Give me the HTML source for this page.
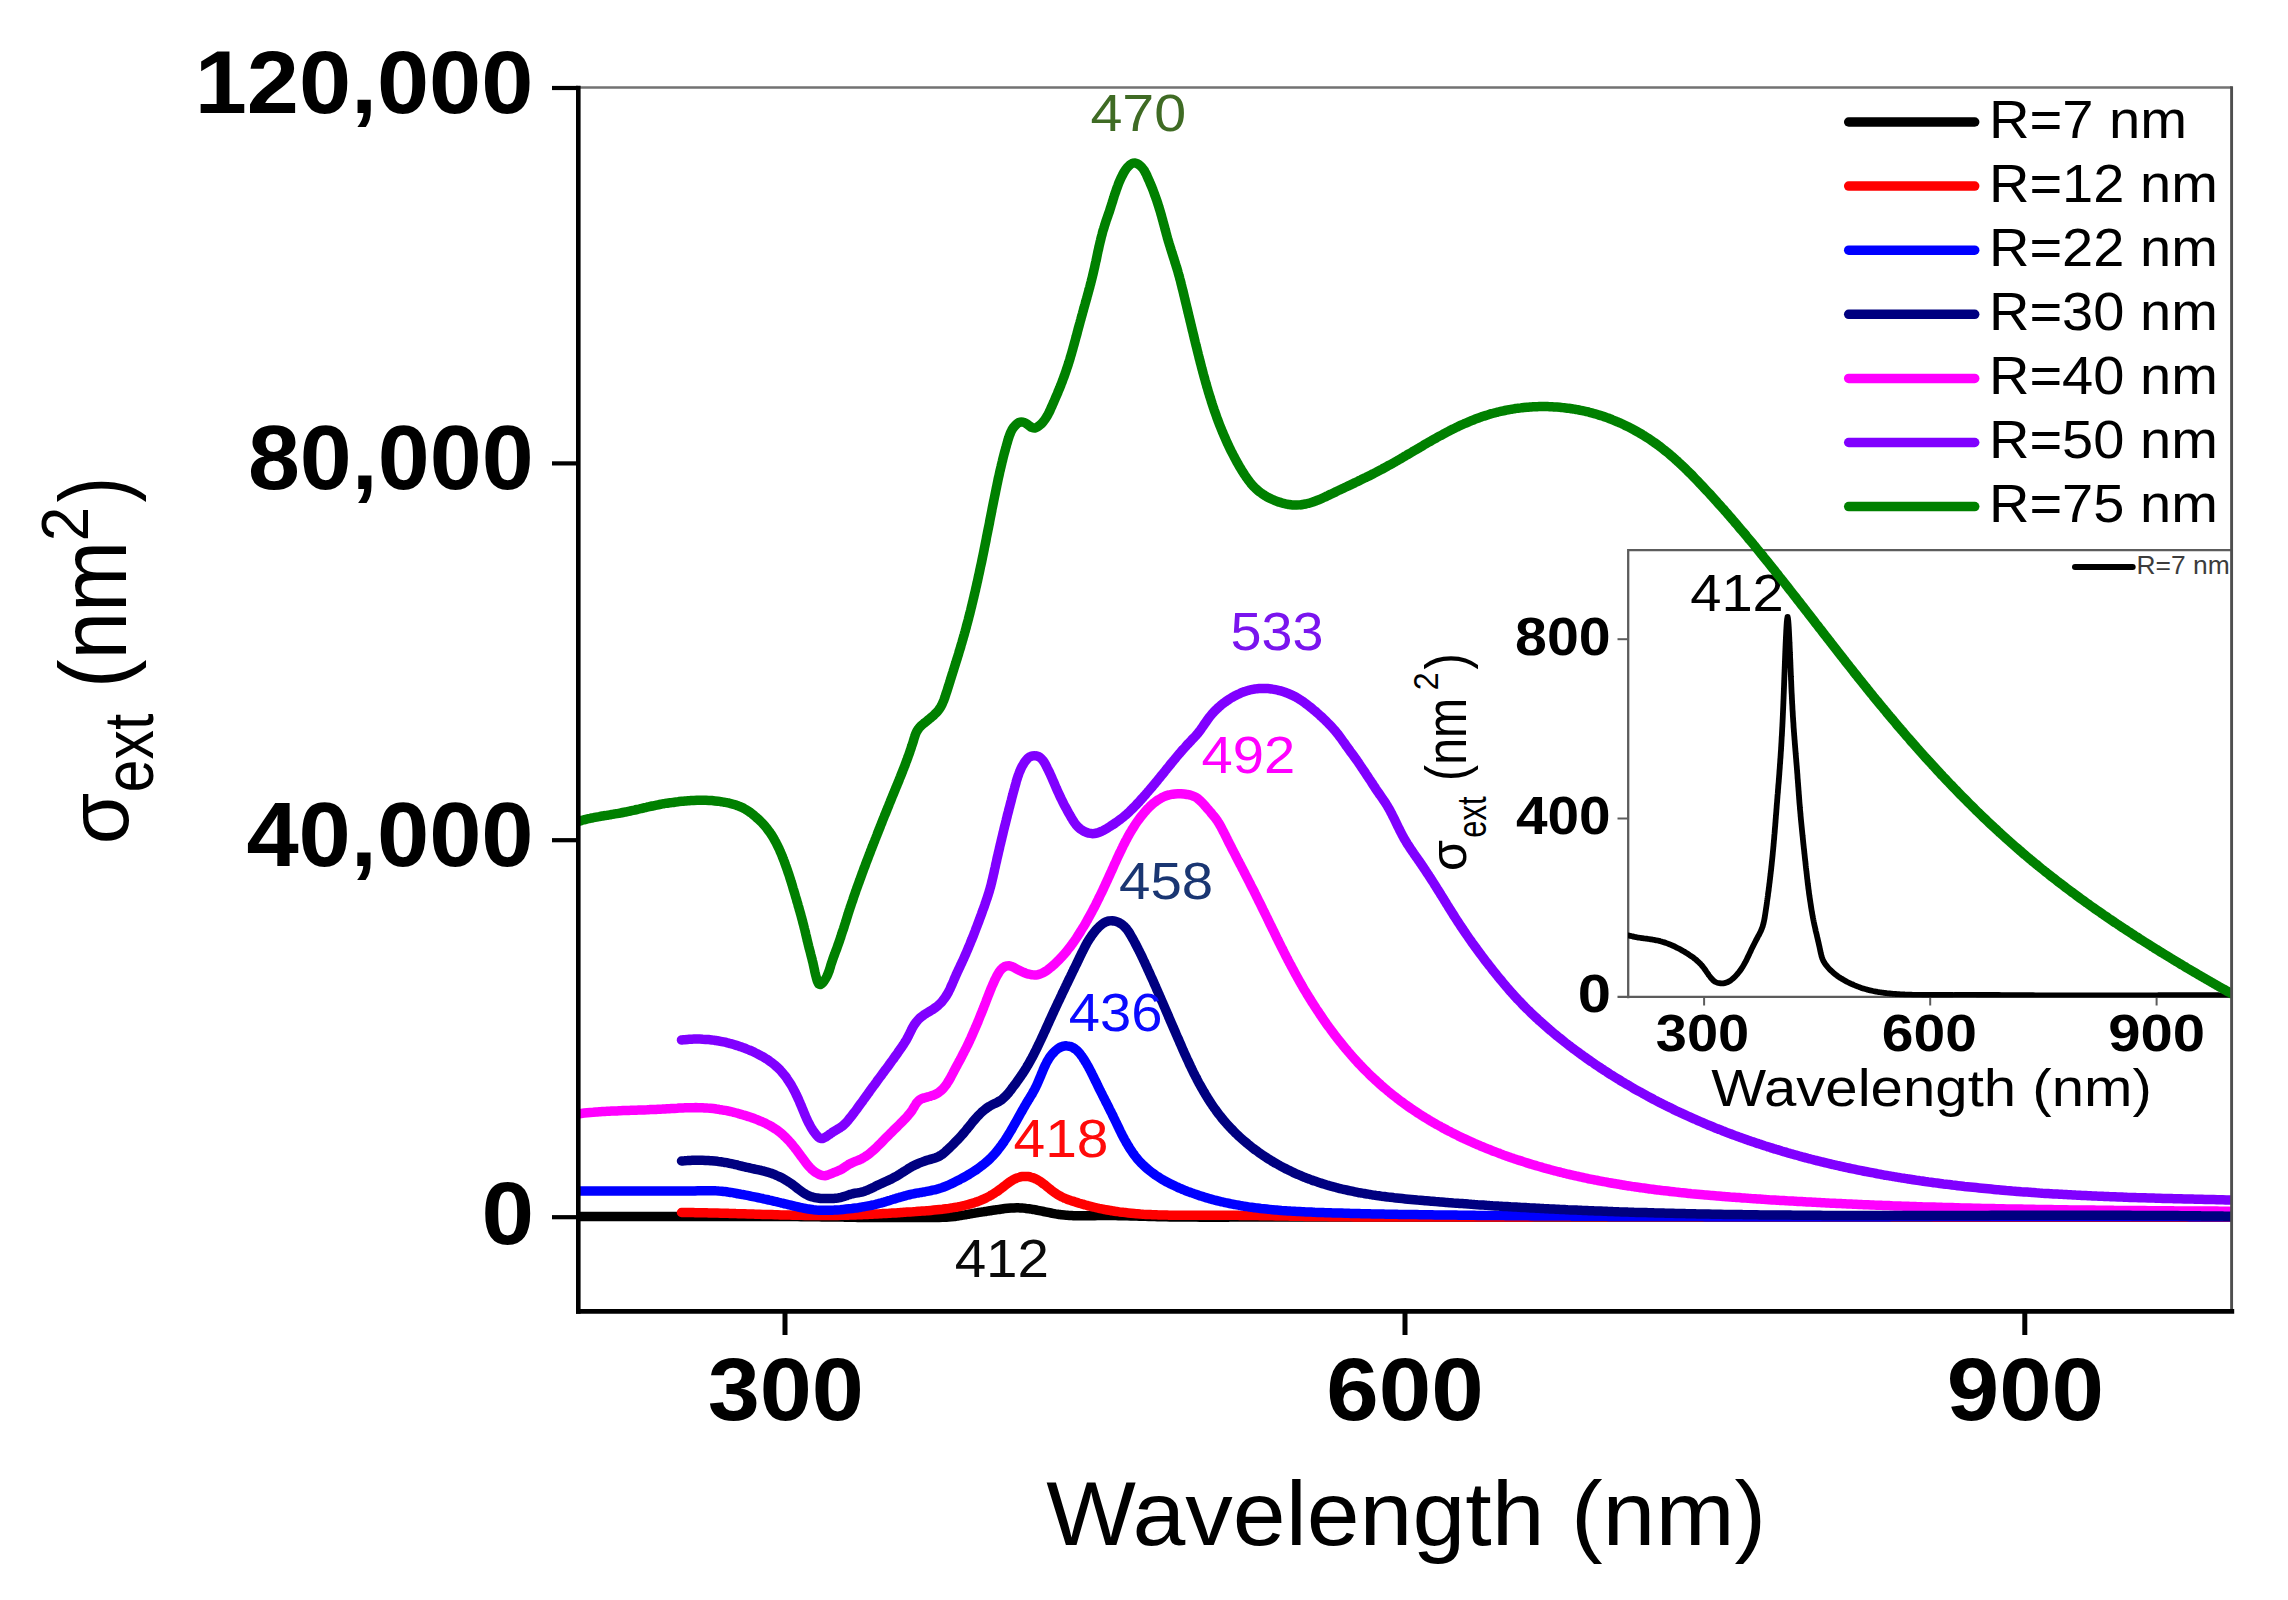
<!DOCTYPE html>
<html lang="en"><head><meta charset="utf-8"><title>Extinction cross section vs wavelength</title>
<style>html,body{margin:0;padding:0;background:#fff}svg{display:block}text{font-family:"Liberation Sans",Arial,sans-serif}.b{font-weight:bold}.c{fill:none;stroke-linecap:round;stroke-linejoin:round}</style></head><body>
<svg xmlns="http://www.w3.org/2000/svg" width="2288" height="1600" viewBox="0 0 2288 1600">
<defs><clipPath id="plot"><rect x="576.5" y="88" width="1656.5" height="1223"/></clipPath><clipPath id="ins"><rect x="1628" y="550" width="604.8" height="447.4"/></clipPath></defs>
<rect width="2288" height="1600" fill="#fff"/>
<g id="inset">
<path d="M1628.2,998.2 V550.1 H2231.5" fill="none" stroke="#5c5c5c" stroke-width="2.3"/>
<path d="M1617.5,996.9 H2231.5" fill="none" stroke="#5c5c5c" stroke-width="2.3"/>
<path d="M1617.5,639.2 H1628" stroke="#5c5c5c" stroke-width="2"/>
<path d="M1617.5,818.5 H1628" stroke="#5c5c5c" stroke-width="2"/>
<path d="M1704.1,997 V1005.5" stroke="#5c5c5c" stroke-width="2"/>
<path d="M1930.2,997 V1005.5" stroke="#5c5c5c" stroke-width="2"/>
<path d="M2156.6,997 V1005.5" stroke="#5c5c5c" stroke-width="2"/>
<path class="c" d="M1628.9,935.4C1629.2,935.5 1630.1,935.8 1630.8,935.9C1631.4,936.1 1632.1,936.3 1632.7,936.4C1633.4,936.6 1634.0,936.7 1634.7,936.9C1635.3,937.0 1636.0,937.1 1636.6,937.2C1637.3,937.4 1638.0,937.5 1638.6,937.6C1639.3,937.7 1639.9,937.8 1640.6,937.9C1641.3,938.0 1641.9,938.1 1642.6,938.2C1643.3,938.3 1643.9,938.4 1644.6,938.5C1645.3,938.6 1645.9,938.6 1646.6,938.7C1647.3,938.8 1647.9,938.9 1648.6,939.0C1649.3,939.1 1649.9,939.2 1650.6,939.3C1651.3,939.4 1651.9,939.5 1652.6,939.6C1653.2,939.7 1653.9,939.8 1654.6,939.9C1655.2,940.1 1655.9,940.2 1656.5,940.3C1657.2,940.5 1657.8,940.6 1658.5,940.7C1659.1,940.9 1659.8,941.0 1660.4,941.2C1661.1,941.4 1661.7,941.6 1662.3,941.8C1663.0,941.9 1663.6,942.1 1664.2,942.4C1664.9,942.6 1665.5,942.8 1666.1,943.0C1666.8,943.2 1667.4,943.5 1668.0,943.7C1668.6,943.9 1669.2,944.2 1669.8,944.4C1670.5,944.7 1671.1,945.0 1671.7,945.2C1672.3,945.5 1672.9,945.8 1673.5,946.1C1674.1,946.3 1674.7,946.6 1675.3,946.9C1675.9,947.2 1676.5,947.5 1677.1,947.8C1677.7,948.1 1678.3,948.4 1678.9,948.7C1679.5,949.1 1680.1,949.4 1680.7,949.7C1681.3,950.0 1681.9,950.3 1682.4,950.7C1683.0,951.0 1683.6,951.3 1684.2,951.7C1684.8,952.0 1685.4,952.4 1685.9,952.7C1686.5,953.1 1687.1,953.4 1687.7,953.8C1688.2,954.1 1688.8,954.5 1689.4,954.9C1689.9,955.2 1690.5,955.6 1691.0,956.0C1691.6,956.4 1692.1,956.8 1692.7,957.1C1693.2,957.5 1693.7,957.9 1694.3,958.4C1694.8,958.8 1695.3,959.2 1695.8,959.6C1696.3,960.0 1696.8,960.5 1697.3,960.9C1697.8,961.3 1698.3,961.8 1698.8,962.2C1699.3,962.7 1699.7,963.2 1700.2,963.6C1700.6,964.1 1701.1,964.6 1701.5,965.1C1702.0,965.6 1702.4,966.1 1702.8,966.6C1703.2,967.1 1703.6,967.7 1704.0,968.2C1704.4,968.8 1704.8,969.3 1705.2,969.9C1705.6,970.4 1706.0,971.0 1706.3,971.5C1706.7,972.1 1707.1,972.6 1707.5,973.2C1707.9,973.8 1708.3,974.3 1708.6,974.9C1709.0,975.4 1709.4,976.0 1709.9,976.5C1710.3,977.1 1710.7,977.6 1711.1,978.1C1711.6,978.6 1712.0,979.2 1712.5,979.6C1713.0,980.1 1713.5,980.5 1714.0,980.9C1714.5,981.3 1715.1,981.7 1715.6,982.0C1716.2,982.3 1716.8,982.6 1717.4,982.8C1718.1,983.0 1718.7,983.1 1719.4,983.2C1720.0,983.3 1720.7,983.4 1721.4,983.4C1722.0,983.4 1722.7,983.4 1723.4,983.3C1724.1,983.2 1724.7,983.1 1725.4,982.9C1726.0,982.7 1726.7,982.5 1727.3,982.3C1727.9,982.0 1728.5,981.7 1729.1,981.4C1729.7,981.0 1730.3,980.7 1730.8,980.3C1731.4,979.9 1731.9,979.5 1732.4,979.0C1732.9,978.6 1733.4,978.1 1733.9,977.7C1734.4,977.2 1734.9,976.7 1735.4,976.2C1735.8,975.8 1736.3,975.3 1736.7,974.8C1737.2,974.3 1737.6,973.8 1738.1,973.2C1738.5,972.7 1738.9,972.2 1739.3,971.7C1739.7,971.1 1740.1,970.6 1740.5,970.1C1740.9,969.5 1741.3,969.0 1741.6,968.4C1742.0,967.8 1742.4,967.3 1742.7,966.7C1743.1,966.2 1743.4,965.6 1743.7,965.0C1744.1,964.4 1744.4,963.8 1744.7,963.3C1745.0,962.7 1745.4,962.1 1745.7,961.5C1746.0,960.9 1746.3,960.3 1746.6,959.7C1746.9,959.1 1747.2,958.5 1747.4,957.9C1747.7,957.3 1748.0,956.7 1748.3,956.1C1748.6,955.5 1748.9,954.9 1749.2,954.3C1749.4,953.7 1749.7,953.1 1750.0,952.5C1750.3,951.9 1750.6,951.3 1750.9,950.6C1751.2,950.0 1751.4,949.4 1751.7,948.8C1752.0,948.2 1752.3,947.6 1752.6,947.0C1752.9,946.4 1753.2,945.9 1753.5,945.3C1753.8,944.7 1754.1,944.1 1754.4,943.5C1754.7,942.9 1755.0,942.3 1755.3,941.7C1755.6,941.1 1755.9,940.5 1756.2,939.9C1756.5,939.3 1756.9,938.7 1757.2,938.1C1757.5,937.5 1757.8,936.9 1758.1,936.3C1758.4,935.7 1758.8,935.2 1759.1,934.6C1759.4,934.0 1759.7,933.4 1760.0,932.8C1760.3,932.2 1760.6,931.6 1760.9,931.0C1761.1,930.3 1761.4,929.7 1761.6,929.1C1761.9,928.5 1762.1,927.9 1762.3,927.3C1762.6,926.6 1762.8,926.0 1762.9,925.4C1763.1,924.7 1763.3,924.1 1763.5,923.4C1763.6,922.8 1763.8,922.1 1763.9,921.5C1764.1,920.8 1764.2,920.2 1764.3,919.5C1764.5,918.9 1764.6,918.2 1764.7,917.6C1764.8,916.9 1764.9,916.2 1765.0,915.6C1765.1,914.9 1765.2,914.3 1765.3,913.6C1765.4,912.9 1765.5,912.3 1765.6,911.6C1765.7,910.9 1765.8,910.3 1765.9,909.6C1766.0,908.9 1766.1,908.3 1766.2,907.6C1766.3,907.0 1766.4,906.3 1766.5,905.6C1766.6,905.0 1766.7,904.3 1766.8,903.6C1766.9,903.0 1766.9,902.3 1767.0,901.7C1767.1,901.0 1767.2,900.3 1767.3,899.7C1767.4,899.0 1767.5,898.3 1767.6,897.7C1767.7,897.0 1767.8,896.3 1767.9,895.7C1768.0,895.0 1768.0,894.4 1768.1,893.7C1768.2,893.0 1768.3,892.4 1768.4,891.7C1768.5,891.0 1768.6,890.4 1768.7,889.7C1768.7,889.0 1768.8,888.4 1768.9,887.7C1769.0,887.1 1769.1,886.4 1769.2,885.7C1769.2,885.1 1769.3,884.4 1769.4,883.7C1769.5,883.1 1769.6,882.4 1769.7,881.7C1769.7,881.1 1769.8,880.4 1769.9,879.8C1770.0,879.1 1770.1,878.4 1770.1,877.8C1770.2,877.1 1770.3,876.4 1770.4,875.8C1770.4,875.1 1770.5,874.4 1770.6,873.8C1770.7,873.1 1770.8,872.5 1770.8,871.8C1770.9,871.1 1771.0,870.5 1771.1,869.8C1771.1,869.1 1771.2,868.5 1771.3,867.8C1771.3,867.1 1771.4,866.5 1771.5,865.8C1771.6,865.2 1771.6,864.5 1771.7,863.8C1771.8,863.2 1771.8,862.5 1771.9,861.8C1772.0,861.2 1772.1,860.5 1772.1,859.8C1772.2,859.2 1772.3,858.5 1772.3,857.9C1772.4,857.2 1772.5,856.5 1772.5,855.9C1772.6,855.2 1772.7,854.5 1772.7,853.9C1772.8,853.2 1772.8,852.6 1772.9,851.9C1773.0,851.2 1773.0,850.6 1773.1,849.9C1773.2,849.2 1773.2,848.6 1773.3,847.9C1773.3,847.2 1773.4,846.6 1773.5,845.9C1773.5,845.3 1773.6,844.6 1773.6,843.9C1773.7,843.3 1773.8,842.6 1773.8,841.9C1773.9,841.3 1773.9,840.6 1774.0,839.9C1774.1,839.3 1774.1,838.6 1774.2,838.0C1774.2,837.3 1774.3,836.6 1774.3,836.0C1774.4,835.3 1774.4,834.6 1774.5,834.0C1774.6,833.3 1774.6,832.6 1774.7,832.0C1774.7,831.3 1774.8,830.6 1774.8,830.0C1774.9,829.3 1774.9,828.7 1775.0,828.0C1775.0,827.3 1775.1,826.7 1775.2,826.0C1775.2,825.3 1775.3,824.7 1775.3,824.0C1775.4,823.3 1775.4,822.7 1775.5,822.0C1775.5,821.3 1775.6,820.7 1775.6,820.0C1775.7,819.3 1775.7,818.7 1775.8,818.0C1775.8,817.3 1775.9,816.7 1775.9,816.0C1776.0,815.3 1776.1,814.7 1776.1,814.0C1776.2,813.3 1776.2,812.6 1776.3,812.0C1776.3,811.3 1776.4,810.6 1776.4,810.0C1776.5,809.3 1776.5,808.6 1776.6,808.0C1776.6,807.3 1776.7,806.6 1776.7,806.0C1776.8,805.3 1776.8,804.6 1776.9,803.9C1776.9,803.3 1777.0,802.6 1777.1,801.9C1777.1,801.3 1777.2,800.6 1777.2,799.9C1777.3,799.2 1777.3,798.6 1777.4,797.9C1777.4,797.2 1777.5,796.5 1777.5,795.9C1777.6,795.2 1777.6,794.5 1777.7,793.9C1777.8,793.2 1777.8,792.5 1777.9,791.9C1777.9,791.2 1778.0,790.5 1778.0,789.8C1778.1,789.2 1778.1,788.5 1778.2,787.9C1778.2,787.2 1778.3,786.5 1778.3,785.9C1778.4,785.2 1778.4,784.6 1778.5,783.9C1778.6,783.2 1778.6,782.6 1778.7,781.9C1778.7,781.3 1778.8,780.7 1778.8,780.0C1778.9,779.4 1778.9,778.7 1779.0,778.1C1779.0,777.4 1779.1,776.8 1779.1,776.2C1779.2,775.6 1779.2,774.9 1779.3,774.3C1779.3,773.7 1779.3,773.0 1779.4,772.4C1779.4,771.8 1779.5,771.2 1779.5,770.6C1779.6,769.9 1779.6,769.3 1779.7,768.7C1779.7,768.1 1779.8,767.5 1779.8,766.9C1779.9,766.2 1779.9,765.6 1779.9,765.0C1780.0,764.4 1780.0,763.8 1780.1,763.2C1780.1,762.6 1780.2,762.0 1780.2,761.4C1780.3,760.7 1780.3,760.1 1780.3,759.5C1780.4,758.9 1780.4,758.3 1780.5,757.7C1780.5,757.1 1780.5,756.5 1780.6,755.9C1780.6,755.3 1780.7,754.6 1780.7,754.0C1780.8,753.4 1780.8,752.8 1780.8,752.2C1780.9,751.6 1780.9,751.0 1781.0,750.4C1781.0,749.7 1781.0,749.1 1781.1,748.5C1781.1,747.9 1781.1,747.3 1781.2,746.6C1781.2,746.0 1781.3,745.4 1781.3,744.8C1781.3,744.1 1781.4,743.5 1781.4,742.9C1781.5,742.3 1781.5,741.6 1781.5,741.0C1781.6,740.4 1781.6,739.7 1781.6,739.1C1781.7,738.4 1781.7,737.8 1781.7,737.1C1781.8,736.5 1781.8,735.8 1781.9,735.2C1781.9,734.5 1781.9,733.9 1782.0,733.2C1782.0,732.6 1782.0,731.9 1782.1,731.2C1782.1,730.5 1782.1,729.9 1782.2,729.2C1782.2,728.5 1782.2,727.8 1782.3,727.1C1782.3,726.5 1782.4,725.8 1782.4,725.1C1782.4,724.4 1782.5,723.7 1782.5,723.0C1782.5,722.3 1782.6,721.6 1782.6,720.8C1782.6,720.1 1782.7,719.4 1782.7,718.7C1782.7,717.9 1782.8,717.2 1782.8,716.5C1782.8,715.7 1782.9,715.0 1782.9,714.2C1782.9,713.5 1783.0,712.7 1783.0,712.0C1783.0,711.2 1783.1,710.4 1783.1,709.6C1783.1,708.9 1783.2,708.1 1783.2,707.3C1783.2,706.5 1783.3,705.7 1783.3,704.9C1783.3,704.1 1783.4,703.3 1783.4,702.4C1783.4,701.6 1783.5,700.8 1783.5,700.0C1783.5,699.1 1783.6,698.3 1783.6,697.4C1783.6,696.6 1783.7,695.7 1783.7,694.8C1783.7,694.0 1783.8,693.1 1783.8,692.2C1783.8,691.4 1783.9,690.5 1783.9,689.6C1783.9,688.7 1784.0,687.8 1784.0,686.9C1784.0,686.0 1784.1,685.1 1784.1,684.2C1784.1,683.3 1784.2,682.4 1784.2,681.5C1784.2,680.6 1784.3,679.7 1784.3,678.8C1784.3,677.9 1784.4,677.0 1784.4,676.1C1784.4,675.2 1784.5,674.2 1784.5,673.3C1784.5,672.4 1784.6,671.5 1784.6,670.6C1784.6,669.7 1784.7,668.8 1784.7,667.9C1784.7,667.0 1784.8,666.1 1784.8,665.2C1784.8,664.3 1784.9,663.4 1784.9,662.5C1784.9,661.6 1785.0,660.8 1785.0,659.9C1785.0,659.0 1785.1,658.1 1785.1,657.3C1785.1,656.4 1785.2,655.5 1785.2,654.7C1785.2,653.8 1785.3,653.0 1785.3,652.1C1785.3,651.3 1785.4,650.5 1785.4,649.6C1785.4,648.8 1785.5,648.0 1785.5,647.2C1785.5,646.4 1785.6,645.6 1785.6,644.8C1785.6,644.0 1785.7,643.2 1785.7,642.5C1785.7,641.7 1785.8,641.0 1785.8,640.2C1785.8,639.5 1785.9,638.8 1785.9,638.0C1785.9,637.3 1786.0,636.6 1786.0,635.9C1786.0,635.2 1786.1,634.6 1786.1,633.9C1786.1,633.2 1786.2,632.6 1786.2,632.0C1786.2,631.3 1786.3,630.7 1786.3,630.1C1786.3,629.5 1786.4,628.9 1786.4,628.4C1786.4,627.8 1786.5,627.3 1786.5,626.7C1786.5,626.2 1786.5,625.7 1786.6,625.2C1786.6,624.7 1786.6,624.2 1786.7,623.8C1786.7,623.3 1786.7,622.9 1786.8,622.5C1786.8,622.1 1786.8,621.7 1786.9,621.3C1786.9,620.9 1786.9,620.6 1787.0,620.3C1787.0,619.9 1787.0,619.6 1787.1,619.4C1787.1,619.1 1787.1,618.8 1787.2,618.6C1787.2,618.4 1787.2,618.1 1787.3,618.0C1787.3,617.8 1787.3,617.6 1787.4,617.5C1787.4,617.4 1787.4,617.3 1787.5,617.2C1787.5,617.1 1787.5,617.0 1787.6,617.0C1787.6,617.0 1787.6,617.0 1787.7,617.0C1787.7,617.1 1787.7,617.1 1787.8,617.2C1787.8,617.3 1787.8,617.4 1787.8,617.5C1787.9,617.7 1787.9,617.8 1787.9,618.0C1788.0,618.2 1788.0,618.4 1788.0,618.7C1788.1,618.9 1788.1,619.2 1788.1,619.5C1788.2,619.7 1788.2,620.0 1788.2,620.4C1788.3,620.7 1788.3,621.1 1788.3,621.4C1788.4,621.8 1788.4,622.2 1788.4,622.6C1788.5,623.0 1788.5,623.5 1788.5,623.9C1788.6,624.4 1788.6,624.9 1788.6,625.4C1788.7,625.9 1788.7,626.4 1788.7,626.9C1788.8,627.4 1788.8,628.0 1788.8,628.6C1788.8,629.1 1788.9,629.7 1788.9,630.3C1788.9,630.9 1789.0,631.5 1789.0,632.2C1789.0,632.8 1789.1,633.5 1789.1,634.1C1789.1,634.8 1789.2,635.5 1789.2,636.2C1789.2,636.8 1789.3,637.5 1789.3,638.3C1789.3,639.0 1789.4,639.7 1789.4,640.5C1789.4,641.2 1789.5,642.0 1789.5,642.7C1789.6,643.5 1789.6,644.3 1789.6,645.1C1789.7,645.8 1789.7,646.6 1789.7,647.5C1789.8,648.3 1789.8,649.1 1789.8,649.9C1789.9,650.7 1789.9,651.6 1789.9,652.4C1790.0,653.2 1790.0,654.1 1790.0,654.9C1790.1,655.8 1790.1,656.7 1790.1,657.5C1790.2,658.4 1790.2,659.3 1790.3,660.2C1790.3,661.0 1790.3,661.9 1790.4,662.8C1790.4,663.7 1790.4,664.6 1790.5,665.5C1790.5,666.4 1790.5,667.3 1790.6,668.2C1790.6,669.1 1790.7,670.0 1790.7,670.9C1790.7,671.8 1790.8,672.7 1790.8,673.6C1790.8,674.5 1790.9,675.4 1790.9,676.3C1791.0,677.3 1791.0,678.2 1791.0,679.1C1791.1,680.0 1791.1,680.9 1791.2,681.8C1791.2,682.7 1791.2,683.6 1791.3,684.5C1791.3,685.4 1791.3,686.3 1791.4,687.2C1791.4,688.1 1791.5,689.0 1791.5,689.8C1791.5,690.7 1791.6,691.6 1791.6,692.5C1791.7,693.4 1791.7,694.2 1791.8,695.1C1791.8,696.0 1791.8,696.8 1791.9,697.7C1791.9,698.5 1792.0,699.4 1792.0,700.2C1792.1,701.0 1792.1,701.9 1792.1,702.7C1792.2,703.5 1792.2,704.3 1792.3,705.1C1792.3,705.9 1792.4,706.7 1792.4,707.5C1792.4,708.3 1792.5,709.1 1792.5,709.9C1792.6,710.6 1792.6,711.4 1792.7,712.2C1792.7,712.9 1792.8,713.7 1792.8,714.4C1792.8,715.2 1792.9,715.9 1792.9,716.7C1793.0,717.4 1793.0,718.1 1793.1,718.9C1793.1,719.6 1793.2,720.3 1793.2,721.0C1793.3,721.7 1793.3,722.4 1793.4,723.1C1793.4,723.9 1793.5,724.6 1793.5,725.2C1793.5,725.9 1793.6,726.6 1793.6,727.3C1793.7,728.0 1793.7,728.7 1793.8,729.4C1793.8,730.0 1793.9,730.7 1793.9,731.4C1794.0,732.0 1794.0,732.7 1794.1,733.4C1794.1,734.0 1794.2,734.7 1794.2,735.3C1794.3,736.0 1794.3,736.6 1794.4,737.3C1794.4,737.9 1794.5,738.6 1794.5,739.2C1794.6,739.8 1794.6,740.5 1794.7,741.1C1794.7,741.8 1794.8,742.4 1794.8,743.0C1794.9,743.6 1794.9,744.3 1795.0,744.9C1795.0,745.5 1795.1,746.1 1795.1,746.8C1795.2,747.4 1795.2,748.0 1795.3,748.6C1795.3,749.2 1795.4,749.9 1795.4,750.5C1795.5,751.1 1795.5,751.7 1795.6,752.3C1795.6,752.9 1795.7,753.5 1795.7,754.1C1795.8,754.8 1795.8,755.4 1795.9,756.0C1795.9,756.6 1796.0,757.2 1796.0,757.8C1796.1,758.4 1796.1,759.0 1796.2,759.6C1796.2,760.2 1796.3,760.8 1796.3,761.5C1796.4,762.1 1796.4,762.7 1796.5,763.3C1796.5,763.9 1796.6,764.5 1796.6,765.1C1796.7,765.7 1796.7,766.3 1796.8,767.0C1796.8,767.6 1796.9,768.2 1796.9,768.8C1797.0,769.4 1797.0,770.0 1797.1,770.7C1797.1,771.3 1797.2,771.9 1797.2,772.5C1797.3,773.1 1797.3,773.8 1797.4,774.4C1797.4,775.0 1797.5,775.7 1797.5,776.3C1797.5,776.9 1797.6,777.6 1797.6,778.2C1797.7,778.8 1797.7,779.5 1797.8,780.1C1797.8,780.8 1797.9,781.4 1797.9,782.1C1798.0,782.7 1798.0,783.4 1798.1,784.0C1798.1,784.7 1798.2,785.3 1798.2,786.0C1798.3,786.7 1798.3,787.3 1798.4,788.0C1798.4,788.6 1798.5,789.3 1798.5,790.0C1798.6,790.6 1798.6,791.3 1798.7,792.0C1798.7,792.7 1798.8,793.3 1798.8,794.0C1798.9,794.7 1798.9,795.3 1799.0,796.0C1799.0,796.7 1799.1,797.4 1799.1,798.0C1799.2,798.7 1799.2,799.4 1799.3,800.1C1799.3,800.7 1799.4,801.4 1799.4,802.1C1799.5,802.7 1799.5,803.4 1799.6,804.1C1799.6,804.8 1799.7,805.4 1799.8,806.1C1799.8,806.8 1799.9,807.4 1799.9,808.1C1800.0,808.8 1800.0,809.4 1800.1,810.1C1800.2,810.8 1800.2,811.5 1800.3,812.1C1800.3,812.8 1800.4,813.5 1800.5,814.1C1800.5,814.8 1800.6,815.5 1800.6,816.1C1800.7,816.8 1800.8,817.5 1800.8,818.1C1800.9,818.8 1800.9,819.5 1801.0,820.1C1801.1,820.8 1801.1,821.5 1801.2,822.1C1801.3,822.8 1801.3,823.4 1801.4,824.1C1801.5,824.8 1801.5,825.4 1801.6,826.1C1801.6,826.8 1801.7,827.4 1801.8,828.1C1801.8,828.8 1801.9,829.4 1802.0,830.1C1802.0,830.7 1802.1,831.4 1802.2,832.1C1802.2,832.7 1802.3,833.4 1802.4,834.1C1802.4,834.7 1802.5,835.4 1802.6,836.1C1802.7,836.7 1802.7,837.4 1802.8,838.0C1802.9,838.7 1802.9,839.4 1803.0,840.0C1803.1,840.7 1803.1,841.4 1803.2,842.0C1803.3,842.7 1803.3,843.3 1803.4,844.0C1803.5,844.7 1803.6,845.3 1803.6,846.0C1803.7,846.6 1803.8,847.3 1803.8,848.0C1803.9,848.6 1804.0,849.3 1804.1,850.0C1804.1,850.6 1804.2,851.3 1804.3,851.9C1804.3,852.6 1804.4,853.3 1804.5,853.9C1804.6,854.6 1804.6,855.3 1804.7,855.9C1804.8,856.6 1804.8,857.2 1804.9,857.9C1805.0,858.6 1805.1,859.2 1805.1,859.9C1805.2,860.6 1805.3,861.2 1805.4,861.9C1805.4,862.5 1805.5,863.2 1805.6,863.9C1805.6,864.5 1805.7,865.2 1805.8,865.9C1805.9,866.5 1805.9,867.2 1806.0,867.9C1806.1,868.5 1806.2,869.2 1806.2,869.9C1806.3,870.5 1806.4,871.2 1806.5,871.8C1806.5,872.5 1806.6,873.2 1806.7,873.8C1806.8,874.5 1806.8,875.2 1806.9,875.8C1807.0,876.5 1807.1,877.2 1807.1,877.8C1807.2,878.5 1807.3,879.2 1807.4,879.8C1807.5,880.5 1807.5,881.2 1807.6,881.8C1807.7,882.5 1807.8,883.2 1807.8,883.8C1807.9,884.5 1808.0,885.1 1808.1,885.8C1808.2,886.5 1808.3,887.1 1808.3,887.8C1808.4,888.5 1808.5,889.1 1808.6,889.8C1808.7,890.5 1808.8,891.1 1808.9,891.8C1808.9,892.5 1809.0,893.1 1809.1,893.8C1809.2,894.4 1809.3,895.1 1809.4,895.8C1809.5,896.4 1809.6,897.1 1809.7,897.8C1809.8,898.4 1809.9,899.1 1810.0,899.7C1810.1,900.4 1810.2,901.1 1810.3,901.7C1810.4,902.4 1810.5,903.1 1810.6,903.7C1810.7,904.4 1810.8,905.0 1810.9,905.7C1811.0,906.4 1811.1,907.0 1811.2,907.7C1811.3,908.3 1811.4,909.0 1811.5,909.6C1811.6,910.3 1811.7,911.0 1811.9,911.6C1812.0,912.3 1812.1,912.9 1812.2,913.6C1812.3,914.3 1812.4,914.9 1812.6,915.6C1812.7,916.2 1812.8,916.9 1812.9,917.5C1813.1,918.2 1813.2,918.8 1813.3,919.5C1813.4,920.1 1813.6,920.8 1813.7,921.5C1813.8,922.1 1814.0,922.8 1814.1,923.4C1814.2,924.1 1814.4,924.7 1814.5,925.4C1814.7,926.0 1814.8,926.7 1815.0,927.3C1815.1,928.0 1815.3,928.6 1815.4,929.3C1815.5,929.9 1815.7,930.6 1815.8,931.2C1816.0,931.9 1816.1,932.5 1816.3,933.2C1816.5,933.8 1816.6,934.5 1816.8,935.1C1816.9,935.7 1817.1,936.4 1817.2,937.0C1817.4,937.7 1817.5,938.3 1817.7,939.0C1817.8,939.6 1818.0,940.3 1818.1,940.9C1818.3,941.6 1818.4,942.2 1818.6,942.9C1818.7,943.6 1818.9,944.2 1819.0,944.9C1819.2,945.5 1819.3,946.2 1819.5,946.8C1819.6,947.5 1819.7,948.1 1819.9,948.8C1820.0,949.5 1820.2,950.1 1820.3,950.8C1820.4,951.4 1820.6,952.1 1820.7,952.8C1820.8,953.4 1821.0,954.1 1821.2,954.7C1821.3,955.4 1821.5,956.0 1821.7,956.7C1821.9,957.3 1822.1,957.9 1822.3,958.5C1822.6,959.2 1822.8,959.8 1823.1,960.4C1823.4,961.0 1823.7,961.5 1824.1,962.1C1824.4,962.7 1824.7,963.3 1825.1,963.8C1825.5,964.4 1825.9,964.9 1826.3,965.4C1826.7,966.0 1827.1,966.5 1827.6,967.0C1828.0,967.5 1828.4,968.0 1828.9,968.5C1829.4,969.0 1829.8,969.5 1830.3,969.9C1830.8,970.4 1831.3,970.9 1831.8,971.3C1832.3,971.8 1832.8,972.2 1833.3,972.7C1833.8,973.1 1834.3,973.5 1834.8,973.9C1835.4,974.4 1835.9,974.8 1836.4,975.2C1837.0,975.6 1837.5,976.0 1838.1,976.4C1838.6,976.7 1839.2,977.1 1839.7,977.5C1840.3,977.9 1840.9,978.2 1841.4,978.6C1842.0,978.9 1842.6,979.3 1843.1,979.6C1843.7,980.0 1844.3,980.3 1844.9,980.6C1845.4,981.0 1846.0,981.3 1846.6,981.6C1847.2,981.9 1847.8,982.2 1848.4,982.5C1849.0,982.8 1849.6,983.1 1850.2,983.4C1850.8,983.7 1851.4,984.0 1852.0,984.2C1852.6,984.5 1853.3,984.8 1853.9,985.0C1854.5,985.3 1855.1,985.6 1855.7,985.8C1856.3,986.0 1857.0,986.3 1857.6,986.5C1858.2,986.8 1858.9,987.0 1859.5,987.2C1860.1,987.4 1860.7,987.6 1861.4,987.9C1862.0,988.1 1862.7,988.3 1863.3,988.5C1863.9,988.7 1864.6,988.8 1865.2,989.0C1865.9,989.2 1866.5,989.4 1867.2,989.6C1867.8,989.7 1868.4,989.9 1869.1,990.1C1869.7,990.2 1870.4,990.4 1871.0,990.5C1871.7,990.7 1872.3,990.8 1873.0,991.0C1873.7,991.1 1874.3,991.2 1875.0,991.4C1875.6,991.5 1876.3,991.6 1876.9,991.7C1877.6,991.9 1878.2,992.0 1878.9,992.1C1879.6,992.2 1880.2,992.3 1880.9,992.4C1881.5,992.5 1882.2,992.6 1882.9,992.7C1883.5,992.8 1884.2,992.9 1884.8,993.0C1885.5,993.0 1886.2,993.1 1886.8,993.2C1887.5,993.3 1888.2,993.3 1888.8,993.4C1889.5,993.5 1890.2,993.5 1890.8,993.6C1891.5,993.7 1892.2,993.7 1892.8,993.8C1893.5,993.8 1894.2,993.9 1894.8,993.9C1895.5,994.0 1896.2,994.0 1896.8,994.1C1897.5,994.1 1898.2,994.2 1898.8,994.2C1899.5,994.3 1900.2,994.3 1900.8,994.3C1901.5,994.4 1902.2,994.4 1902.8,994.4C1903.5,994.5 1904.2,994.5 1904.8,994.5C1905.5,994.6 1906.2,994.6 1906.9,994.6C1907.5,994.6 1908.2,994.7 1908.9,994.7C1909.5,994.7 1910.2,994.7 1910.9,994.7C1911.5,994.8 1912.2,994.8 1912.9,994.8C1913.5,994.8 1914.2,994.8 1914.9,994.8C1915.5,994.9 1916.2,994.9 1916.9,994.9C1917.5,994.9 1918.2,994.9 1918.9,994.9C1919.5,994.9 1920.2,994.9 1920.9,994.9C1921.5,995.0 1922.2,995.0 1922.9,995.0C1923.6,995.0 1924.2,995.0 1924.9,995.0C1925.6,995.0 1926.2,995.0 1926.9,995.0C1927.6,995.0 1928.2,995.0 1928.9,995.0C1929.6,995.0 1930.2,995.0 1930.9,995.0C1931.6,995.0 1932.2,995.0 1932.9,995.0C1933.6,995.0 1934.2,995.0 1934.9,995.0C1935.6,995.0 1936.2,995.0 1936.9,995.0C1937.6,995.0 1938.2,995.0 1938.9,995.0C1939.6,995.0 1940.2,995.0 1940.9,995.0C1941.6,995.0 1942.2,995.0 1942.9,995.0C1943.6,995.0 1944.2,995.0 1944.9,995.0C1945.6,995.0 1946.2,995.0 1946.9,995.0C1947.6,995.0 1948.3,995.0 1948.9,995.0C1949.6,995.0 1950.3,995.0 1950.9,995.0C1951.6,995.0 1952.3,995.0 1952.9,995.0C1953.6,994.9 1954.3,994.9 1954.9,994.9C1955.6,994.9 1956.3,994.9 1956.9,994.9C1957.6,994.9 1958.3,994.9 1958.9,994.9C1959.6,994.9 1960.3,994.9 1960.9,994.9C1961.6,994.9 1962.3,994.9 1962.9,994.9C1963.6,994.9 1964.3,994.9 1964.9,994.9C1965.6,994.9 1966.3,994.9 1966.9,994.9C1967.6,994.9 1968.3,994.9 1969.0,994.9C1969.6,994.9 1970.3,994.9 1971.0,994.9C1971.6,994.9 1972.3,994.9 1973.0,994.9C1973.6,994.9 1974.3,994.9 1975.0,994.9C1975.6,994.9 1976.3,995.0 1977.0,995.0C1977.6,995.0 1978.3,995.0 1979.0,995.0C1979.6,995.0 1980.3,995.0 1981.0,995.0C1981.6,995.0 1982.3,995.0 1983.0,995.0C1983.6,995.0 1984.3,995.0 1985.0,995.0C1985.7,995.0 1986.3,995.0 1987.0,995.0C1987.7,995.0 1988.3,995.0 1989.0,995.0C1989.7,995.0 1990.3,995.0 1991.0,995.0C1991.7,995.0 1992.3,995.0 1993.0,995.0C1993.7,995.0 1994.3,995.0 1995.0,995.0C1995.7,995.0 1996.3,995.0 1997.0,995.0C1997.7,995.0 1998.3,995.0 1999.0,995.0C1999.7,995.0 2000.4,995.0 2001.0,995.1C2001.7,995.1 2002.4,995.1 2003.0,995.1C2003.7,995.1 2004.4,995.1 2005.0,995.1C2005.7,995.1 2006.4,995.1 2007.0,995.1C2007.7,995.1 2008.4,995.1 2009.0,995.1C2009.7,995.1 2010.4,995.1 2011.0,995.1C2011.7,995.1 2012.4,995.1 2013.1,995.1C2013.7,995.1 2014.4,995.1 2015.1,995.1C2015.7,995.1 2016.4,995.1 2017.1,995.1C2017.7,995.1 2018.4,995.2 2019.1,995.2C2019.7,995.2 2020.4,995.2 2021.1,995.2C2021.7,995.2 2022.4,995.2 2023.1,995.2C2023.7,995.2 2024.4,995.2 2025.1,995.2C2025.7,995.2 2026.4,995.2 2027.1,995.2C2027.8,995.2 2028.4,995.2 2029.1,995.2C2029.8,995.2 2030.4,995.2 2031.1,995.2C2031.8,995.2 2032.4,995.2 2033.1,995.2C2033.8,995.2 2034.4,995.2 2035.1,995.3C2035.8,995.3 2036.4,995.3 2037.1,995.3C2037.8,995.3 2038.4,995.3 2039.1,995.3C2039.8,995.3 2040.4,995.3 2041.1,995.3C2041.8,995.3 2042.5,995.3 2043.1,995.3C2043.8,995.3 2044.5,995.3 2045.1,995.3C2045.8,995.3 2046.5,995.3 2047.1,995.3C2047.8,995.3 2048.5,995.3 2049.1,995.3C2049.8,995.3 2050.5,995.3 2051.1,995.3C2051.8,995.3 2052.5,995.3 2053.1,995.3C2053.8,995.3 2054.5,995.3 2055.1,995.3C2055.8,995.3 2056.5,995.3 2057.2,995.3C2057.8,995.3 2058.5,995.3 2059.2,995.3C2059.8,995.4 2060.5,995.4 2061.2,995.4C2061.8,995.4 2062.5,995.4 2063.2,995.4C2063.8,995.4 2064.5,995.4 2065.2,995.4C2065.8,995.4 2066.5,995.4 2067.2,995.4C2067.8,995.4 2068.5,995.4 2069.2,995.4C2069.8,995.4 2070.5,995.4 2071.2,995.4C2071.9,995.4 2072.5,995.4 2073.2,995.4C2073.9,995.4 2074.5,995.4 2075.2,995.4C2075.9,995.4 2076.5,995.4 2077.2,995.4C2077.9,995.4 2078.5,995.4 2079.2,995.4C2079.9,995.4 2080.5,995.4 2081.2,995.4C2081.9,995.4 2082.5,995.4 2083.2,995.4C2083.9,995.4 2084.5,995.4 2085.2,995.4C2085.9,995.4 2086.5,995.4 2087.2,995.4C2087.9,995.4 2088.6,995.4 2089.2,995.4C2089.9,995.4 2090.6,995.4 2091.2,995.4C2091.9,995.4 2092.6,995.4 2093.2,995.4C2093.9,995.4 2094.6,995.4 2095.2,995.4C2095.9,995.4 2096.6,995.4 2097.2,995.4C2097.9,995.4 2098.6,995.4 2099.2,995.4C2099.9,995.4 2100.6,995.4 2101.2,995.4C2101.9,995.4 2102.6,995.4 2103.2,995.4C2103.9,995.4 2104.6,995.4 2105.3,995.4C2105.9,995.4 2106.6,995.4 2107.3,995.4C2107.9,995.4 2108.6,995.4 2109.3,995.4C2109.9,995.4 2110.6,995.4 2111.3,995.4C2111.9,995.4 2112.6,995.3 2113.3,995.3C2113.9,995.3 2114.6,995.3 2115.3,995.3C2115.9,995.3 2116.6,995.3 2117.3,995.3C2117.9,995.3 2118.6,995.3 2119.3,995.3C2119.9,995.3 2120.6,995.3 2121.3,995.3C2121.9,995.3 2122.6,995.3 2123.3,995.3C2124.0,995.3 2124.6,995.3 2125.3,995.3C2126.0,995.3 2126.6,995.3 2127.3,995.3C2128.0,995.3 2128.6,995.3 2129.3,995.3C2130.0,995.3 2130.6,995.3 2131.3,995.3C2132.0,995.3 2132.6,995.3 2133.3,995.3C2134.0,995.3 2134.6,995.3 2135.3,995.3C2136.0,995.3 2136.6,995.3 2137.3,995.3C2138.0,995.3 2138.6,995.3 2139.3,995.3C2140.0,995.3 2140.6,995.3 2141.3,995.3C2142.0,995.3 2142.7,995.3 2143.3,995.3C2144.0,995.3 2144.7,995.3 2145.3,995.3C2146.0,995.3 2146.7,995.3 2147.3,995.3C2148.0,995.3 2148.7,995.3 2149.3,995.3C2150.0,995.3 2150.7,995.3 2151.3,995.3C2152.0,995.3 2152.7,995.3 2153.3,995.3C2154.0,995.3 2154.7,995.3 2155.3,995.3C2156.0,995.3 2156.7,995.3 2157.3,995.3C2158.0,995.3 2158.7,995.2 2159.3,995.2C2160.0,995.2 2160.7,995.2 2161.4,995.2C2162.0,995.2 2162.7,995.2 2163.4,995.2C2164.0,995.2 2164.7,995.2 2165.4,995.2C2166.0,995.2 2166.7,995.2 2167.4,995.2C2168.0,995.2 2168.7,995.2 2169.4,995.2C2170.0,995.2 2170.7,995.2 2171.4,995.2C2172.0,995.2 2172.7,995.2 2173.4,995.2C2174.0,995.2 2174.7,995.2 2175.4,995.2C2176.0,995.2 2176.7,995.2 2177.4,995.2C2178.1,995.2 2178.7,995.2 2179.4,995.2C2180.1,995.2 2180.7,995.2 2181.4,995.2C2182.1,995.2 2182.7,995.2 2183.4,995.2C2184.1,995.2 2184.7,995.2 2185.4,995.2C2186.1,995.2 2186.7,995.2 2187.4,995.2C2188.1,995.2 2188.7,995.2 2189.4,995.2C2190.1,995.2 2190.7,995.2 2191.4,995.2C2192.1,995.2 2192.7,995.2 2193.4,995.2C2194.1,995.2 2194.8,995.2 2195.4,995.2C2196.1,995.2 2196.8,995.2 2197.4,995.2C2198.1,995.2 2198.8,995.2 2199.4,995.2C2200.1,995.2 2200.8,995.2 2201.4,995.2C2202.1,995.2 2202.8,995.2 2203.4,995.2C2204.1,995.2 2204.8,995.2 2205.4,995.2C2206.1,995.2 2206.8,995.2 2207.4,995.2C2208.1,995.2 2208.8,995.2 2209.4,995.2C2210.1,995.2 2210.8,995.2 2211.5,995.2C2212.1,995.2 2212.8,995.2 2213.5,995.2C2214.1,995.2 2214.8,995.2 2215.5,995.2C2216.1,995.2 2216.8,995.2 2217.5,995.2C2218.1,995.2 2218.8,995.3 2219.5,995.3C2220.1,995.3 2220.8,995.3 2221.5,995.3C2222.1,995.3 2222.8,995.3 2223.5,995.3C2224.1,995.3 2224.8,995.3 2225.5,995.3C2226.2,995.3 2226.8,995.3 2227.5,995.3C2228.2,995.3 2228.8,995.3 2229.5,995.3C2230.2,995.3 2231.2,995.3 2231.5,995.3" stroke="#000" stroke-width="5.8" clip-path="url(#ins)"/>
<text class="b" transform="translate(1515.08,654.60) scale(1.0783,1)" font-size="53.14">800</text>
<text class="b" transform="translate(1515.95,833.90) scale(1.0683,1)" font-size="53.14">400</text>
<text class="b" transform="translate(1577.81,1012.40) scale(1.1191,1)" font-size="53.43">0</text>
<text class="b" transform="translate(1655.80,1051.30) scale(1.0769,1)" font-size="52.00">300</text>
<text class="b" transform="translate(1881.81,1051.30) scale(1.0958,1)" font-size="52.00">600</text>
<text class="b" transform="translate(2108.17,1051.30) scale(1.1164,1)" font-size="52.00">900</text>
<text transform="translate(1711.21,1105.90) scale(1.1179,1)" font-size="52.03">Wavelength (nm)</text>
<text transform="translate(1466.00,869.00) rotate(-90) scale(0.9759,1)" x="-2.06" font-size="51.51">σ</text>
<text transform="translate(1485.80,836.50) rotate(-90) scale(0.7743,1)" x="-1.60" font-size="40.00">ext</text>
<text transform="translate(1465.50,778.00) rotate(-90) scale(0.8279,1)" x="-3.49" font-size="58.21">(nm</text>
<text transform="translate(1437.90,688.70) rotate(-90) scale(0.8913,1)" x="-1.80" font-size="36.00">2</text>
<text transform="translate(1465.50,669.20) rotate(-90) scale(0.8428,1)" x="-0.29" font-size="58.21">)</text>
<text transform="translate(1690.18,611.20) scale(1.0911,1)" font-size="51.43">412</text>
<path class="c" d="M2075,567.1 H2132.7" stroke="#000" stroke-width="6"/>
<text transform="translate(2136.49,573.70) scale(1.0534,1)" font-size="25.07" fill="#3c3c3c">R=7 nm</text>
</g>
<g id="curves" clip-path="url(#plot)">
<path class="c" d="M578.3,1216.5C578.8,1216.5 580.3,1216.5 581.3,1216.5C582.3,1216.5 583.3,1216.5 584.3,1216.5C585.3,1216.5 586.3,1216.5 587.3,1216.5C588.3,1216.5 589.3,1216.5 590.3,1216.5C591.3,1216.5 592.3,1216.5 593.3,1216.5C594.3,1216.5 595.3,1216.5 596.4,1216.5C597.4,1216.5 598.4,1216.5 599.4,1216.5C600.4,1216.5 601.4,1216.5 602.4,1216.5C603.4,1216.5 604.4,1216.5 605.4,1216.5C606.4,1216.5 607.4,1216.5 608.4,1216.5C609.4,1216.5 610.4,1216.5 611.4,1216.5C612.4,1216.5 613.4,1216.5 614.4,1216.5C615.4,1216.5 616.4,1216.5 617.4,1216.5C618.4,1216.5 619.4,1216.5 620.4,1216.5C621.4,1216.5 622.4,1216.5 623.4,1216.5C624.4,1216.5 625.4,1216.5 626.4,1216.5C627.4,1216.5 628.4,1216.5 629.4,1216.5C630.4,1216.5 631.5,1216.5 632.5,1216.5C633.5,1216.5 634.5,1216.5 635.5,1216.5C636.5,1216.5 637.5,1216.5 638.5,1216.5C639.5,1216.5 640.5,1216.5 641.5,1216.5C642.5,1216.5 643.5,1216.5 644.5,1216.5C645.5,1216.5 646.5,1216.5 647.5,1216.5C648.5,1216.5 649.5,1216.5 650.5,1216.5C651.5,1216.5 652.5,1216.5 653.5,1216.5C654.5,1216.5 655.5,1216.5 656.5,1216.5C657.5,1216.5 658.5,1216.5 659.5,1216.5C660.5,1216.5 661.5,1216.5 662.5,1216.5C663.5,1216.5 664.5,1216.5 665.5,1216.5C666.6,1216.5 667.6,1216.5 668.6,1216.5C669.6,1216.5 670.6,1216.5 671.6,1216.5C672.6,1216.5 673.6,1216.5 674.6,1216.5C675.6,1216.5 676.6,1216.5 677.6,1216.5C678.6,1216.5 679.6,1216.5 680.6,1216.5C681.6,1216.5 682.6,1216.5 683.6,1216.5C684.6,1216.5 685.6,1216.5 686.6,1216.5C687.6,1216.5 688.6,1216.5 689.6,1216.5C690.6,1216.5 691.6,1216.5 692.6,1216.5C693.6,1216.5 694.6,1216.5 695.6,1216.5C696.6,1216.5 697.6,1216.5 698.6,1216.5C699.6,1216.5 700.6,1216.5 701.7,1216.5C702.7,1216.5 703.7,1216.5 704.7,1216.5C705.7,1216.5 706.7,1216.5 707.7,1216.5C708.7,1216.5 709.7,1216.4 710.7,1216.4C711.7,1216.4 712.7,1216.4 713.7,1216.4C714.7,1216.4 715.7,1216.4 716.7,1216.4C717.7,1216.4 718.7,1216.4 719.7,1216.4C720.7,1216.4 721.7,1216.4 722.7,1216.4C723.7,1216.4 724.7,1216.4 725.7,1216.4C726.7,1216.4 727.7,1216.4 728.7,1216.4C729.7,1216.4 730.7,1216.4 731.7,1216.4C732.7,1216.4 733.7,1216.4 734.7,1216.4C735.7,1216.4 736.8,1216.4 737.8,1216.4C738.8,1216.4 739.8,1216.4 740.8,1216.4C741.8,1216.4 742.8,1216.4 743.8,1216.5C744.8,1216.5 745.8,1216.5 746.8,1216.5C747.8,1216.5 748.8,1216.5 749.8,1216.5C750.8,1216.5 751.8,1216.5 752.8,1216.5C753.8,1216.5 754.8,1216.5 755.8,1216.5C756.8,1216.5 757.8,1216.5 758.8,1216.5C759.8,1216.5 760.8,1216.5 761.8,1216.5C762.8,1216.5 763.8,1216.5 764.8,1216.5C765.8,1216.5 766.8,1216.5 767.8,1216.5C768.8,1216.5 769.8,1216.5 770.8,1216.5C771.9,1216.5 772.9,1216.5 773.9,1216.5C774.9,1216.5 775.9,1216.5 776.9,1216.5C777.9,1216.5 778.9,1216.5 779.9,1216.5C780.9,1216.5 781.9,1216.6 782.9,1216.6C783.9,1216.6 784.9,1216.6 785.9,1216.6C786.9,1216.6 787.9,1216.6 788.9,1216.6C789.9,1216.6 790.9,1216.6 791.9,1216.6C792.9,1216.6 793.9,1216.6 794.9,1216.6C795.9,1216.6 796.9,1216.6 797.9,1216.6C798.9,1216.7 799.9,1216.7 800.9,1216.7C801.9,1216.7 802.9,1216.7 803.9,1216.7C804.9,1216.7 805.9,1216.7 807.0,1216.7C808.0,1216.7 809.0,1216.7 810.0,1216.7C811.0,1216.7 812.0,1216.8 813.0,1216.8C814.0,1216.8 815.0,1216.8 816.0,1216.8C817.0,1216.8 818.0,1216.8 819.0,1216.8C820.0,1216.8 821.0,1216.8 822.0,1216.9C823.0,1216.9 824.0,1216.9 825.0,1216.9C826.0,1216.9 827.0,1216.9 828.0,1216.9C829.0,1216.9 830.0,1216.9 831.0,1217.0C832.0,1217.0 833.0,1217.0 834.0,1217.0C835.0,1217.0 836.0,1217.0 837.0,1217.0C838.0,1217.1 839.0,1217.1 840.0,1217.1C841.0,1217.1 842.0,1217.1 843.0,1217.1C844.1,1217.1 845.1,1217.2 846.1,1217.2C847.1,1217.2 848.1,1217.2 849.1,1217.2C850.1,1217.2 851.1,1217.3 852.1,1217.3C853.1,1217.3 854.1,1217.3 855.1,1217.3C856.1,1217.3 857.1,1217.3 858.1,1217.4C859.1,1217.4 860.1,1217.4 861.1,1217.4C862.1,1217.4 863.1,1217.4 864.1,1217.4C865.1,1217.5 866.1,1217.5 867.1,1217.5C868.1,1217.5 869.1,1217.5 870.1,1217.5C871.1,1217.5 872.1,1217.5 873.1,1217.5C874.1,1217.6 875.1,1217.6 876.1,1217.6C877.1,1217.6 878.1,1217.6 879.1,1217.6C880.1,1217.6 881.2,1217.6 882.2,1217.6C883.2,1217.6 884.2,1217.6 885.2,1217.6C886.2,1217.6 887.2,1217.6 888.2,1217.6C889.2,1217.6 890.2,1217.6 891.2,1217.6C892.2,1217.6 893.2,1217.6 894.2,1217.6C895.2,1217.6 896.2,1217.6 897.2,1217.6C898.2,1217.6 899.2,1217.6 900.2,1217.5C901.2,1217.5 902.2,1217.5 903.2,1217.5C904.2,1217.5 905.2,1217.5 906.2,1217.5C907.2,1217.5 908.2,1217.5 909.2,1217.5C910.2,1217.5 911.2,1217.5 912.2,1217.4C913.2,1217.4 914.3,1217.4 915.3,1217.4C916.3,1217.4 917.3,1217.4 918.3,1217.4C919.3,1217.4 920.3,1217.4 921.3,1217.4C922.3,1217.4 923.3,1217.4 924.3,1217.4C925.3,1217.4 926.3,1217.4 927.3,1217.4C928.3,1217.4 929.3,1217.4 930.3,1217.4C931.3,1217.4 932.3,1217.4 933.3,1217.4C934.3,1217.4 935.3,1217.4 936.3,1217.4C937.3,1217.4 938.3,1217.4 939.3,1217.4C940.3,1217.4 941.3,1217.4 942.3,1217.3C943.3,1217.3 944.3,1217.3 945.3,1217.2C946.3,1217.2 947.3,1217.1 948.3,1217.0C949.3,1216.9 950.3,1216.8 951.3,1216.7C952.3,1216.6 953.3,1216.5 954.3,1216.4C955.3,1216.3 956.3,1216.1 957.3,1216.0C958.3,1215.9 959.3,1215.7 960.3,1215.6C961.2,1215.4 962.2,1215.2 963.2,1215.1C964.2,1214.9 965.2,1214.8 966.2,1214.6C967.2,1214.4 968.2,1214.3 969.2,1214.1C970.2,1214.0 971.2,1213.8 972.1,1213.6C973.1,1213.5 974.1,1213.3 975.1,1213.1C976.1,1213.0 977.1,1212.8 978.1,1212.6C979.1,1212.5 980.1,1212.3 981.1,1212.1C982.0,1212.0 983.0,1211.8 984.0,1211.7C985.0,1211.5 986.0,1211.3 987.0,1211.2C988.0,1211.0 989.0,1210.9 990.0,1210.7C991.0,1210.6 992.0,1210.4 992.9,1210.3C993.9,1210.1 994.9,1210.0 995.9,1209.8C996.9,1209.7 997.9,1209.5 998.9,1209.4C999.9,1209.3 1000.9,1209.1 1001.9,1209.0C1002.9,1208.9 1003.9,1208.7 1004.9,1208.6C1005.9,1208.5 1006.9,1208.4 1007.9,1208.3C1008.9,1208.2 1009.9,1208.1 1010.9,1208.0C1011.9,1208.0 1012.9,1207.9 1013.9,1207.9C1014.9,1207.8 1015.9,1207.8 1016.9,1207.8C1017.9,1207.8 1018.9,1207.9 1019.9,1207.9C1020.9,1207.9 1021.9,1208.0 1022.9,1208.1C1023.9,1208.1 1024.8,1208.2 1025.8,1208.4C1026.8,1208.5 1027.8,1208.6 1028.8,1208.7C1029.8,1208.9 1030.8,1209.0 1031.8,1209.2C1032.8,1209.3 1033.8,1209.5 1034.7,1209.7C1035.7,1209.9 1036.7,1210.1 1037.7,1210.3C1038.7,1210.5 1039.7,1210.7 1040.7,1210.9C1041.7,1211.1 1042.6,1211.3 1043.6,1211.5C1044.6,1211.7 1045.6,1211.9 1046.6,1212.1C1047.6,1212.3 1048.5,1212.5 1049.5,1212.7C1050.5,1212.9 1051.5,1213.1 1052.5,1213.3C1053.5,1213.5 1054.5,1213.7 1055.5,1213.9C1056.4,1214.0 1057.4,1214.2 1058.4,1214.3C1059.4,1214.5 1060.4,1214.6 1061.4,1214.8C1062.4,1214.9 1063.4,1215.0 1064.4,1215.1C1065.4,1215.2 1066.4,1215.3 1067.4,1215.3C1068.4,1215.4 1069.4,1215.5 1070.4,1215.5C1071.4,1215.6 1072.4,1215.6 1073.4,1215.7C1074.4,1215.7 1075.4,1215.7 1076.4,1215.8C1077.4,1215.8 1078.4,1215.8 1079.4,1215.8C1080.4,1215.8 1081.4,1215.8 1082.4,1215.8C1083.4,1215.8 1084.4,1215.8 1085.4,1215.8C1086.4,1215.8 1087.5,1215.8 1088.5,1215.8C1089.5,1215.7 1090.5,1215.7 1091.5,1215.7C1092.5,1215.7 1093.5,1215.7 1094.5,1215.7C1095.5,1215.6 1096.5,1215.6 1097.5,1215.6C1098.5,1215.6 1099.5,1215.6 1100.5,1215.6C1101.5,1215.6 1102.5,1215.6 1103.6,1215.6C1104.6,1215.6 1105.6,1215.6 1106.6,1215.6C1107.6,1215.6 1108.6,1215.6 1109.6,1215.6C1110.6,1215.6 1111.6,1215.6 1112.6,1215.6C1113.6,1215.6 1114.6,1215.6 1115.6,1215.6C1116.6,1215.6 1117.6,1215.6 1118.6,1215.7C1119.6,1215.7 1120.6,1215.7 1121.6,1215.7C1122.6,1215.7 1123.6,1215.8 1124.6,1215.8C1125.6,1215.8 1126.6,1215.8 1127.6,1215.8C1128.6,1215.9 1129.6,1215.9 1130.6,1215.9C1131.6,1216.0 1132.6,1216.0 1133.6,1216.0C1134.6,1216.0 1135.6,1216.1 1136.6,1216.1C1137.6,1216.1 1138.6,1216.1 1139.6,1216.2C1140.6,1216.2 1141.6,1216.2 1142.6,1216.3C1143.6,1216.3 1144.6,1216.3 1145.6,1216.3C1146.6,1216.4 1147.6,1216.4 1148.6,1216.4C1149.6,1216.5 1150.6,1216.5 1151.6,1216.5C1152.6,1216.5 1153.6,1216.6 1154.6,1216.6C1155.7,1216.6 1156.7,1216.6 1157.7,1216.7C1158.7,1216.7 1159.7,1216.7 1160.7,1216.7C1161.7,1216.7 1162.7,1216.8 1163.7,1216.8C1164.7,1216.8 1165.7,1216.8 1166.7,1216.8C1167.7,1216.9 1168.7,1216.9 1169.7,1216.9C1170.7,1216.9 1171.7,1216.9 1172.7,1216.9C1173.7,1216.9 1174.7,1217.0 1175.7,1217.0C1176.7,1217.0 1177.7,1217.0 1178.7,1217.0C1179.7,1217.0 1180.7,1217.0 1181.7,1217.0C1182.7,1217.1 1183.7,1217.1 1184.7,1217.1C1185.7,1217.1 1186.7,1217.1 1187.7,1217.1C1188.7,1217.1 1189.7,1217.1 1190.7,1217.1C1191.7,1217.1 1192.7,1217.1 1193.7,1217.1C1194.7,1217.1 1195.7,1217.1 1196.7,1217.1C1197.7,1217.2 1198.7,1217.2 1199.7,1217.2C1200.7,1217.2 1201.7,1217.2 1202.7,1217.2C1203.7,1217.2 1204.7,1217.2 1205.8,1217.2C1206.8,1217.2 1207.8,1217.2 1208.8,1217.2C1209.8,1217.2 1210.8,1217.2 1211.8,1217.2C1212.8,1217.2 1213.8,1217.2 1214.8,1217.2C1215.8,1217.2 1216.8,1217.2 1217.8,1217.2C1218.8,1217.2 1219.8,1217.2 1220.8,1217.2C1221.8,1217.2 1222.8,1217.2 1223.8,1217.2C1224.8,1217.2 1225.8,1217.2 1226.8,1217.2C1227.8,1217.2 1228.8,1217.1 1229.8,1217.1C1230.8,1217.1 1231.8,1217.1 1232.8,1217.1C1233.8,1217.1 1234.8,1217.1 1235.8,1217.1C1236.8,1217.1 1237.9,1217.1 1238.9,1217.1C1239.9,1217.1 1240.9,1217.1 1241.9,1217.1C1242.9,1217.1 1243.9,1217.1 1244.9,1217.1C1245.9,1217.1 1246.9,1217.1 1247.9,1217.1C1248.9,1217.1 1249.9,1217.1 1250.9,1217.1C1251.9,1217.1 1252.9,1217.1 1253.9,1217.1C1254.9,1217.1 1255.9,1217.0 1256.9,1217.0C1257.9,1217.0 1258.9,1217.0 1259.9,1217.0C1260.9,1217.0 1261.9,1217.0 1262.9,1217.0C1263.9,1217.0 1264.9,1217.0 1265.9,1217.0C1266.9,1217.0 1267.9,1217.0 1268.9,1217.0C1270.0,1217.0 1271.0,1217.0 1272.0,1217.0C1273.0,1217.0 1274.0,1217.0 1275.0,1217.0C1276.0,1217.0 1277.0,1217.0 1278.0,1217.0C1279.0,1217.0 1280.0,1217.0 1281.0,1217.0C1282.0,1217.0 1283.0,1217.0 1284.0,1217.0C1285.0,1217.0 1286.0,1217.0 1287.0,1217.0C1288.0,1217.0 1289.0,1217.0 1290.0,1217.0C1291.0,1217.0 1292.0,1216.9 1293.0,1216.9C1294.0,1216.9 1295.0,1216.9 1296.0,1216.9C1297.0,1216.9 1298.0,1216.9 1299.0,1216.9C1300.0,1216.9 1301.0,1216.9 1302.1,1216.9C1303.1,1216.9 1304.1,1216.9 1305.1,1216.9C1306.1,1216.9 1307.1,1216.9 1308.1,1216.9C1309.1,1216.9 1310.1,1216.9 1311.1,1216.9C1312.1,1216.9 1313.1,1216.9 1314.1,1216.9C1315.1,1216.9 1316.1,1216.9 1317.1,1216.9C1318.1,1216.9 1319.1,1216.9 1320.1,1216.9C1321.1,1216.9 1322.1,1216.9 1323.1,1216.9C1324.1,1216.9 1325.1,1216.9 1326.1,1216.9C1327.1,1216.9 1328.1,1216.9 1329.1,1216.9C1330.1,1216.9 1331.1,1216.9 1332.1,1216.9C1333.1,1216.9 1334.1,1216.9 1335.1,1216.9C1336.2,1216.9 1337.2,1216.9 1338.2,1216.9C1339.2,1216.9 1340.2,1216.9 1341.2,1216.9C1342.2,1216.9 1343.2,1216.9 1344.2,1216.9C1345.2,1216.9 1346.2,1216.9 1347.2,1216.9C1348.2,1216.9 1349.2,1216.9 1350.2,1216.9C1351.2,1216.9 1352.2,1216.9 1353.2,1216.9C1354.2,1216.9 1355.2,1216.9 1356.2,1216.9C1357.2,1216.9 1358.2,1216.9 1359.2,1216.9C1360.2,1216.9 1361.2,1216.9 1362.2,1216.9C1363.2,1216.9 1364.2,1216.9 1365.2,1216.9C1366.2,1216.9 1367.2,1216.9 1368.2,1216.9C1369.2,1216.9 1370.2,1216.9 1371.3,1216.9C1372.3,1216.9 1373.3,1216.9 1374.3,1216.9C1375.3,1216.9 1376.3,1216.9 1377.3,1216.9C1378.3,1216.9 1379.3,1216.9 1380.3,1216.9C1381.3,1216.9 1382.3,1216.9 1383.3,1216.9C1384.3,1216.9 1385.3,1216.9 1386.3,1216.9C1387.3,1216.9 1388.3,1216.9 1389.3,1216.9C1390.3,1216.9 1391.3,1216.9 1392.3,1216.9C1393.3,1216.9 1394.3,1216.9 1395.3,1216.9C1396.3,1216.9 1397.3,1216.9 1398.3,1216.9C1399.3,1216.9 1400.3,1216.9 1401.3,1216.9C1402.3,1216.9 1403.3,1216.9 1404.3,1216.9C1405.3,1216.9 1406.4,1216.9 1407.4,1216.9C1408.4,1216.9 1409.4,1216.9 1410.4,1216.9C1411.4,1216.9 1412.4,1216.9 1413.4,1216.9C1414.4,1216.9 1415.4,1216.9 1416.4,1216.9C1417.4,1216.9 1418.4,1216.9 1419.4,1216.9C1420.4,1216.9 1421.4,1216.9 1422.4,1216.9C1423.4,1216.9 1424.4,1216.9 1425.4,1216.9C1426.4,1216.9 1427.4,1216.9 1428.4,1216.9C1429.4,1216.9 1430.4,1216.9 1431.4,1216.9C1432.4,1216.9 1433.4,1216.9 1434.4,1216.9C1435.4,1216.9 1436.4,1216.9 1437.4,1216.9C1438.4,1216.9 1439.4,1216.9 1440.4,1216.9C1441.4,1216.9 1442.5,1216.9 1443.5,1216.9C1444.5,1216.9 1445.5,1216.9 1446.5,1216.9C1447.5,1216.9 1448.5,1216.9 1449.5,1216.9C1450.5,1216.9 1451.5,1217.0 1452.5,1217.0C1453.5,1217.0 1454.5,1217.0 1455.5,1217.0C1456.5,1217.0 1457.5,1217.0 1458.5,1217.0C1459.5,1217.0 1460.5,1217.0 1461.5,1217.0C1462.5,1217.0 1463.5,1217.0 1464.5,1217.0C1465.5,1217.0 1466.5,1217.0 1467.5,1217.0C1468.5,1217.0 1469.5,1217.0 1470.5,1217.0C1471.5,1217.0 1472.5,1217.0 1473.5,1217.0C1474.5,1217.0 1475.5,1217.0 1476.5,1217.0C1477.6,1217.0 1478.6,1217.0 1479.6,1217.0C1480.6,1217.0 1481.6,1217.0 1482.6,1217.0C1483.6,1217.0 1484.6,1217.0 1485.6,1217.0C1486.6,1217.0 1487.6,1217.0 1488.6,1217.0C1489.6,1217.0 1490.6,1217.0 1491.6,1217.0C1492.6,1217.0 1493.6,1217.0 1494.6,1217.0C1495.6,1217.0 1496.6,1217.0 1497.6,1217.0C1498.6,1217.0 1499.6,1217.0 1500.6,1217.0C1501.6,1217.0 1502.6,1217.0 1503.6,1217.0C1504.6,1217.0 1505.6,1217.0 1506.6,1217.0C1507.6,1217.0 1508.6,1217.0 1509.6,1217.0C1510.6,1217.0 1511.6,1217.0 1512.6,1217.0C1513.7,1217.0 1514.7,1217.0 1515.7,1217.0C1516.7,1217.0 1517.7,1217.0 1518.7,1217.0C1519.7,1217.0 1520.7,1217.0 1521.7,1217.0C1522.7,1217.0 1523.7,1217.0 1524.7,1217.0C1525.7,1217.0 1526.7,1217.0 1527.7,1217.0C1528.7,1217.0 1529.7,1217.0 1530.7,1217.0C1531.7,1217.0 1532.7,1217.0 1533.7,1217.0C1534.7,1217.0 1535.7,1217.0 1536.7,1217.0C1537.7,1217.0 1538.7,1217.0 1539.7,1217.0C1540.7,1217.0 1541.7,1217.0 1542.7,1217.0C1543.7,1217.0 1544.7,1217.0 1545.7,1217.0C1546.7,1217.0 1547.7,1217.0 1548.8,1217.0C1549.8,1217.0 1550.8,1217.0 1551.8,1217.0C1552.8,1217.0 1553.8,1217.0 1554.8,1217.0C1555.8,1217.0 1556.8,1217.0 1557.8,1217.0C1558.8,1217.0 1559.8,1217.0 1560.8,1217.0C1561.8,1217.0 1562.8,1217.0 1563.8,1217.0C1564.8,1217.0 1565.8,1217.0 1566.8,1217.0C1567.8,1217.0 1568.8,1217.0 1569.8,1217.0C1570.8,1217.0 1571.8,1217.0 1572.8,1217.0C1573.8,1217.0 1574.8,1217.0 1575.8,1217.0C1576.8,1217.0 1577.8,1217.0 1578.8,1217.0C1579.8,1217.0 1580.8,1217.0 1581.8,1217.0C1582.8,1217.0 1583.9,1217.0 1584.9,1217.0C1585.9,1217.0 1586.9,1217.0 1587.9,1217.0C1588.9,1217.0 1589.9,1217.0 1590.9,1217.0C1591.9,1217.0 1592.9,1217.0 1593.9,1217.0C1594.9,1217.0 1595.9,1217.0 1596.9,1217.0C1597.9,1217.0 1598.9,1217.0 1599.9,1217.0C1600.9,1217.0 1601.9,1217.0 1602.9,1217.0C1603.9,1217.0 1604.9,1217.0 1605.9,1217.0C1606.9,1217.0 1607.9,1217.0 1608.9,1217.0C1609.9,1217.0 1610.9,1217.0 1611.9,1217.0C1612.9,1217.0 1613.9,1217.0 1614.9,1217.0C1615.9,1217.0 1616.9,1217.0 1617.9,1217.0C1619.0,1217.0 1620.0,1217.0 1621.0,1217.0C1622.0,1217.0 1623.0,1217.0 1624.0,1217.0C1625.0,1217.0 1626.0,1217.0 1627.0,1217.0C1628.0,1217.0 1629.0,1217.0 1630.0,1217.0C1631.0,1217.0 1632.0,1217.0 1633.0,1217.0C1634.0,1217.0 1635.0,1217.0 1636.0,1217.0C1637.0,1217.0 1638.0,1217.0 1639.0,1217.0C1640.0,1217.0 1641.0,1217.0 1642.0,1217.0C1643.0,1217.0 1644.0,1217.0 1645.0,1217.0C1646.0,1217.0 1647.0,1217.0 1648.0,1217.0C1649.0,1217.0 1650.0,1217.0 1651.0,1217.0C1652.0,1217.0 1653.0,1217.0 1654.1,1217.0C1655.1,1217.0 1656.1,1217.0 1657.1,1217.0C1658.1,1217.0 1659.1,1217.0 1660.1,1217.0C1661.1,1217.0 1662.1,1217.0 1663.1,1217.0C1664.1,1217.0 1665.1,1217.0 1666.1,1217.0C1667.1,1217.0 1668.1,1217.0 1669.1,1217.0C1670.1,1217.0 1671.1,1217.0 1672.1,1217.0C1673.1,1217.0 1674.1,1217.0 1675.1,1217.0C1676.1,1217.0 1677.1,1217.0 1678.1,1217.0C1679.1,1217.0 1680.1,1217.0 1681.1,1217.0C1682.1,1217.0 1683.1,1217.0 1684.1,1217.0C1685.1,1217.0 1686.1,1217.0 1687.1,1217.0C1688.1,1217.0 1689.2,1217.0 1690.2,1217.0C1691.2,1217.0 1692.2,1217.0 1693.2,1217.0C1694.2,1217.0 1695.2,1217.0 1696.2,1217.0C1697.2,1217.0 1698.2,1217.0 1699.2,1217.0C1700.2,1217.0 1701.2,1217.0 1702.2,1217.0C1703.2,1217.0 1704.2,1217.0 1705.2,1217.0C1706.2,1217.0 1707.2,1217.0 1708.2,1217.0C1709.2,1217.0 1710.2,1217.0 1711.2,1217.0C1712.2,1217.0 1713.2,1217.0 1714.2,1217.0C1715.2,1217.0 1716.2,1217.0 1717.2,1217.0C1718.2,1217.0 1719.2,1217.0 1720.2,1217.0C1721.2,1217.0 1722.2,1217.0 1723.2,1217.0C1724.3,1217.0 1725.3,1217.0 1726.3,1217.0C1727.3,1217.0 1728.3,1217.0 1729.3,1217.0C1730.3,1217.0 1731.3,1217.0 1732.3,1217.0C1733.3,1217.0 1734.3,1217.0 1735.3,1217.0C1736.3,1217.0 1737.3,1217.0 1738.3,1217.0C1739.3,1217.0 1740.3,1217.0 1741.3,1217.0C1742.3,1217.0 1743.3,1217.0 1744.3,1217.0C1745.3,1217.0 1746.3,1217.0 1747.3,1217.0C1748.3,1217.0 1749.3,1217.0 1750.3,1217.0C1751.3,1217.0 1752.3,1217.0 1753.3,1217.0C1754.3,1217.0 1755.3,1217.0 1756.3,1217.0C1757.3,1217.0 1758.3,1217.0 1759.4,1217.0C1760.4,1217.0 1761.4,1217.0 1762.4,1217.0C1763.4,1217.0 1764.4,1217.0 1765.4,1217.0C1766.4,1217.0 1767.4,1217.0 1768.4,1217.0C1769.4,1217.0 1770.4,1217.0 1771.4,1217.0C1772.4,1217.0 1773.4,1217.0 1774.4,1217.0C1775.4,1217.0 1776.4,1217.0 1777.4,1217.0C1778.4,1217.0 1779.4,1217.0 1780.4,1217.0C1781.4,1217.0 1782.4,1217.0 1783.4,1217.0C1784.4,1217.0 1785.4,1217.0 1786.4,1217.0C1787.4,1217.0 1788.4,1217.0 1789.4,1217.0C1790.4,1217.0 1791.4,1217.0 1792.4,1217.0C1793.4,1217.0 1794.5,1217.0 1795.5,1217.0C1796.5,1217.0 1797.5,1217.0 1798.5,1217.0C1799.5,1217.0 1800.5,1217.0 1801.5,1217.0C1802.5,1217.0 1803.5,1217.0 1804.5,1217.0C1805.5,1217.0 1806.5,1217.0 1807.5,1217.0C1808.5,1217.0 1809.5,1217.0 1810.5,1217.0C1811.5,1217.0 1812.5,1217.0 1813.5,1217.0C1814.5,1217.0 1815.5,1217.0 1816.5,1217.0C1817.5,1217.0 1818.5,1217.0 1819.5,1217.0C1820.5,1217.0 1821.5,1217.0 1822.5,1217.0C1823.5,1217.0 1824.5,1217.0 1825.5,1217.0C1826.5,1217.0 1827.5,1217.0 1828.5,1217.0C1829.6,1217.0 1830.6,1217.0 1831.6,1217.0C1832.6,1217.0 1833.6,1217.0 1834.6,1217.0C1835.6,1217.0 1836.6,1217.0 1837.6,1217.0C1838.6,1217.0 1839.6,1217.0 1840.6,1217.0C1841.6,1217.0 1842.6,1217.0 1843.6,1217.0C1844.6,1217.0 1845.6,1217.0 1846.6,1217.0C1847.6,1217.0 1848.6,1217.0 1849.6,1217.0C1850.6,1217.0 1851.6,1217.0 1852.6,1217.0C1853.6,1217.0 1854.6,1217.0 1855.6,1217.0C1856.6,1217.0 1857.6,1217.0 1858.6,1217.0C1859.6,1217.0 1860.6,1217.0 1861.6,1217.0C1862.6,1217.0 1863.6,1217.0 1864.7,1217.0C1865.7,1217.0 1866.7,1217.0 1867.7,1217.0C1868.7,1217.0 1869.7,1217.0 1870.7,1217.0C1871.7,1217.0 1872.7,1217.0 1873.7,1217.0C1874.7,1217.0 1875.7,1217.0 1876.7,1217.0C1877.7,1217.0 1878.7,1217.0 1879.7,1217.0C1880.7,1217.0 1881.7,1217.0 1882.7,1217.0C1883.7,1217.0 1884.7,1217.0 1885.7,1217.0C1886.7,1217.0 1887.7,1217.0 1888.7,1217.0C1889.7,1217.0 1890.7,1217.0 1891.7,1217.0C1892.7,1217.0 1893.7,1217.0 1894.7,1217.0C1895.7,1217.0 1896.7,1217.0 1897.7,1217.0C1898.8,1217.0 1899.8,1217.0 1900.8,1217.0C1901.8,1217.0 1902.8,1217.0 1903.8,1217.0C1904.8,1217.0 1905.8,1217.0 1906.8,1217.0C1907.8,1217.0 1908.8,1217.0 1909.8,1217.0C1910.8,1217.0 1911.8,1217.0 1912.8,1217.0C1913.8,1217.0 1914.8,1217.0 1915.8,1217.0C1916.8,1217.0 1917.8,1217.0 1918.8,1217.0C1919.8,1217.0 1920.8,1217.0 1921.8,1217.0C1922.8,1217.0 1923.8,1217.0 1924.8,1217.0C1925.8,1217.0 1926.8,1217.0 1927.8,1217.0C1928.8,1217.0 1929.8,1217.0 1930.8,1217.0C1931.8,1217.0 1932.8,1217.0 1933.9,1217.0C1934.9,1217.0 1935.9,1217.0 1936.9,1217.0C1937.9,1217.0 1938.9,1217.0 1939.9,1217.0C1940.9,1217.0 1941.9,1217.0 1942.9,1217.0C1943.9,1217.0 1944.9,1217.0 1945.9,1217.0C1946.9,1217.0 1947.9,1217.0 1948.9,1217.0C1949.9,1217.0 1950.9,1217.0 1951.9,1217.0C1952.9,1217.0 1953.9,1217.0 1954.9,1217.0C1955.9,1217.0 1956.9,1217.0 1957.9,1217.0C1958.9,1217.0 1959.9,1217.0 1960.9,1217.0C1961.9,1217.0 1962.9,1217.0 1963.9,1217.0C1964.9,1217.0 1965.9,1217.0 1966.9,1217.0C1967.9,1217.0 1969.0,1217.0 1970.0,1217.0C1971.0,1217.0 1972.0,1217.0 1973.0,1217.0C1974.0,1217.0 1975.0,1217.0 1976.0,1217.0C1977.0,1217.0 1978.0,1217.0 1979.0,1217.0C1980.0,1217.0 1981.0,1217.0 1982.0,1217.0C1983.0,1217.0 1984.0,1217.0 1985.0,1217.0C1986.0,1217.0 1987.0,1217.0 1988.0,1217.0C1989.0,1217.0 1990.0,1217.0 1991.0,1217.0C1992.0,1217.0 1993.0,1217.0 1994.0,1217.0C1995.0,1217.0 1996.0,1217.0 1997.0,1217.0C1998.0,1217.0 1999.0,1217.0 2000.0,1217.0C2001.0,1217.0 2002.0,1217.0 2003.0,1217.0C2004.1,1217.0 2005.1,1217.0 2006.1,1217.0C2007.1,1217.0 2008.1,1217.0 2009.1,1217.0C2010.1,1217.0 2011.1,1217.0 2012.1,1217.0C2013.1,1217.0 2014.1,1217.0 2015.1,1217.0C2016.1,1217.0 2017.1,1217.0 2018.1,1217.0C2019.1,1217.0 2020.1,1217.0 2021.1,1217.0C2022.1,1217.0 2023.1,1217.0 2024.1,1217.0C2025.1,1217.0 2026.1,1217.0 2027.1,1217.0C2028.1,1217.0 2029.1,1217.0 2030.1,1217.0C2031.1,1217.0 2032.1,1217.0 2033.1,1217.0C2034.1,1217.0 2035.1,1217.0 2036.1,1217.0C2037.1,1217.0 2038.1,1217.0 2039.2,1217.0C2040.2,1217.0 2041.2,1217.0 2042.2,1217.0C2043.2,1217.0 2044.2,1217.0 2045.2,1217.0C2046.2,1217.0 2047.2,1217.0 2048.2,1217.0C2049.2,1217.0 2050.2,1217.0 2051.2,1217.0C2052.2,1217.0 2053.2,1217.0 2054.2,1217.0C2055.2,1217.0 2056.2,1217.0 2057.2,1217.0C2058.2,1217.0 2059.2,1217.0 2060.2,1217.0C2061.2,1217.0 2062.2,1217.0 2063.2,1217.0C2064.2,1217.0 2065.2,1217.0 2066.2,1217.0C2067.2,1217.0 2068.2,1217.0 2069.2,1217.0C2070.2,1217.0 2071.2,1217.0 2072.2,1217.0C2073.2,1217.0 2074.3,1217.0 2075.3,1217.0C2076.3,1217.0 2077.3,1217.0 2078.3,1217.0C2079.3,1217.0 2080.3,1217.0 2081.3,1217.0C2082.3,1217.0 2083.3,1217.0 2084.3,1217.0C2085.3,1217.0 2086.3,1217.0 2087.3,1217.0C2088.3,1217.0 2089.3,1217.0 2090.3,1217.0C2091.3,1217.0 2092.3,1217.0 2093.3,1217.0C2094.3,1217.0 2095.3,1217.0 2096.3,1217.0C2097.3,1217.0 2098.3,1217.0 2099.3,1217.0C2100.3,1217.0 2101.3,1217.0 2102.3,1217.0C2103.3,1217.0 2104.3,1217.0 2105.3,1217.0C2106.3,1217.0 2107.3,1217.0 2108.4,1217.0C2109.4,1217.0 2110.4,1217.0 2111.4,1217.0C2112.4,1217.0 2113.4,1217.0 2114.4,1217.0C2115.4,1217.0 2116.4,1217.0 2117.4,1217.0C2118.4,1217.0 2119.4,1217.0 2120.4,1217.0C2121.4,1217.0 2122.4,1217.0 2123.4,1217.0C2124.4,1217.0 2125.4,1217.0 2126.4,1217.0C2127.4,1217.0 2128.4,1217.0 2129.4,1217.0C2130.4,1217.0 2131.4,1217.0 2132.4,1217.0C2133.4,1217.0 2134.4,1217.0 2135.4,1217.0C2136.4,1217.0 2137.4,1217.0 2138.4,1217.0C2139.4,1217.0 2140.4,1217.0 2141.4,1217.0C2142.4,1217.0 2143.4,1217.0 2144.5,1217.0C2145.5,1217.0 2146.5,1217.0 2147.5,1217.0C2148.5,1217.0 2149.5,1217.0 2150.5,1217.0C2151.5,1217.0 2152.5,1217.0 2153.5,1217.0C2154.5,1217.0 2155.5,1217.0 2156.5,1217.0C2157.5,1217.0 2158.5,1217.0 2159.5,1217.0C2160.5,1217.0 2161.5,1217.0 2162.5,1217.0C2163.5,1217.0 2164.5,1217.0 2165.5,1217.0C2166.5,1217.0 2167.5,1217.0 2168.5,1217.0C2169.5,1217.0 2170.5,1217.0 2171.5,1217.0C2172.5,1217.0 2173.5,1217.0 2174.5,1217.0C2175.5,1217.0 2176.5,1217.0 2177.5,1217.0C2178.5,1217.0 2179.6,1217.0 2180.6,1217.0C2181.6,1217.0 2182.6,1217.0 2183.6,1217.0C2184.6,1217.0 2185.6,1217.0 2186.6,1217.0C2187.6,1217.0 2188.6,1217.0 2189.6,1217.0C2190.6,1217.0 2191.6,1217.0 2192.6,1217.0C2193.6,1217.0 2194.6,1217.0 2195.6,1217.0C2196.6,1217.0 2197.6,1217.0 2198.6,1217.0C2199.6,1217.0 2200.6,1217.0 2201.6,1217.0C2202.6,1217.0 2203.6,1217.0 2204.6,1217.0C2205.6,1217.0 2206.6,1217.0 2207.6,1217.0C2208.6,1217.0 2209.6,1217.0 2210.6,1217.0C2211.6,1217.0 2212.6,1217.0 2213.6,1217.0C2214.7,1217.0 2215.7,1217.0 2216.7,1217.0C2217.7,1217.0 2218.7,1217.0 2219.7,1217.0C2220.7,1217.0 2221.7,1217.0 2222.7,1217.0C2223.7,1217.0 2224.7,1217.0 2225.7,1217.0C2226.7,1217.0 2227.7,1217.0 2228.7,1217.0C2229.7,1217.0 2231.2,1217.0 2231.7,1217.0" stroke="#000000" stroke-width="9.5"/>
<path class="c" d="M681.5,1212.5C682.0,1212.5 683.5,1212.5 684.5,1212.5C685.5,1212.5 686.5,1212.5 687.5,1212.6C688.5,1212.6 689.5,1212.6 690.5,1212.6C691.5,1212.6 692.5,1212.6 693.5,1212.6C694.5,1212.6 695.5,1212.7 696.5,1212.7C697.5,1212.7 698.5,1212.7 699.5,1212.7C700.5,1212.7 701.5,1212.7 702.5,1212.8C703.5,1212.8 704.5,1212.8 705.5,1212.8C706.5,1212.8 707.5,1212.9 708.6,1212.9C709.6,1212.9 710.6,1212.9 711.6,1212.9C712.6,1213.0 713.6,1213.0 714.6,1213.0C715.6,1213.0 716.6,1213.1 717.6,1213.1C718.6,1213.1 719.6,1213.1 720.6,1213.2C721.6,1213.2 722.6,1213.2 723.6,1213.2C724.6,1213.3 725.6,1213.3 726.6,1213.3C727.6,1213.3 728.6,1213.4 729.6,1213.4C730.6,1213.4 731.6,1213.5 732.6,1213.5C733.6,1213.5 734.6,1213.5 735.6,1213.6C736.6,1213.6 737.6,1213.6 738.6,1213.7C739.6,1213.7 740.6,1213.7 741.6,1213.7C742.6,1213.8 743.6,1213.8 744.6,1213.8C745.6,1213.9 746.6,1213.9 747.6,1213.9C748.6,1214.0 749.6,1214.0 750.6,1214.0C751.6,1214.0 752.6,1214.1 753.6,1214.1C754.6,1214.1 755.6,1214.2 756.6,1214.2C757.7,1214.2 758.7,1214.3 759.7,1214.3C760.7,1214.3 761.7,1214.3 762.7,1214.4C763.7,1214.4 764.7,1214.4 765.7,1214.5C766.7,1214.5 767.7,1214.5 768.7,1214.5C769.7,1214.6 770.7,1214.6 771.7,1214.6C772.7,1214.7 773.7,1214.7 774.7,1214.7C775.7,1214.7 776.7,1214.8 777.7,1214.8C778.7,1214.8 779.7,1214.8 780.7,1214.9C781.7,1214.9 782.7,1214.9 783.7,1215.0C784.7,1215.0 785.7,1215.0 786.7,1215.0C787.7,1215.1 788.7,1215.1 789.7,1215.1C790.7,1215.1 791.7,1215.1 792.7,1215.2C793.7,1215.2 794.7,1215.2 795.7,1215.2C796.7,1215.2 797.7,1215.3 798.7,1215.3C799.7,1215.3 800.7,1215.3 801.7,1215.3C802.7,1215.4 803.7,1215.4 804.7,1215.4C805.7,1215.4 806.7,1215.4 807.7,1215.4C808.7,1215.4 809.7,1215.4 810.7,1215.5C811.7,1215.5 812.7,1215.5 813.7,1215.5C814.7,1215.5 815.7,1215.5 816.7,1215.5C817.7,1215.5 818.7,1215.5 819.7,1215.5C820.7,1215.5 821.8,1215.5 822.8,1215.5C823.8,1215.5 824.8,1215.5 825.8,1215.5C826.8,1215.5 827.8,1215.5 828.8,1215.5C829.8,1215.5 830.8,1215.5 831.8,1215.5C832.8,1215.5 833.8,1215.5 834.8,1215.4C835.8,1215.4 836.8,1215.4 837.8,1215.4C838.8,1215.4 839.8,1215.4 840.8,1215.3C841.8,1215.3 842.8,1215.3 843.8,1215.3C844.8,1215.2 845.8,1215.2 846.8,1215.2C847.8,1215.2 848.8,1215.1 849.8,1215.1C850.8,1215.1 851.8,1215.0 852.8,1215.0C853.8,1215.0 854.8,1214.9 855.8,1214.9C856.8,1214.9 857.8,1214.8 858.8,1214.8C859.8,1214.8 860.8,1214.7 861.8,1214.7C862.8,1214.6 863.9,1214.6 864.9,1214.5C865.9,1214.5 866.9,1214.4 867.9,1214.4C868.9,1214.4 869.9,1214.3 870.9,1214.3C871.9,1214.2 872.9,1214.2 873.9,1214.1C874.9,1214.1 875.9,1214.0 876.9,1214.0C877.9,1213.9 878.9,1213.8 879.9,1213.8C880.9,1213.7 881.9,1213.7 882.9,1213.6C883.9,1213.6 884.9,1213.5 885.9,1213.5C886.9,1213.4 887.9,1213.3 888.9,1213.3C889.9,1213.2 890.9,1213.2 891.9,1213.1C892.9,1213.0 893.9,1213.0 894.9,1212.9C895.9,1212.9 896.9,1212.8 897.9,1212.7C898.9,1212.7 899.9,1212.6 900.9,1212.5C901.9,1212.5 902.9,1212.4 903.9,1212.3C904.9,1212.3 905.9,1212.2 906.9,1212.1C907.9,1212.1 908.9,1212.0 909.9,1212.0C910.9,1211.9 911.9,1211.8 912.9,1211.8C913.9,1211.7 914.9,1211.6 915.8,1211.6C916.8,1211.5 917.8,1211.4 918.8,1211.3C919.8,1211.3 920.8,1211.2 921.8,1211.1C922.8,1211.1 923.8,1211.0 924.8,1210.9C925.8,1210.8 926.8,1210.8 927.8,1210.7C928.8,1210.6 929.8,1210.5 930.8,1210.4C931.8,1210.3 932.8,1210.2 933.8,1210.1C934.8,1210.0 935.8,1209.9 936.8,1209.8C937.8,1209.7 938.8,1209.6 939.7,1209.5C940.7,1209.4 941.7,1209.3 942.7,1209.2C943.7,1209.0 944.7,1208.9 945.7,1208.8C946.7,1208.7 947.7,1208.5 948.7,1208.4C949.7,1208.2 950.7,1208.1 951.7,1207.9C952.7,1207.7 953.7,1207.6 954.7,1207.4C955.7,1207.2 956.7,1207.0 957.7,1206.9C958.7,1206.7 959.7,1206.5 960.7,1206.3C961.7,1206.0 962.7,1205.8 963.7,1205.6C964.7,1205.4 965.6,1205.1 966.6,1204.9C967.6,1204.6 968.6,1204.4 969.5,1204.1C970.5,1203.8 971.5,1203.5 972.4,1203.2C973.4,1203.0 974.3,1202.6 975.3,1202.3C976.2,1202.0 977.2,1201.7 978.1,1201.3C979.0,1201.0 979.9,1200.6 980.9,1200.2C981.8,1199.9 982.7,1199.5 983.6,1199.1C984.5,1198.7 985.4,1198.2 986.3,1197.8C987.1,1197.4 988.0,1196.9 988.9,1196.5C989.8,1196.0 990.6,1195.5 991.5,1195.0C992.3,1194.5 993.2,1194.0 994.0,1193.5C994.9,1192.9 995.7,1192.4 996.5,1191.8C997.4,1191.3 998.2,1190.7 999.0,1190.1C999.8,1189.5 1000.7,1188.9 1001.5,1188.3C1002.3,1187.6 1003.1,1187.0 1003.9,1186.4C1004.7,1185.7 1005.5,1185.1 1006.3,1184.5C1007.1,1183.8 1008.0,1183.2 1008.8,1182.6C1009.6,1182.0 1010.5,1181.5 1011.3,1180.9C1012.2,1180.4 1013.0,1179.9 1013.9,1179.4C1014.8,1178.9 1015.7,1178.5 1016.6,1178.1C1017.5,1177.8 1018.4,1177.5 1019.4,1177.2C1020.3,1176.9 1021.3,1176.7 1022.3,1176.6C1023.3,1176.5 1024.3,1176.4 1025.2,1176.4C1026.2,1176.4 1027.2,1176.5 1028.2,1176.6C1029.2,1176.7 1030.2,1176.9 1031.1,1177.2C1032.1,1177.5 1033.0,1177.8 1034.0,1178.1C1034.9,1178.5 1035.8,1178.9 1036.7,1179.4C1037.6,1179.9 1038.4,1180.4 1039.3,1180.9C1040.2,1181.4 1041.0,1182.0 1041.8,1182.6C1042.6,1183.2 1043.4,1183.8 1044.3,1184.4C1045.1,1185.1 1045.9,1185.7 1046.7,1186.4C1047.4,1187.0 1048.2,1187.7 1049.0,1188.3C1049.8,1188.9 1050.6,1189.6 1051.4,1190.2C1052.2,1190.8 1053.0,1191.4 1053.8,1192.0C1054.6,1192.6 1055.4,1193.2 1056.3,1193.7C1057.1,1194.3 1057.9,1194.8 1058.8,1195.3C1059.6,1195.8 1060.5,1196.3 1061.4,1196.7C1062.2,1197.1 1063.1,1197.6 1064.0,1198.0C1065.0,1198.4 1065.9,1198.7 1066.8,1199.1C1067.7,1199.5 1068.7,1199.8 1069.6,1200.1C1070.6,1200.5 1071.5,1200.8 1072.5,1201.1C1073.4,1201.4 1074.4,1201.7 1075.4,1202.0C1076.3,1202.3 1077.3,1202.6 1078.3,1202.9C1079.2,1203.2 1080.2,1203.5 1081.2,1203.7C1082.2,1204.0 1083.1,1204.3 1084.1,1204.6C1085.1,1204.9 1086.0,1205.1 1087.0,1205.4C1088.0,1205.7 1088.9,1205.9 1089.9,1206.2C1090.9,1206.4 1091.9,1206.7 1092.8,1206.9C1093.8,1207.1 1094.8,1207.4 1095.8,1207.6C1096.8,1207.8 1097.7,1208.0 1098.7,1208.3C1099.7,1208.5 1100.7,1208.7 1101.7,1208.9C1102.6,1209.1 1103.6,1209.3 1104.6,1209.5C1105.6,1209.6 1106.6,1209.8 1107.5,1210.0C1108.5,1210.2 1109.5,1210.4 1110.5,1210.5C1111.5,1210.7 1112.5,1210.8 1113.5,1211.0C1114.4,1211.2 1115.4,1211.3 1116.4,1211.4C1117.4,1211.6 1118.4,1211.7 1119.4,1211.9C1120.4,1212.0 1121.4,1212.1 1122.4,1212.2C1123.3,1212.4 1124.3,1212.5 1125.3,1212.6C1126.3,1212.7 1127.3,1212.8 1128.3,1212.9C1129.3,1213.0 1130.3,1213.1 1131.3,1213.2C1132.3,1213.3 1133.3,1213.4 1134.3,1213.5C1135.3,1213.6 1136.3,1213.7 1137.3,1213.7C1138.3,1213.8 1139.3,1213.9 1140.3,1214.0C1141.2,1214.0 1142.2,1214.1 1143.2,1214.2C1144.2,1214.2 1145.2,1214.3 1146.2,1214.4C1147.2,1214.4 1148.2,1214.5 1149.2,1214.5C1150.2,1214.6 1151.2,1214.6 1152.2,1214.7C1153.2,1214.7 1154.2,1214.7 1155.2,1214.8C1156.2,1214.8 1157.2,1214.9 1158.2,1214.9C1159.3,1214.9 1160.3,1215.0 1161.3,1215.0C1162.3,1215.0 1163.3,1215.0 1164.3,1215.1C1165.3,1215.1 1166.3,1215.1 1167.3,1215.1C1168.3,1215.1 1169.3,1215.2 1170.3,1215.2C1171.3,1215.2 1172.3,1215.2 1173.3,1215.2C1174.3,1215.2 1175.3,1215.2 1176.3,1215.2C1177.3,1215.3 1178.3,1215.3 1179.3,1215.3C1180.3,1215.3 1181.3,1215.3 1182.3,1215.3C1183.4,1215.3 1184.4,1215.3 1185.4,1215.3C1186.4,1215.3 1187.4,1215.3 1188.4,1215.3C1189.4,1215.3 1190.4,1215.3 1191.4,1215.3C1192.4,1215.3 1193.4,1215.3 1194.4,1215.3C1195.4,1215.3 1196.4,1215.3 1197.4,1215.3C1198.4,1215.3 1199.4,1215.3 1200.5,1215.3C1201.5,1215.2 1202.5,1215.2 1203.5,1215.2C1204.5,1215.2 1205.5,1215.2 1206.5,1215.2C1207.5,1215.2 1208.5,1215.2 1209.5,1215.2C1210.5,1215.2 1211.5,1215.2 1212.5,1215.2C1213.5,1215.2 1214.5,1215.2 1215.5,1215.2C1216.5,1215.2 1217.5,1215.2 1218.5,1215.2C1219.6,1215.2 1220.6,1215.2 1221.6,1215.2C1222.6,1215.2 1223.6,1215.2 1224.6,1215.2C1225.6,1215.2 1226.6,1215.3 1227.6,1215.3C1228.6,1215.3 1229.6,1215.3 1230.6,1215.3C1231.6,1215.3 1232.6,1215.3 1233.6,1215.3C1234.6,1215.3 1235.6,1215.3 1236.6,1215.3C1237.6,1215.3 1238.6,1215.4 1239.6,1215.4C1240.6,1215.4 1241.6,1215.4 1242.6,1215.4C1243.6,1215.4 1244.6,1215.4 1245.6,1215.4C1246.6,1215.4 1247.6,1215.5 1248.6,1215.5C1249.6,1215.5 1250.6,1215.5 1251.6,1215.5C1252.7,1215.5 1253.7,1215.5 1254.7,1215.6C1255.7,1215.6 1256.7,1215.6 1257.7,1215.6C1258.7,1215.6 1259.7,1215.6 1260.7,1215.7C1261.7,1215.7 1262.7,1215.7 1263.7,1215.7C1264.7,1215.7 1265.7,1215.7 1266.7,1215.7C1267.7,1215.8 1268.7,1215.8 1269.7,1215.8C1270.7,1215.8 1271.7,1215.8 1272.7,1215.8C1273.7,1215.9 1274.7,1215.9 1275.7,1215.9C1276.7,1215.9 1277.7,1215.9 1278.7,1216.0C1279.7,1216.0 1280.7,1216.0 1281.7,1216.0C1282.7,1216.0 1283.7,1216.0 1284.7,1216.1C1285.7,1216.1 1286.7,1216.1 1287.7,1216.1C1288.7,1216.1 1289.7,1216.1 1290.7,1216.2C1291.7,1216.2 1292.7,1216.2 1293.7,1216.2C1294.7,1216.2 1295.7,1216.2 1296.7,1216.3C1297.7,1216.3 1298.7,1216.3 1299.7,1216.3C1300.7,1216.3 1301.7,1216.3 1302.7,1216.3C1303.7,1216.4 1304.7,1216.4 1305.7,1216.4C1306.7,1216.4 1307.7,1216.4 1308.7,1216.4C1309.7,1216.4 1310.7,1216.5 1311.7,1216.5C1312.7,1216.5 1313.7,1216.5 1314.7,1216.5C1315.7,1216.5 1316.7,1216.5 1317.7,1216.5C1318.7,1216.6 1319.7,1216.6 1320.7,1216.6C1321.7,1216.6 1322.7,1216.6 1323.7,1216.6C1324.7,1216.6 1325.7,1216.6 1326.7,1216.6C1327.7,1216.7 1328.7,1216.7 1329.7,1216.7C1330.7,1216.7 1331.7,1216.7 1332.7,1216.7C1333.8,1216.7 1334.8,1216.7 1335.8,1216.7C1336.8,1216.7 1337.8,1216.7 1338.8,1216.8C1339.8,1216.8 1340.8,1216.8 1341.8,1216.8C1342.8,1216.8 1343.8,1216.8 1344.8,1216.8C1345.8,1216.8 1346.8,1216.8 1347.8,1216.8C1348.8,1216.8 1349.8,1216.8 1350.8,1216.8C1351.8,1216.9 1352.8,1216.9 1353.8,1216.9C1354.8,1216.9 1355.8,1216.9 1356.8,1216.9C1357.8,1216.9 1358.8,1216.9 1359.8,1216.9C1360.8,1216.9 1361.8,1216.9 1362.8,1216.9C1363.8,1216.9 1364.8,1216.9 1365.8,1216.9C1366.8,1216.9 1367.8,1216.9 1368.8,1216.9C1369.8,1216.9 1370.8,1217.0 1371.8,1217.0C1372.8,1217.0 1373.8,1217.0 1374.8,1217.0C1375.8,1217.0 1376.8,1217.0 1377.8,1217.0C1378.8,1217.0 1379.8,1217.0 1380.8,1217.0C1381.8,1217.0 1382.8,1217.0 1383.8,1217.0C1384.8,1217.0 1385.8,1217.0 1386.8,1217.0C1387.8,1217.0 1388.9,1217.0 1389.9,1217.0C1390.9,1217.0 1391.9,1217.0 1392.9,1217.0C1393.9,1217.0 1394.9,1217.0 1395.9,1217.0C1396.9,1217.0 1397.9,1217.0 1398.9,1217.0C1399.9,1217.0 1400.9,1217.0 1401.9,1217.0C1402.9,1217.0 1403.9,1217.0 1404.9,1217.0C1405.9,1217.0 1406.9,1217.0 1407.9,1217.0C1408.9,1217.0 1409.9,1217.0 1410.9,1217.0C1411.9,1217.0 1412.9,1217.0 1413.9,1217.0C1414.9,1217.0 1415.9,1217.0 1416.9,1217.0C1417.9,1217.0 1418.9,1217.0 1419.9,1217.0C1420.9,1217.0 1421.9,1217.0 1422.9,1217.0C1423.9,1217.0 1424.9,1217.0 1425.9,1217.0C1426.9,1217.0 1427.9,1217.0 1428.9,1217.0C1429.9,1217.0 1430.9,1217.0 1431.9,1217.0C1432.9,1217.0 1433.9,1217.0 1435.0,1217.0C1436.0,1217.0 1437.0,1217.0 1438.0,1217.0C1439.0,1217.0 1440.0,1217.0 1441.0,1217.0C1442.0,1217.0 1443.0,1217.0 1444.0,1217.0C1445.0,1217.0 1446.0,1217.0 1447.0,1217.0C1448.0,1217.0 1449.0,1217.0 1450.0,1217.0C1451.0,1217.0 1452.0,1217.0 1453.0,1217.0C1454.0,1217.0 1455.0,1217.0 1456.0,1217.0C1457.0,1217.0 1458.0,1217.0 1459.0,1217.0C1460.0,1217.0 1461.0,1217.0 1462.0,1217.0C1463.0,1217.0 1464.0,1217.0 1465.0,1217.0C1466.0,1217.0 1467.0,1217.0 1468.0,1217.0C1469.0,1217.0 1470.0,1217.0 1471.0,1217.0C1472.0,1217.0 1473.0,1217.0 1474.0,1217.0C1475.0,1217.0 1476.0,1217.0 1477.1,1216.9C1478.1,1216.9 1479.1,1216.9 1480.1,1216.9C1481.1,1216.9 1482.1,1216.9 1483.1,1216.9C1484.1,1216.9 1485.1,1216.9 1486.1,1216.9C1487.1,1216.9 1488.1,1216.9 1489.1,1216.9C1490.1,1216.9 1491.1,1216.9 1492.1,1216.9C1493.1,1216.9 1494.1,1216.9 1495.1,1216.9C1496.1,1216.9 1497.1,1216.9 1498.1,1216.9C1499.1,1216.9 1500.1,1216.9 1501.1,1216.9C1502.1,1216.9 1503.1,1216.9 1504.1,1216.9C1505.1,1216.9 1506.1,1216.9 1507.1,1216.9C1508.1,1216.9 1509.1,1216.9 1510.1,1216.9C1511.1,1216.9 1512.1,1216.9 1513.1,1216.9C1514.1,1216.9 1515.1,1216.9 1516.1,1216.9C1517.1,1216.9 1518.1,1216.9 1519.1,1216.9C1520.2,1216.9 1521.2,1216.9 1522.2,1216.9C1523.2,1216.9 1524.2,1216.9 1525.2,1216.9C1526.2,1216.9 1527.2,1216.9 1528.2,1216.9C1529.2,1216.9 1530.2,1216.9 1531.2,1216.9C1532.2,1216.8 1533.2,1216.8 1534.2,1216.8C1535.2,1216.8 1536.2,1216.8 1537.2,1216.8C1538.2,1216.8 1539.2,1216.8 1540.2,1216.8C1541.2,1216.8 1542.2,1216.8 1543.2,1216.8C1544.2,1216.8 1545.2,1216.8 1546.2,1216.8C1547.2,1216.8 1548.2,1216.8 1549.2,1216.8C1550.2,1216.8 1551.2,1216.8 1552.2,1216.8C1553.2,1216.8 1554.2,1216.8 1555.2,1216.8C1556.2,1216.8 1557.2,1216.8 1558.2,1216.8C1559.2,1216.8 1560.2,1216.8 1561.2,1216.8C1562.2,1216.8 1563.3,1216.8 1564.3,1216.8C1565.3,1216.8 1566.3,1216.8 1567.3,1216.8C1568.3,1216.8 1569.3,1216.8 1570.3,1216.8C1571.3,1216.8 1572.3,1216.8 1573.3,1216.8C1574.3,1216.8 1575.3,1216.8 1576.3,1216.8C1577.3,1216.8 1578.3,1216.8 1579.3,1216.8C1580.3,1216.8 1581.3,1216.8 1582.3,1216.8C1583.3,1216.8 1584.3,1216.8 1585.3,1216.8C1586.3,1216.8 1587.3,1216.8 1588.3,1216.8C1589.3,1216.8 1590.3,1216.8 1591.3,1216.8C1592.3,1216.8 1593.3,1216.8 1594.3,1216.8C1595.3,1216.8 1596.3,1216.8 1597.3,1216.8C1598.3,1216.8 1599.3,1216.8 1600.3,1216.8C1601.3,1216.8 1602.3,1216.8 1603.3,1216.8C1604.3,1216.8 1605.3,1216.8 1606.3,1216.8C1607.4,1216.8 1608.4,1216.8 1609.4,1216.8C1610.4,1216.8 1611.4,1216.8 1612.4,1216.8C1613.4,1216.8 1614.4,1216.8 1615.4,1216.8C1616.4,1216.8 1617.4,1216.8 1618.4,1216.8C1619.4,1216.8 1620.4,1216.8 1621.4,1216.8C1622.4,1216.8 1623.4,1216.8 1624.4,1216.8C1625.4,1216.8 1626.4,1216.8 1627.4,1216.8C1628.4,1216.8 1629.4,1216.8 1630.4,1216.8C1631.4,1216.8 1632.4,1216.7 1633.4,1216.7C1634.4,1216.7 1635.4,1216.7 1636.4,1216.7C1637.4,1216.7 1638.4,1216.7 1639.4,1216.7C1640.4,1216.7 1641.4,1216.7 1642.4,1216.7C1643.4,1216.7 1644.4,1216.7 1645.4,1216.7C1646.4,1216.7 1647.4,1216.7 1648.4,1216.7C1649.4,1216.7 1650.4,1216.7 1651.4,1216.7C1652.5,1216.7 1653.5,1216.7 1654.5,1216.7C1655.5,1216.7 1656.5,1216.7 1657.5,1216.7C1658.5,1216.7 1659.5,1216.7 1660.5,1216.7C1661.5,1216.7 1662.5,1216.7 1663.5,1216.7C1664.5,1216.7 1665.5,1216.7 1666.5,1216.7C1667.5,1216.7 1668.5,1216.7 1669.5,1216.7C1670.5,1216.7 1671.5,1216.7 1672.5,1216.7C1673.5,1216.7 1674.5,1216.7 1675.5,1216.7C1676.5,1216.7 1677.5,1216.7 1678.5,1216.7C1679.5,1216.7 1680.5,1216.7 1681.5,1216.7C1682.5,1216.7 1683.5,1216.7 1684.5,1216.7C1685.5,1216.7 1686.5,1216.7 1687.5,1216.7C1688.5,1216.7 1689.5,1216.7 1690.5,1216.7C1691.5,1216.7 1692.5,1216.7 1693.5,1216.7C1694.5,1216.7 1695.5,1216.7 1696.5,1216.7C1697.5,1216.7 1698.6,1216.7 1699.6,1216.7C1700.6,1216.7 1701.6,1216.7 1702.6,1216.7C1703.6,1216.7 1704.6,1216.7 1705.6,1216.7C1706.6,1216.7 1707.6,1216.7 1708.6,1216.7C1709.6,1216.7 1710.6,1216.7 1711.6,1216.7C1712.6,1216.7 1713.6,1216.7 1714.6,1216.7C1715.6,1216.7 1716.6,1216.7 1717.6,1216.7C1718.6,1216.7 1719.6,1216.7 1720.6,1216.7C1721.6,1216.7 1722.6,1216.7 1723.6,1216.7C1724.6,1216.7 1725.6,1216.7 1726.6,1216.7C1727.6,1216.7 1728.6,1216.7 1729.6,1216.7C1730.6,1216.7 1731.6,1216.7 1732.6,1216.7C1733.6,1216.7 1734.6,1216.7 1735.6,1216.7C1736.6,1216.7 1737.6,1216.7 1738.6,1216.7C1739.6,1216.7 1740.6,1216.7 1741.6,1216.7C1742.6,1216.7 1743.6,1216.7 1744.7,1216.7C1745.7,1216.7 1746.7,1216.7 1747.7,1216.7C1748.7,1216.7 1749.7,1216.7 1750.7,1216.7C1751.7,1216.7 1752.7,1216.7 1753.7,1216.7C1754.7,1216.7 1755.7,1216.7 1756.7,1216.7C1757.7,1216.7 1758.7,1216.7 1759.7,1216.7C1760.7,1216.7 1761.7,1216.7 1762.7,1216.7C1763.7,1216.7 1764.7,1216.7 1765.7,1216.7C1766.7,1216.7 1767.7,1216.7 1768.7,1216.7C1769.7,1216.7 1770.7,1216.7 1771.7,1216.7C1772.7,1216.7 1773.7,1216.7 1774.7,1216.7C1775.7,1216.7 1776.7,1216.7 1777.7,1216.7C1778.7,1216.7 1779.7,1216.7 1780.7,1216.7C1781.7,1216.7 1782.7,1216.7 1783.7,1216.7C1784.7,1216.8 1785.7,1216.8 1786.7,1216.8C1787.7,1216.8 1788.7,1216.8 1789.7,1216.8C1790.7,1216.8 1791.8,1216.8 1792.8,1216.8C1793.8,1216.8 1794.8,1216.8 1795.8,1216.8C1796.8,1216.8 1797.8,1216.8 1798.8,1216.8C1799.8,1216.8 1800.8,1216.8 1801.8,1216.8C1802.8,1216.8 1803.8,1216.8 1804.8,1216.8C1805.8,1216.8 1806.8,1216.8 1807.8,1216.8C1808.8,1216.8 1809.8,1216.8 1810.8,1216.8C1811.8,1216.8 1812.8,1216.8 1813.8,1216.8C1814.8,1216.8 1815.8,1216.8 1816.8,1216.8C1817.8,1216.8 1818.8,1216.8 1819.8,1216.8C1820.8,1216.8 1821.8,1216.8 1822.8,1216.8C1823.8,1216.8 1824.8,1216.8 1825.8,1216.8C1826.8,1216.8 1827.8,1216.8 1828.8,1216.8C1829.8,1216.8 1830.8,1216.8 1831.8,1216.8C1832.8,1216.8 1833.8,1216.8 1834.8,1216.8C1835.8,1216.8 1836.8,1216.8 1837.8,1216.8C1838.9,1216.8 1839.9,1216.8 1840.9,1216.8C1841.9,1216.8 1842.9,1216.8 1843.9,1216.8C1844.9,1216.8 1845.9,1216.8 1846.9,1216.8C1847.9,1216.8 1848.9,1216.8 1849.9,1216.8C1850.9,1216.8 1851.9,1216.8 1852.9,1216.8C1853.9,1216.8 1854.9,1216.8 1855.9,1216.8C1856.9,1216.8 1857.9,1216.8 1858.9,1216.8C1859.9,1216.8 1860.9,1216.8 1861.9,1216.8C1862.9,1216.8 1863.9,1216.8 1864.9,1216.8C1865.9,1216.8 1866.9,1216.8 1867.9,1216.8C1868.9,1216.8 1869.9,1216.8 1870.9,1216.8C1871.9,1216.8 1872.9,1216.8 1873.9,1216.8C1874.9,1216.8 1875.9,1216.8 1876.9,1216.8C1877.9,1216.8 1878.9,1216.8 1879.9,1216.8C1880.9,1216.8 1881.9,1216.8 1882.9,1216.8C1883.9,1216.8 1884.9,1216.8 1886.0,1216.8C1887.0,1216.8 1888.0,1216.8 1889.0,1216.8C1890.0,1216.8 1891.0,1216.8 1892.0,1216.8C1893.0,1216.8 1894.0,1216.8 1895.0,1216.8C1896.0,1216.8 1897.0,1216.8 1898.0,1216.8C1899.0,1216.8 1900.0,1216.8 1901.0,1216.8C1902.0,1216.8 1903.0,1216.8 1904.0,1216.8C1905.0,1216.8 1906.0,1216.8 1907.0,1216.8C1908.0,1216.8 1909.0,1216.8 1910.0,1216.8C1911.0,1216.8 1912.0,1216.8 1913.0,1216.8C1914.0,1216.8 1915.0,1216.8 1916.0,1216.8C1917.0,1216.8 1918.0,1216.8 1919.0,1216.8C1920.0,1216.8 1921.0,1216.8 1922.0,1216.8C1923.0,1216.8 1924.0,1216.8 1925.0,1216.8C1926.0,1216.8 1927.0,1216.8 1928.0,1216.8C1929.0,1216.8 1930.0,1216.8 1931.0,1216.8C1932.0,1216.8 1933.1,1216.8 1934.1,1216.9C1935.1,1216.9 1936.1,1216.9 1937.1,1216.9C1938.1,1216.9 1939.1,1216.9 1940.1,1216.9C1941.1,1216.9 1942.1,1216.9 1943.1,1216.9C1944.1,1216.9 1945.1,1216.9 1946.1,1216.9C1947.1,1216.9 1948.1,1216.9 1949.1,1216.9C1950.1,1216.9 1951.1,1216.9 1952.1,1216.9C1953.1,1216.9 1954.1,1216.9 1955.1,1216.9C1956.1,1216.9 1957.1,1216.9 1958.1,1216.9C1959.1,1216.9 1960.1,1216.9 1961.1,1216.9C1962.1,1216.9 1963.1,1216.9 1964.1,1216.9C1965.1,1216.9 1966.1,1216.9 1967.1,1216.9C1968.1,1216.9 1969.1,1216.9 1970.1,1216.9C1971.1,1216.9 1972.1,1216.9 1973.1,1216.9C1974.1,1216.9 1975.1,1216.9 1976.1,1216.9C1977.1,1216.9 1978.1,1216.9 1979.1,1216.9C1980.2,1216.9 1981.2,1216.9 1982.2,1216.9C1983.2,1216.9 1984.2,1216.9 1985.2,1216.9C1986.2,1216.9 1987.2,1216.9 1988.2,1216.9C1989.2,1216.9 1990.2,1216.9 1991.2,1216.9C1992.2,1216.9 1993.2,1216.9 1994.2,1216.9C1995.2,1216.9 1996.2,1216.9 1997.2,1216.9C1998.2,1216.9 1999.2,1216.9 2000.2,1216.9C2001.2,1216.9 2002.2,1216.9 2003.2,1216.9C2004.2,1216.9 2005.2,1216.9 2006.2,1216.9C2007.2,1216.9 2008.2,1216.9 2009.2,1216.9C2010.2,1216.9 2011.2,1216.9 2012.2,1216.9C2013.2,1216.9 2014.2,1216.9 2015.2,1216.9C2016.2,1216.9 2017.2,1216.9 2018.2,1216.9C2019.2,1216.9 2020.2,1216.9 2021.2,1216.9C2022.2,1216.9 2023.2,1216.9 2024.2,1216.9C2025.2,1216.9 2026.2,1216.9 2027.3,1216.9C2028.3,1216.9 2029.3,1216.9 2030.3,1216.9C2031.3,1216.9 2032.3,1216.9 2033.3,1216.9C2034.3,1216.9 2035.3,1216.9 2036.3,1216.9C2037.3,1216.9 2038.3,1216.9 2039.3,1216.9C2040.3,1216.9 2041.3,1216.9 2042.3,1216.9C2043.3,1216.9 2044.3,1216.9 2045.3,1216.9C2046.3,1216.9 2047.3,1216.9 2048.3,1216.9C2049.3,1216.9 2050.3,1216.9 2051.3,1216.9C2052.3,1216.9 2053.3,1216.9 2054.3,1216.9C2055.3,1216.9 2056.3,1216.9 2057.3,1216.9C2058.3,1216.9 2059.3,1216.9 2060.3,1216.9C2061.3,1216.9 2062.3,1216.9 2063.3,1216.9C2064.3,1216.9 2065.3,1217.0 2066.3,1217.0C2067.3,1217.0 2068.3,1217.0 2069.3,1217.0C2070.3,1217.0 2071.3,1217.0 2072.3,1217.0C2073.4,1217.0 2074.4,1217.0 2075.4,1217.0C2076.4,1217.0 2077.4,1217.0 2078.4,1217.0C2079.4,1217.0 2080.4,1217.0 2081.4,1217.0C2082.4,1217.0 2083.4,1217.0 2084.4,1217.0C2085.4,1217.0 2086.4,1217.0 2087.4,1217.0C2088.4,1217.0 2089.4,1217.0 2090.4,1217.0C2091.4,1217.0 2092.4,1217.0 2093.4,1217.0C2094.4,1217.0 2095.4,1217.0 2096.4,1217.0C2097.4,1217.0 2098.4,1217.0 2099.4,1217.0C2100.4,1217.0 2101.4,1217.0 2102.4,1217.0C2103.4,1217.0 2104.4,1217.0 2105.4,1217.0C2106.4,1217.0 2107.4,1217.0 2108.4,1217.0C2109.4,1217.0 2110.4,1217.0 2111.4,1217.0C2112.4,1217.0 2113.4,1217.0 2114.4,1217.0C2115.4,1217.0 2116.4,1217.0 2117.4,1217.0C2118.4,1217.0 2119.5,1217.0 2120.5,1217.0C2121.5,1217.0 2122.5,1217.0 2123.5,1217.0C2124.5,1217.0 2125.5,1217.0 2126.5,1217.0C2127.5,1217.0 2128.5,1217.0 2129.5,1217.0C2130.5,1217.0 2131.5,1217.0 2132.5,1217.0C2133.5,1217.0 2134.5,1217.0 2135.5,1217.0C2136.5,1217.0 2137.5,1217.0 2138.5,1217.0C2139.5,1217.0 2140.5,1217.0 2141.5,1217.0C2142.5,1217.0 2143.5,1217.0 2144.5,1217.0C2145.5,1217.0 2146.5,1217.0 2147.5,1217.0C2148.5,1217.0 2149.5,1217.0 2150.5,1217.0C2151.5,1217.0 2152.5,1217.0 2153.5,1217.0C2154.5,1217.0 2155.5,1217.0 2156.5,1217.0C2157.5,1217.0 2158.5,1217.0 2159.5,1217.0C2160.5,1217.0 2161.5,1217.0 2162.5,1217.0C2163.5,1217.0 2164.5,1217.0 2165.6,1217.0C2166.6,1217.0 2167.6,1217.0 2168.6,1217.0C2169.6,1217.0 2170.6,1217.0 2171.6,1217.0C2172.6,1217.0 2173.6,1217.0 2174.6,1217.0C2175.6,1217.0 2176.6,1217.0 2177.6,1217.0C2178.6,1217.0 2179.6,1217.0 2180.6,1217.0C2181.6,1217.0 2182.6,1217.0 2183.6,1217.0C2184.6,1217.0 2185.6,1217.0 2186.6,1217.0C2187.6,1217.0 2188.6,1217.0 2189.6,1217.0C2190.6,1217.0 2191.6,1217.0 2192.6,1217.0C2193.6,1217.0 2194.6,1217.0 2195.6,1217.0C2196.6,1217.0 2197.6,1217.0 2198.6,1217.0C2199.6,1217.0 2200.6,1217.0 2201.6,1217.0C2202.6,1217.0 2203.6,1217.0 2204.6,1217.0C2205.6,1217.0 2206.6,1217.0 2207.6,1217.0C2208.6,1217.0 2209.7,1217.0 2210.7,1217.0C2211.7,1217.0 2212.7,1217.0 2213.7,1217.0C2214.7,1217.0 2215.7,1217.0 2216.7,1217.0C2217.7,1217.0 2218.7,1217.0 2219.7,1217.0C2220.7,1217.0 2221.7,1217.0 2222.7,1217.0C2223.7,1217.0 2224.7,1217.0 2225.7,1217.0C2226.7,1217.0 2227.7,1217.0 2228.7,1217.0C2229.7,1217.0 2231.2,1217.0 2231.7,1217.0" stroke="#ff0000" stroke-width="9.5"/>
<path class="c" d="M577.5,1191.0C578.0,1191.0 579.5,1191.0 580.5,1191.0C581.5,1191.0 582.5,1191.0 583.5,1191.0C584.5,1191.0 585.5,1191.0 586.5,1191.0C587.5,1191.0 588.5,1191.0 589.5,1191.0C590.5,1191.0 591.5,1191.0 592.5,1191.0C593.5,1191.0 594.5,1191.0 595.5,1191.0C596.5,1191.0 597.5,1191.0 598.5,1191.0C599.6,1191.0 600.6,1190.9 601.6,1190.9C602.6,1190.9 603.6,1190.9 604.6,1190.9C605.6,1190.9 606.6,1190.9 607.6,1190.9C608.6,1190.9 609.6,1190.9 610.6,1190.9C611.6,1190.9 612.6,1190.9 613.6,1190.9C614.6,1190.9 615.6,1190.9 616.6,1190.9C617.6,1190.9 618.6,1190.9 619.6,1190.9C620.6,1190.9 621.6,1190.9 622.6,1190.9C623.6,1190.9 624.6,1190.9 625.6,1190.9C626.6,1190.9 627.6,1190.9 628.6,1190.9C629.6,1190.9 630.6,1190.9 631.6,1190.9C632.6,1190.9 633.6,1190.9 634.6,1190.9C635.6,1190.9 636.6,1190.9 637.6,1190.9C638.7,1190.9 639.7,1190.9 640.7,1190.9C641.7,1190.9 642.7,1190.9 643.7,1190.9C644.7,1190.9 645.7,1190.9 646.7,1190.9C647.7,1190.9 648.7,1190.9 649.7,1190.9C650.7,1190.9 651.7,1190.9 652.7,1190.9C653.7,1190.9 654.7,1190.9 655.7,1190.9C656.7,1190.9 657.7,1190.9 658.7,1190.9C659.7,1190.9 660.7,1190.9 661.7,1190.9C662.7,1190.9 663.7,1190.9 664.7,1190.9C665.7,1190.9 666.7,1190.9 667.7,1190.9C668.7,1191.0 669.7,1191.0 670.7,1191.0C671.7,1191.0 672.7,1191.0 673.7,1191.0C674.7,1191.0 675.7,1191.0 676.7,1191.0C677.7,1191.0 678.7,1191.0 679.7,1191.0C680.7,1191.0 681.8,1191.0 682.8,1190.9C683.8,1190.9 684.8,1190.9 685.8,1190.9C686.8,1190.9 687.8,1190.9 688.8,1190.9C689.8,1190.9 690.8,1190.9 691.8,1190.9C692.8,1190.9 693.8,1190.9 694.8,1190.9C695.8,1190.8 696.8,1190.8 697.8,1190.8C698.8,1190.8 699.8,1190.8 700.8,1190.8C701.8,1190.8 702.8,1190.7 703.8,1190.7C704.8,1190.7 705.8,1190.7 706.8,1190.7C707.8,1190.7 708.8,1190.7 709.8,1190.7C710.8,1190.7 711.8,1190.7 712.8,1190.7C713.8,1190.7 714.8,1190.7 715.8,1190.8C716.8,1190.8 717.8,1190.9 718.8,1191.0C719.8,1191.0 720.8,1191.1 721.8,1191.2C722.8,1191.3 723.8,1191.4 724.8,1191.6C725.8,1191.7 726.8,1191.8 727.8,1192.0C728.8,1192.1 729.8,1192.3 730.8,1192.4C731.8,1192.6 732.8,1192.8 733.8,1192.9C734.7,1193.1 735.7,1193.3 736.7,1193.5C737.7,1193.7 738.7,1193.8 739.7,1194.0C740.7,1194.2 741.6,1194.4 742.6,1194.6C743.6,1194.7 744.6,1194.9 745.6,1195.1C746.6,1195.3 747.6,1195.5 748.5,1195.7C749.5,1195.9 750.5,1196.1 751.5,1196.3C752.5,1196.5 753.4,1196.7 754.4,1196.9C755.4,1197.1 756.4,1197.3 757.4,1197.5C758.3,1197.7 759.3,1197.9 760.3,1198.1C761.3,1198.3 762.3,1198.5 763.2,1198.8C764.2,1199.0 765.2,1199.2 766.2,1199.4C767.1,1199.6 768.1,1199.8 769.1,1200.1C770.1,1200.3 771.1,1200.5 772.0,1200.7C773.0,1200.9 774.0,1201.2 775.0,1201.4C775.9,1201.6 776.9,1201.9 777.9,1202.1C778.9,1202.3 779.8,1202.5 780.8,1202.8C781.8,1203.0 782.8,1203.3 783.7,1203.5C784.7,1203.7 785.7,1204.0 786.7,1204.2C787.7,1204.4 788.6,1204.7 789.6,1204.9C790.6,1205.2 791.6,1205.4 792.5,1205.6C793.5,1205.9 794.5,1206.1 795.5,1206.3C796.5,1206.6 797.4,1206.8 798.4,1207.0C799.4,1207.2 800.4,1207.5 801.4,1207.7C802.3,1207.9 803.3,1208.1 804.3,1208.3C805.3,1208.4 806.3,1208.6 807.3,1208.8C808.2,1209.0 809.2,1209.1 810.2,1209.3C811.2,1209.4 812.2,1209.5 813.2,1209.7C814.2,1209.8 815.2,1209.9 816.2,1210.0C817.2,1210.0 818.2,1210.1 819.2,1210.2C820.2,1210.2 821.2,1210.3 822.2,1210.3C823.2,1210.3 824.2,1210.3 825.2,1210.3C826.2,1210.3 827.2,1210.3 828.2,1210.3C829.2,1210.3 830.2,1210.3 831.2,1210.2C832.2,1210.2 833.2,1210.1 834.2,1210.1C835.2,1210.0 836.2,1209.9 837.2,1209.9C838.2,1209.8 839.2,1209.7 840.2,1209.7C841.2,1209.6 842.2,1209.5 843.2,1209.4C844.2,1209.3 845.2,1209.2 846.2,1209.1C847.2,1209.0 848.2,1208.9 849.2,1208.8C850.2,1208.7 851.2,1208.6 852.2,1208.5C853.2,1208.3 854.2,1208.2 855.2,1208.1C856.2,1207.9 857.2,1207.8 858.2,1207.7C859.2,1207.5 860.2,1207.4 861.1,1207.2C862.1,1207.1 863.1,1206.9 864.1,1206.7C865.1,1206.6 866.1,1206.4 867.1,1206.2C868.0,1206.0 869.0,1205.8 870.0,1205.6C871.0,1205.4 872.0,1205.2 872.9,1205.0C873.9,1204.7 874.9,1204.5 875.9,1204.3C876.8,1204.0 877.8,1203.8 878.8,1203.5C879.7,1203.3 880.7,1203.0 881.7,1202.8C882.6,1202.5 883.6,1202.2 884.5,1201.9C885.5,1201.6 886.5,1201.4 887.4,1201.1C888.4,1200.8 889.3,1200.5 890.3,1200.2C891.2,1199.9 892.2,1199.6 893.2,1199.3C894.1,1199.0 895.1,1198.7 896.0,1198.4C897.0,1198.1 898.0,1197.8 898.9,1197.6C899.9,1197.3 900.8,1197.0 901.8,1196.7C902.8,1196.4 903.7,1196.2 904.7,1195.9C905.7,1195.6 906.7,1195.4 907.6,1195.1C908.6,1194.9 909.6,1194.7 910.6,1194.4C911.5,1194.2 912.5,1194.0 913.5,1193.8C914.5,1193.6 915.5,1193.4 916.5,1193.2C917.5,1193.0 918.5,1192.8 919.5,1192.7C920.5,1192.5 921.5,1192.3 922.5,1192.2C923.4,1192.0 924.4,1191.8 925.4,1191.7C926.4,1191.5 927.4,1191.3 928.4,1191.1C929.4,1190.9 930.4,1190.7 931.4,1190.5C932.3,1190.3 933.3,1190.1 934.3,1189.9C935.3,1189.7 936.2,1189.4 937.2,1189.2C938.1,1188.9 939.1,1188.6 940.0,1188.3C941.0,1188.0 941.9,1187.7 942.8,1187.3C943.8,1187.0 944.7,1186.6 945.6,1186.3C946.5,1185.9 947.4,1185.5 948.4,1185.1C949.3,1184.7 950.2,1184.3 951.1,1183.9C952.0,1183.5 952.9,1183.0 953.8,1182.6C954.7,1182.2 955.6,1181.7 956.5,1181.2C957.4,1180.8 958.3,1180.3 959.2,1179.9C960.0,1179.4 960.9,1178.9 961.8,1178.4C962.7,1178.0 963.6,1177.5 964.5,1177.0C965.4,1176.5 966.3,1176.0 967.1,1175.5C968.0,1175.0 968.9,1174.5 969.7,1173.9C970.6,1173.4 971.5,1172.9 972.3,1172.3C973.2,1171.8 974.0,1171.2 974.9,1170.7C975.7,1170.1 976.5,1169.6 977.4,1169.0C978.2,1168.4 979.0,1167.8 979.8,1167.2C980.6,1166.6 981.4,1166.0 982.2,1165.4C983.0,1164.8 983.8,1164.2 984.6,1163.5C985.3,1162.9 986.1,1162.2 986.8,1161.6C987.6,1160.9 988.3,1160.2 989.1,1159.6C989.8,1158.9 990.5,1158.2 991.2,1157.5C991.9,1156.8 992.6,1156.1 993.3,1155.3C993.9,1154.6 994.6,1153.9 995.3,1153.1C995.9,1152.4 996.5,1151.6 997.2,1150.9C997.8,1150.1 998.4,1149.3 999.0,1148.5C999.6,1147.8 1000.2,1147.0 1000.8,1146.2C1001.4,1145.4 1002.0,1144.5 1002.6,1143.7C1003.2,1142.9 1003.7,1142.1 1004.3,1141.3C1004.8,1140.4 1005.4,1139.6 1005.9,1138.7C1006.5,1137.9 1007.0,1137.1 1007.6,1136.2C1008.1,1135.3 1008.6,1134.5 1009.1,1133.6C1009.7,1132.8 1010.2,1131.9 1010.7,1131.0C1011.2,1130.2 1011.7,1129.3 1012.2,1128.4C1012.7,1127.5 1013.2,1126.7 1013.7,1125.8C1014.2,1124.9 1014.7,1124.0 1015.2,1123.1C1015.7,1122.3 1016.2,1121.4 1016.7,1120.5C1017.2,1119.6 1017.7,1118.7 1018.2,1117.8C1018.7,1116.9 1019.1,1116.1 1019.6,1115.2C1020.1,1114.3 1020.6,1113.4 1021.1,1112.5C1021.6,1111.7 1022.1,1110.8 1022.6,1109.9C1023.1,1109.0 1023.6,1108.2 1024.1,1107.3C1024.6,1106.4 1025.1,1105.6 1025.6,1104.7C1026.1,1103.8 1026.6,1103.0 1027.1,1102.1C1027.6,1101.3 1028.2,1100.4 1028.7,1099.6C1029.2,1098.7 1029.7,1097.9 1030.2,1097.0C1030.7,1096.2 1031.3,1095.3 1031.8,1094.5C1032.3,1093.6 1032.8,1092.8 1033.2,1091.9C1033.7,1091.0 1034.2,1090.1 1034.7,1089.3C1035.1,1088.4 1035.6,1087.5 1036.0,1086.6C1036.4,1085.7 1036.9,1084.8 1037.3,1083.9C1037.7,1083.0 1038.1,1082.0 1038.5,1081.1C1038.9,1080.2 1039.3,1079.3 1039.7,1078.3C1040.1,1077.4 1040.5,1076.5 1040.9,1075.5C1041.2,1074.6 1041.6,1073.7 1042.0,1072.8C1042.4,1071.8 1042.8,1070.9 1043.1,1070.0C1043.5,1069.1 1043.9,1068.2 1044.3,1067.3C1044.7,1066.4 1045.1,1065.5 1045.6,1064.6C1046.0,1063.7 1046.5,1062.8 1046.9,1061.9C1047.4,1061.0 1047.9,1060.1 1048.5,1059.3C1049.0,1058.4 1049.6,1057.5 1050.2,1056.7C1050.8,1055.8 1051.4,1055.0 1052.1,1054.2C1052.8,1053.4 1053.5,1052.6 1054.3,1051.8C1055.0,1051.1 1055.8,1050.4 1056.6,1049.7C1057.4,1049.1 1058.2,1048.5 1059.0,1048.0C1059.9,1047.5 1060.8,1047.1 1061.7,1046.7C1062.5,1046.4 1063.5,1046.1 1064.4,1046.0C1065.3,1045.8 1066.2,1045.8 1067.2,1045.9C1068.1,1045.9 1069.1,1046.1 1070.0,1046.4C1071.0,1046.7 1071.9,1047.1 1072.8,1047.5C1073.7,1048.0 1074.5,1048.5 1075.3,1049.1C1076.2,1049.7 1076.9,1050.4 1077.6,1051.1C1078.4,1051.8 1079.0,1052.6 1079.7,1053.4C1080.4,1054.2 1081.0,1055.1 1081.6,1055.9C1082.2,1056.8 1082.8,1057.6 1083.3,1058.5C1083.9,1059.4 1084.5,1060.2 1085.0,1061.1C1085.5,1062.0 1086.1,1062.8 1086.6,1063.7C1087.1,1064.6 1087.6,1065.5 1088.1,1066.3C1088.6,1067.2 1089.0,1068.1 1089.5,1069.0C1090.0,1069.9 1090.4,1070.8 1090.9,1071.6C1091.3,1072.5 1091.8,1073.4 1092.2,1074.3C1092.7,1075.2 1093.1,1076.1 1093.6,1077.0C1094.0,1077.9 1094.4,1078.8 1094.9,1079.7C1095.3,1080.6 1095.7,1081.4 1096.2,1082.3C1096.6,1083.2 1097.0,1084.1 1097.5,1085.0C1097.9,1085.9 1098.3,1086.8 1098.8,1087.7C1099.2,1088.6 1099.7,1089.5 1100.1,1090.4C1100.6,1091.3 1101.0,1092.2 1101.5,1093.1C1101.9,1093.9 1102.4,1094.8 1102.8,1095.7C1103.3,1096.6 1103.7,1097.5 1104.2,1098.4C1104.6,1099.3 1105.1,1100.2 1105.5,1101.1C1106.0,1102.0 1106.5,1102.9 1106.9,1103.8C1107.4,1104.7 1107.8,1105.6 1108.3,1106.5C1108.7,1107.4 1109.2,1108.3 1109.6,1109.2C1110.1,1110.1 1110.5,1111.0 1111.0,1111.9C1111.4,1112.8 1111.9,1113.7 1112.3,1114.6C1112.8,1115.5 1113.2,1116.4 1113.6,1117.3C1114.1,1118.3 1114.5,1119.2 1115.0,1120.1C1115.4,1121.0 1115.8,1121.9 1116.3,1122.8C1116.7,1123.7 1117.1,1124.6 1117.6,1125.5C1118.0,1126.5 1118.5,1127.4 1118.9,1128.3C1119.3,1129.2 1119.8,1130.1 1120.2,1131.0C1120.7,1131.9 1121.1,1132.8 1121.6,1133.7C1122.0,1134.6 1122.5,1135.5 1122.9,1136.4C1123.4,1137.3 1123.9,1138.1 1124.3,1139.0C1124.8,1139.9 1125.3,1140.8 1125.8,1141.6C1126.3,1142.5 1126.8,1143.4 1127.3,1144.2C1127.8,1145.1 1128.3,1145.9 1128.8,1146.8C1129.3,1147.6 1129.8,1148.5 1130.4,1149.3C1130.9,1150.1 1131.4,1150.9 1132.0,1151.7C1132.5,1152.6 1133.1,1153.4 1133.7,1154.2C1134.3,1154.9 1134.8,1155.7 1135.4,1156.5C1136.0,1157.3 1136.7,1158.0 1137.3,1158.8C1137.9,1159.5 1138.5,1160.3 1139.2,1161.0C1139.8,1161.7 1140.5,1162.4 1141.2,1163.1C1141.9,1163.8 1142.6,1164.5 1143.3,1165.2C1144.0,1165.9 1144.7,1166.6 1145.4,1167.2C1146.2,1167.9 1146.9,1168.5 1147.7,1169.2C1148.4,1169.8 1149.2,1170.4 1150.0,1171.0C1150.8,1171.6 1151.5,1172.2 1152.3,1172.8C1153.1,1173.4 1154.0,1174.0 1154.8,1174.6C1155.6,1175.2 1156.4,1175.7 1157.3,1176.3C1158.1,1176.8 1159.0,1177.4 1159.8,1177.9C1160.7,1178.4 1161.5,1179.0 1162.4,1179.5C1163.3,1180.0 1164.2,1180.5 1165.0,1181.0C1165.9,1181.5 1166.8,1182.0 1167.7,1182.4C1168.6,1182.9 1169.5,1183.4 1170.5,1183.9C1171.4,1184.3 1172.3,1184.8 1173.2,1185.2C1174.1,1185.7 1175.1,1186.1 1176.0,1186.5C1176.9,1186.9 1177.9,1187.4 1178.8,1187.8C1179.7,1188.2 1180.7,1188.6 1181.6,1189.0C1182.6,1189.4 1183.5,1189.8 1184.5,1190.2C1185.4,1190.5 1186.4,1190.9 1187.3,1191.3C1188.3,1191.7 1189.3,1192.0 1190.2,1192.4C1191.2,1192.7 1192.1,1193.1 1193.1,1193.4C1194.1,1193.8 1195.0,1194.1 1196.0,1194.4C1196.9,1194.8 1197.9,1195.1 1198.9,1195.4C1199.8,1195.7 1200.8,1196.0 1201.8,1196.3C1202.7,1196.6 1203.7,1196.9 1204.7,1197.2C1205.6,1197.5 1206.6,1197.8 1207.6,1198.1C1208.5,1198.4 1209.5,1198.6 1210.5,1198.9C1211.5,1199.2 1212.4,1199.4 1213.4,1199.7C1214.4,1200.0 1215.3,1200.2 1216.3,1200.5C1217.3,1200.7 1218.3,1201.0 1219.2,1201.2C1220.2,1201.4 1221.2,1201.7 1222.2,1201.9C1223.2,1202.1 1224.1,1202.3 1225.1,1202.6C1226.1,1202.8 1227.1,1203.0 1228.0,1203.2C1229.0,1203.4 1230.0,1203.6 1231.0,1203.8C1232.0,1204.0 1233.0,1204.2 1233.9,1204.4C1234.9,1204.6 1235.9,1204.7 1236.9,1204.9C1237.9,1205.1 1238.9,1205.3 1239.8,1205.5C1240.8,1205.6 1241.8,1205.8 1242.8,1206.0C1243.8,1206.1 1244.8,1206.3 1245.8,1206.4C1246.7,1206.6 1247.7,1206.7 1248.7,1206.9C1249.7,1207.0 1250.7,1207.2 1251.7,1207.3C1252.7,1207.4 1253.7,1207.6 1254.7,1207.7C1255.6,1207.8 1256.6,1208.0 1257.6,1208.1C1258.6,1208.2 1259.6,1208.3 1260.6,1208.5C1261.6,1208.6 1262.6,1208.7 1263.6,1208.8C1264.6,1208.9 1265.6,1209.0 1266.6,1209.1C1267.6,1209.2 1268.5,1209.3 1269.5,1209.4C1270.5,1209.5 1271.5,1209.6 1272.5,1209.7C1273.5,1209.8 1274.5,1209.9 1275.5,1210.0C1276.5,1210.1 1277.5,1210.1 1278.5,1210.2C1279.5,1210.3 1280.5,1210.4 1281.5,1210.5C1282.5,1210.5 1283.5,1210.6 1284.5,1210.7C1285.5,1210.8 1286.5,1210.8 1287.5,1210.9C1288.5,1211.0 1289.5,1211.0 1290.5,1211.1C1291.5,1211.1 1292.5,1211.2 1293.5,1211.3C1294.5,1211.3 1295.5,1211.4 1296.5,1211.4C1297.5,1211.5 1298.5,1211.5 1299.5,1211.6C1300.5,1211.7 1301.5,1211.7 1302.5,1211.7C1303.5,1211.8 1304.5,1211.8 1305.5,1211.9C1306.5,1211.9 1307.5,1212.0 1308.5,1212.0C1309.5,1212.1 1310.5,1212.1 1311.5,1212.1C1312.5,1212.2 1313.5,1212.2 1314.5,1212.3C1315.5,1212.3 1316.5,1212.3 1317.5,1212.4C1318.5,1212.4 1319.5,1212.5 1320.5,1212.5C1321.5,1212.5 1322.5,1212.6 1323.5,1212.6C1324.5,1212.6 1325.5,1212.7 1326.5,1212.7C1327.5,1212.7 1328.5,1212.8 1329.5,1212.8C1330.5,1212.8 1331.5,1212.9 1332.5,1212.9C1333.5,1212.9 1334.5,1212.9 1335.5,1213.0C1336.5,1213.0 1337.5,1213.0 1338.5,1213.1C1339.6,1213.1 1340.6,1213.1 1341.6,1213.1C1342.6,1213.2 1343.6,1213.2 1344.6,1213.2C1345.6,1213.3 1346.6,1213.3 1347.6,1213.3C1348.6,1213.3 1349.6,1213.4 1350.6,1213.4C1351.6,1213.4 1352.6,1213.4 1353.6,1213.5C1354.6,1213.5 1355.6,1213.5 1356.6,1213.5C1357.6,1213.6 1358.6,1213.6 1359.6,1213.6C1360.6,1213.6 1361.6,1213.7 1362.6,1213.7C1363.6,1213.7 1364.6,1213.7 1365.6,1213.8C1366.6,1213.8 1367.6,1213.8 1368.6,1213.8C1369.6,1213.8 1370.6,1213.9 1371.6,1213.9C1372.6,1213.9 1373.6,1213.9 1374.6,1213.9C1375.6,1214.0 1376.6,1214.0 1377.6,1214.0C1378.6,1214.0 1379.6,1214.0 1380.6,1214.1C1381.6,1214.1 1382.6,1214.1 1383.7,1214.1C1384.7,1214.1 1385.7,1214.2 1386.7,1214.2C1387.7,1214.2 1388.7,1214.2 1389.7,1214.2C1390.7,1214.2 1391.7,1214.3 1392.7,1214.3C1393.7,1214.3 1394.7,1214.3 1395.7,1214.3C1396.7,1214.3 1397.7,1214.4 1398.7,1214.4C1399.7,1214.4 1400.7,1214.4 1401.7,1214.4C1402.7,1214.4 1403.7,1214.5 1404.7,1214.5C1405.7,1214.5 1406.7,1214.5 1407.7,1214.5C1408.7,1214.5 1409.7,1214.5 1410.7,1214.6C1411.7,1214.6 1412.7,1214.6 1413.7,1214.6C1414.7,1214.6 1415.7,1214.6 1416.7,1214.6C1417.7,1214.7 1418.7,1214.7 1419.7,1214.7C1420.7,1214.7 1421.7,1214.7 1422.7,1214.7C1423.7,1214.7 1424.7,1214.8 1425.7,1214.8C1426.8,1214.8 1427.8,1214.8 1428.8,1214.8C1429.8,1214.8 1430.8,1214.8 1431.8,1214.8C1432.8,1214.9 1433.8,1214.9 1434.8,1214.9C1435.8,1214.9 1436.8,1214.9 1437.8,1214.9C1438.8,1214.9 1439.8,1215.0 1440.8,1215.0C1441.8,1215.0 1442.8,1215.0 1443.8,1215.0C1444.8,1215.0 1445.8,1215.0 1446.8,1215.0C1447.8,1215.0 1448.8,1215.1 1449.8,1215.1C1450.8,1215.1 1451.8,1215.1 1452.8,1215.1C1453.8,1215.1 1454.8,1215.1 1455.8,1215.1C1456.8,1215.2 1457.8,1215.2 1458.8,1215.2C1459.8,1215.2 1460.8,1215.2 1461.8,1215.2C1462.8,1215.2 1463.8,1215.2 1464.8,1215.2C1465.8,1215.3 1466.8,1215.3 1467.8,1215.3C1468.8,1215.3 1469.9,1215.3 1470.9,1215.3C1471.9,1215.3 1472.9,1215.3 1473.9,1215.3C1474.9,1215.4 1475.9,1215.4 1476.9,1215.4C1477.9,1215.4 1478.9,1215.4 1479.9,1215.4C1480.9,1215.4 1481.9,1215.4 1482.9,1215.4C1483.9,1215.4 1484.9,1215.5 1485.9,1215.5C1486.9,1215.5 1487.9,1215.5 1488.9,1215.5C1489.9,1215.5 1490.9,1215.5 1491.9,1215.5C1492.9,1215.5 1493.9,1215.5 1494.9,1215.6C1495.9,1215.6 1496.9,1215.6 1497.9,1215.6C1498.9,1215.6 1499.9,1215.6 1500.9,1215.6C1501.9,1215.6 1502.9,1215.6 1503.9,1215.6C1504.9,1215.6 1505.9,1215.7 1506.9,1215.7C1507.9,1215.7 1508.9,1215.7 1509.9,1215.7C1510.9,1215.7 1512.0,1215.7 1513.0,1215.7C1514.0,1215.7 1515.0,1215.7 1516.0,1215.7C1517.0,1215.8 1518.0,1215.8 1519.0,1215.8C1520.0,1215.8 1521.0,1215.8 1522.0,1215.8C1523.0,1215.8 1524.0,1215.8 1525.0,1215.8C1526.0,1215.8 1527.0,1215.8 1528.0,1215.8C1529.0,1215.9 1530.0,1215.9 1531.0,1215.9C1532.0,1215.9 1533.0,1215.9 1534.0,1215.9C1535.0,1215.9 1536.0,1215.9 1537.0,1215.9C1538.0,1215.9 1539.0,1215.9 1540.0,1215.9C1541.0,1215.9 1542.0,1216.0 1543.0,1216.0C1544.0,1216.0 1545.0,1216.0 1546.0,1216.0C1547.0,1216.0 1548.0,1216.0 1549.0,1216.0C1550.0,1216.0 1551.0,1216.0 1552.0,1216.0C1553.0,1216.0 1554.1,1216.0 1555.1,1216.0C1556.1,1216.1 1557.1,1216.1 1558.1,1216.1C1559.1,1216.1 1560.1,1216.1 1561.1,1216.1C1562.1,1216.1 1563.1,1216.1 1564.1,1216.1C1565.1,1216.1 1566.1,1216.1 1567.1,1216.1C1568.1,1216.1 1569.1,1216.1 1570.1,1216.1C1571.1,1216.1 1572.1,1216.2 1573.1,1216.2C1574.1,1216.2 1575.1,1216.2 1576.1,1216.2C1577.1,1216.2 1578.1,1216.2 1579.1,1216.2C1580.1,1216.2 1581.1,1216.2 1582.1,1216.2C1583.1,1216.2 1584.1,1216.2 1585.1,1216.2C1586.1,1216.2 1587.1,1216.2 1588.1,1216.2C1589.1,1216.3 1590.1,1216.3 1591.1,1216.3C1592.1,1216.3 1593.1,1216.3 1594.1,1216.3C1595.1,1216.3 1596.2,1216.3 1597.2,1216.3C1598.2,1216.3 1599.2,1216.3 1600.2,1216.3C1601.2,1216.3 1602.2,1216.3 1603.2,1216.3C1604.2,1216.3 1605.2,1216.3 1606.2,1216.3C1607.2,1216.3 1608.2,1216.3 1609.2,1216.4C1610.2,1216.4 1611.2,1216.4 1612.2,1216.4C1613.2,1216.4 1614.2,1216.4 1615.2,1216.4C1616.2,1216.4 1617.2,1216.4 1618.2,1216.4C1619.2,1216.4 1620.2,1216.4 1621.2,1216.4C1622.2,1216.4 1623.2,1216.4 1624.2,1216.4C1625.2,1216.4 1626.2,1216.4 1627.2,1216.4C1628.2,1216.4 1629.2,1216.4 1630.2,1216.4C1631.2,1216.4 1632.2,1216.5 1633.2,1216.5C1634.2,1216.5 1635.2,1216.5 1636.2,1216.5C1637.3,1216.5 1638.3,1216.5 1639.3,1216.5C1640.3,1216.5 1641.3,1216.5 1642.3,1216.5C1643.3,1216.5 1644.3,1216.5 1645.3,1216.5C1646.3,1216.5 1647.3,1216.5 1648.3,1216.5C1649.3,1216.5 1650.3,1216.5 1651.3,1216.5C1652.3,1216.5 1653.3,1216.5 1654.3,1216.5C1655.3,1216.5 1656.3,1216.5 1657.3,1216.5C1658.3,1216.5 1659.3,1216.5 1660.3,1216.5C1661.3,1216.5 1662.3,1216.6 1663.3,1216.6C1664.3,1216.6 1665.3,1216.6 1666.3,1216.6C1667.3,1216.6 1668.3,1216.6 1669.3,1216.6C1670.3,1216.6 1671.3,1216.6 1672.3,1216.6C1673.3,1216.6 1674.3,1216.6 1675.3,1216.6C1676.3,1216.6 1677.3,1216.6 1678.4,1216.6C1679.4,1216.6 1680.4,1216.6 1681.4,1216.6C1682.4,1216.6 1683.4,1216.6 1684.4,1216.6C1685.4,1216.6 1686.4,1216.6 1687.4,1216.6C1688.4,1216.6 1689.4,1216.6 1690.4,1216.6C1691.4,1216.6 1692.4,1216.6 1693.4,1216.6C1694.4,1216.6 1695.4,1216.6 1696.4,1216.6C1697.4,1216.6 1698.4,1216.6 1699.4,1216.6C1700.4,1216.6 1701.4,1216.6 1702.4,1216.6C1703.4,1216.6 1704.4,1216.6 1705.4,1216.7C1706.4,1216.7 1707.4,1216.7 1708.4,1216.7C1709.4,1216.7 1710.4,1216.7 1711.4,1216.7C1712.4,1216.7 1713.4,1216.7 1714.4,1216.7C1715.4,1216.7 1716.4,1216.7 1717.4,1216.7C1718.4,1216.7 1719.4,1216.7 1720.5,1216.7C1721.5,1216.7 1722.5,1216.7 1723.5,1216.7C1724.5,1216.7 1725.5,1216.7 1726.5,1216.7C1727.5,1216.7 1728.5,1216.7 1729.5,1216.7C1730.5,1216.7 1731.5,1216.7 1732.5,1216.7C1733.5,1216.7 1734.5,1216.7 1735.5,1216.7C1736.5,1216.7 1737.5,1216.7 1738.5,1216.7C1739.5,1216.7 1740.5,1216.7 1741.5,1216.7C1742.5,1216.7 1743.5,1216.7 1744.5,1216.7C1745.5,1216.7 1746.5,1216.7 1747.5,1216.7C1748.5,1216.7 1749.5,1216.7 1750.5,1216.7C1751.5,1216.7 1752.5,1216.7 1753.5,1216.7C1754.5,1216.7 1755.5,1216.7 1756.5,1216.7C1757.5,1216.7 1758.5,1216.7 1759.5,1216.7C1760.5,1216.7 1761.6,1216.7 1762.6,1216.7C1763.6,1216.7 1764.6,1216.7 1765.6,1216.7C1766.6,1216.7 1767.6,1216.7 1768.6,1216.7C1769.6,1216.7 1770.6,1216.7 1771.6,1216.7C1772.6,1216.7 1773.6,1216.7 1774.6,1216.7C1775.6,1216.7 1776.6,1216.7 1777.6,1216.7C1778.6,1216.7 1779.6,1216.7 1780.6,1216.7C1781.6,1216.7 1782.6,1216.7 1783.6,1216.7C1784.6,1216.7 1785.6,1216.7 1786.6,1216.7C1787.6,1216.7 1788.6,1216.7 1789.6,1216.7C1790.6,1216.7 1791.6,1216.7 1792.6,1216.7C1793.6,1216.7 1794.6,1216.7 1795.6,1216.7C1796.6,1216.7 1797.6,1216.7 1798.6,1216.7C1799.6,1216.7 1800.6,1216.7 1801.7,1216.7C1802.7,1216.7 1803.7,1216.7 1804.7,1216.7C1805.7,1216.7 1806.7,1216.7 1807.7,1216.7C1808.7,1216.7 1809.7,1216.7 1810.7,1216.7C1811.7,1216.7 1812.7,1216.7 1813.7,1216.7C1814.7,1216.7 1815.7,1216.7 1816.7,1216.7C1817.7,1216.7 1818.7,1216.7 1819.7,1216.7C1820.7,1216.7 1821.7,1216.7 1822.7,1216.7C1823.7,1216.7 1824.7,1216.7 1825.7,1216.7C1826.7,1216.7 1827.7,1216.7 1828.7,1216.7C1829.7,1216.7 1830.7,1216.7 1831.7,1216.7C1832.7,1216.7 1833.7,1216.7 1834.7,1216.7C1835.7,1216.7 1836.7,1216.7 1837.7,1216.7C1838.7,1216.7 1839.7,1216.7 1840.7,1216.7C1841.7,1216.7 1842.8,1216.7 1843.8,1216.7C1844.8,1216.7 1845.8,1216.7 1846.8,1216.7C1847.8,1216.7 1848.8,1216.7 1849.8,1216.7C1850.8,1216.7 1851.8,1216.7 1852.8,1216.7C1853.8,1216.7 1854.8,1216.7 1855.8,1216.7C1856.8,1216.7 1857.8,1216.7 1858.8,1216.7C1859.8,1216.7 1860.8,1216.7 1861.8,1216.7C1862.8,1216.7 1863.8,1216.7 1864.8,1216.7C1865.8,1216.7 1866.8,1216.7 1867.8,1216.7C1868.8,1216.7 1869.8,1216.7 1870.8,1216.7C1871.8,1216.7 1872.8,1216.7 1873.8,1216.7C1874.8,1216.7 1875.8,1216.7 1876.8,1216.7C1877.8,1216.7 1878.8,1216.7 1879.8,1216.7C1880.8,1216.7 1881.8,1216.7 1882.8,1216.7C1883.9,1216.7 1884.9,1216.7 1885.9,1216.7C1886.9,1216.7 1887.9,1216.7 1888.9,1216.7C1889.9,1216.6 1890.9,1216.6 1891.9,1216.6C1892.9,1216.6 1893.9,1216.6 1894.9,1216.6C1895.9,1216.6 1896.9,1216.6 1897.9,1216.6C1898.9,1216.6 1899.9,1216.6 1900.9,1216.6C1901.9,1216.6 1902.9,1216.6 1903.9,1216.6C1904.9,1216.6 1905.9,1216.6 1906.9,1216.6C1907.9,1216.6 1908.9,1216.6 1909.9,1216.6C1910.9,1216.6 1911.9,1216.6 1912.9,1216.6C1913.9,1216.6 1914.9,1216.6 1915.9,1216.6C1916.9,1216.6 1917.9,1216.6 1918.9,1216.6C1919.9,1216.6 1920.9,1216.6 1921.9,1216.6C1922.9,1216.6 1923.9,1216.6 1925.0,1216.6C1926.0,1216.6 1927.0,1216.6 1928.0,1216.6C1929.0,1216.6 1930.0,1216.6 1931.0,1216.6C1932.0,1216.6 1933.0,1216.6 1934.0,1216.6C1935.0,1216.6 1936.0,1216.6 1937.0,1216.6C1938.0,1216.6 1939.0,1216.6 1940.0,1216.6C1941.0,1216.6 1942.0,1216.6 1943.0,1216.6C1944.0,1216.6 1945.0,1216.6 1946.0,1216.6C1947.0,1216.6 1948.0,1216.6 1949.0,1216.6C1950.0,1216.6 1951.0,1216.6 1952.0,1216.6C1953.0,1216.6 1954.0,1216.6 1955.0,1216.6C1956.0,1216.6 1957.0,1216.6 1958.0,1216.6C1959.0,1216.6 1960.0,1216.6 1961.0,1216.6C1962.0,1216.6 1963.0,1216.6 1964.0,1216.6C1965.1,1216.6 1966.1,1216.6 1967.1,1216.6C1968.1,1216.6 1969.1,1216.6 1970.1,1216.6C1971.1,1216.6 1972.1,1216.6 1973.1,1216.6C1974.1,1216.6 1975.1,1216.6 1976.1,1216.6C1977.1,1216.6 1978.1,1216.6 1979.1,1216.6C1980.1,1216.6 1981.1,1216.6 1982.1,1216.6C1983.1,1216.5 1984.1,1216.5 1985.1,1216.5C1986.1,1216.5 1987.1,1216.5 1988.1,1216.5C1989.1,1216.5 1990.1,1216.5 1991.1,1216.5C1992.1,1216.5 1993.1,1216.5 1994.1,1216.5C1995.1,1216.5 1996.1,1216.5 1997.1,1216.5C1998.1,1216.5 1999.1,1216.5 2000.1,1216.5C2001.1,1216.5 2002.1,1216.5 2003.1,1216.5C2004.1,1216.5 2005.1,1216.5 2006.2,1216.5C2007.2,1216.5 2008.2,1216.5 2009.2,1216.5C2010.2,1216.5 2011.2,1216.5 2012.2,1216.5C2013.2,1216.5 2014.2,1216.5 2015.2,1216.5C2016.2,1216.5 2017.2,1216.5 2018.2,1216.5C2019.2,1216.5 2020.2,1216.5 2021.2,1216.5C2022.2,1216.5 2023.2,1216.5 2024.2,1216.5C2025.2,1216.5 2026.2,1216.5 2027.2,1216.5C2028.2,1216.5 2029.2,1216.5 2030.2,1216.5C2031.2,1216.5 2032.2,1216.5 2033.2,1216.5C2034.2,1216.5 2035.2,1216.5 2036.2,1216.5C2037.2,1216.5 2038.2,1216.5 2039.2,1216.5C2040.2,1216.5 2041.2,1216.5 2042.2,1216.5C2043.2,1216.5 2044.2,1216.5 2045.2,1216.5C2046.2,1216.5 2047.3,1216.5 2048.3,1216.5C2049.3,1216.5 2050.3,1216.5 2051.3,1216.5C2052.3,1216.5 2053.3,1216.5 2054.3,1216.5C2055.3,1216.5 2056.3,1216.5 2057.3,1216.5C2058.3,1216.5 2059.3,1216.5 2060.3,1216.5C2061.3,1216.5 2062.3,1216.5 2063.3,1216.5C2064.3,1216.5 2065.3,1216.5 2066.3,1216.5C2067.3,1216.5 2068.3,1216.5 2069.3,1216.5C2070.3,1216.5 2071.3,1216.5 2072.3,1216.5C2073.3,1216.5 2074.3,1216.5 2075.3,1216.5C2076.3,1216.5 2077.3,1216.5 2078.3,1216.5C2079.3,1216.5 2080.3,1216.5 2081.3,1216.5C2082.3,1216.5 2083.3,1216.5 2084.3,1216.5C2085.3,1216.5 2086.3,1216.5 2087.3,1216.5C2088.4,1216.5 2089.4,1216.5 2090.4,1216.5C2091.4,1216.5 2092.4,1216.5 2093.4,1216.5C2094.4,1216.5 2095.4,1216.5 2096.4,1216.5C2097.4,1216.5 2098.4,1216.5 2099.4,1216.5C2100.4,1216.5 2101.4,1216.5 2102.4,1216.5C2103.4,1216.5 2104.4,1216.5 2105.4,1216.5C2106.4,1216.5 2107.4,1216.5 2108.4,1216.5C2109.4,1216.5 2110.4,1216.5 2111.4,1216.5C2112.4,1216.5 2113.4,1216.5 2114.4,1216.5C2115.4,1216.5 2116.4,1216.5 2117.4,1216.5C2118.4,1216.5 2119.4,1216.5 2120.4,1216.5C2121.4,1216.5 2122.4,1216.5 2123.4,1216.5C2124.4,1216.5 2125.4,1216.5 2126.4,1216.5C2127.4,1216.5 2128.4,1216.5 2129.5,1216.5C2130.5,1216.5 2131.5,1216.5 2132.5,1216.5C2133.5,1216.5 2134.5,1216.5 2135.5,1216.5C2136.5,1216.5 2137.5,1216.5 2138.5,1216.6C2139.5,1216.6 2140.5,1216.6 2141.5,1216.6C2142.5,1216.6 2143.5,1216.6 2144.5,1216.6C2145.5,1216.6 2146.5,1216.6 2147.5,1216.6C2148.5,1216.6 2149.5,1216.6 2150.5,1216.6C2151.5,1216.6 2152.5,1216.6 2153.5,1216.6C2154.5,1216.6 2155.5,1216.6 2156.5,1216.6C2157.5,1216.6 2158.5,1216.6 2159.5,1216.6C2160.5,1216.6 2161.5,1216.6 2162.5,1216.6C2163.5,1216.6 2164.5,1216.6 2165.5,1216.6C2166.5,1216.6 2167.5,1216.6 2168.5,1216.6C2169.5,1216.6 2170.6,1216.6 2171.6,1216.6C2172.6,1216.6 2173.6,1216.6 2174.6,1216.6C2175.6,1216.6 2176.6,1216.6 2177.6,1216.6C2178.6,1216.6 2179.6,1216.6 2180.6,1216.6C2181.6,1216.6 2182.6,1216.6 2183.6,1216.6C2184.6,1216.6 2185.6,1216.6 2186.6,1216.6C2187.6,1216.7 2188.6,1216.7 2189.6,1216.7C2190.6,1216.7 2191.6,1216.7 2192.6,1216.7C2193.6,1216.7 2194.6,1216.7 2195.6,1216.7C2196.6,1216.7 2197.6,1216.7 2198.6,1216.7C2199.6,1216.7 2200.6,1216.7 2201.6,1216.7C2202.6,1216.7 2203.6,1216.7 2204.6,1216.7C2205.6,1216.7 2206.6,1216.7 2207.6,1216.7C2208.6,1216.7 2209.6,1216.7 2210.6,1216.7C2211.7,1216.7 2212.7,1216.7 2213.7,1216.7C2214.7,1216.7 2215.7,1216.7 2216.7,1216.7C2217.7,1216.7 2218.7,1216.8 2219.7,1216.8C2220.7,1216.8 2221.7,1216.8 2222.7,1216.8C2223.7,1216.8 2224.7,1216.8 2225.7,1216.8C2226.7,1216.8 2227.7,1216.8 2228.7,1216.8C2229.7,1216.8 2231.2,1216.8 2231.7,1216.8" stroke="#0000ff" stroke-width="9.5"/>
<path class="c" d="M578.2,1113.8C578.7,1113.7 580.2,1113.5 581.2,1113.4C582.2,1113.3 583.2,1113.2 584.2,1113.1C585.2,1113.0 586.2,1112.9 587.2,1112.8C588.2,1112.7 589.2,1112.6 590.2,1112.5C591.2,1112.4 592.2,1112.3 593.2,1112.3C594.2,1112.2 595.2,1112.1 596.2,1112.0C597.2,1112.0 598.2,1111.9 599.2,1111.8C600.2,1111.8 601.2,1111.7 602.2,1111.6C603.2,1111.6 604.2,1111.5 605.2,1111.4C606.2,1111.4 607.2,1111.3 608.2,1111.3C609.2,1111.2 610.2,1111.2 611.2,1111.1C612.2,1111.1 613.2,1111.0 614.2,1111.0C615.2,1110.9 616.2,1110.9 617.2,1110.9C618.2,1110.8 619.2,1110.8 620.2,1110.7C621.2,1110.7 622.2,1110.7 623.2,1110.6C624.2,1110.6 625.2,1110.5 626.2,1110.5C627.2,1110.5 628.2,1110.4 629.2,1110.4C630.2,1110.4 631.2,1110.3 632.2,1110.3C633.2,1110.3 634.2,1110.2 635.2,1110.2C636.2,1110.2 637.2,1110.1 638.2,1110.1C639.2,1110.1 640.2,1110.0 641.2,1110.0C642.2,1110.0 643.2,1109.9 644.2,1109.9C645.2,1109.8 646.2,1109.8 647.2,1109.8C648.2,1109.7 649.2,1109.7 650.2,1109.6C651.2,1109.6 652.2,1109.6 653.2,1109.5C654.2,1109.5 655.2,1109.4 656.2,1109.4C657.2,1109.3 658.2,1109.3 659.2,1109.2C660.2,1109.2 661.3,1109.1 662.3,1109.1C663.3,1109.0 664.3,1108.9 665.3,1108.9C666.3,1108.8 667.3,1108.8 668.3,1108.7C669.3,1108.7 670.3,1108.6 671.3,1108.5C672.3,1108.5 673.3,1108.4 674.3,1108.4C675.3,1108.3 676.3,1108.2 677.3,1108.2C678.3,1108.1 679.3,1108.1 680.3,1108.0C681.3,1108.0 682.3,1107.9 683.3,1107.9C684.3,1107.9 685.3,1107.8 686.3,1107.8C687.3,1107.8 688.4,1107.7 689.4,1107.7C690.4,1107.7 691.4,1107.7 692.4,1107.7C693.4,1107.7 694.4,1107.6 695.4,1107.6C696.4,1107.7 697.4,1107.7 698.4,1107.7C699.4,1107.7 700.4,1107.7 701.3,1107.7C702.3,1107.8 703.3,1107.8 704.3,1107.9C705.3,1107.9 706.3,1108.0 707.3,1108.1C708.3,1108.1 709.3,1108.2 710.3,1108.3C711.3,1108.4 712.3,1108.5 713.3,1108.6C714.3,1108.7 715.3,1108.8 716.3,1109.0C717.2,1109.1 718.2,1109.2 719.2,1109.4C720.2,1109.5 721.2,1109.7 722.2,1109.9C723.2,1110.0 724.1,1110.2 725.1,1110.4C726.1,1110.6 727.1,1110.8 728.1,1111.0C729.0,1111.2 730.0,1111.4 731.0,1111.7C732.0,1111.9 733.0,1112.1 733.9,1112.4C734.9,1112.6 735.9,1112.9 736.9,1113.1C737.8,1113.4 738.8,1113.6 739.8,1113.9C740.7,1114.2 741.7,1114.5 742.7,1114.8C743.6,1115.0 744.6,1115.3 745.6,1115.6C746.5,1115.9 747.5,1116.3 748.5,1116.6C749.4,1116.9 750.4,1117.2 751.3,1117.5C752.3,1117.9 753.2,1118.2 754.2,1118.6C755.1,1118.9 756.1,1119.3 757.0,1119.6C758.0,1120.0 758.9,1120.4 759.8,1120.8C760.7,1121.2 761.7,1121.6 762.6,1122.0C763.5,1122.4 764.4,1122.8 765.3,1123.2C766.2,1123.7 767.1,1124.1 768.0,1124.6C768.9,1125.1 769.7,1125.5 770.6,1126.0C771.5,1126.5 772.3,1127.0 773.2,1127.6C774.0,1128.1 774.8,1128.6 775.6,1129.2C776.5,1129.7 777.3,1130.3 778.1,1130.9C778.9,1131.5 779.6,1132.1 780.4,1132.7C781.2,1133.4 781.9,1134.0 782.7,1134.7C783.4,1135.3 784.1,1136.0 784.9,1136.7C785.6,1137.4 786.3,1138.1 787.0,1138.8C787.7,1139.6 788.4,1140.3 789.1,1141.0C789.7,1141.8 790.4,1142.5 791.1,1143.3C791.7,1144.1 792.4,1144.8 793.0,1145.6C793.7,1146.4 794.3,1147.2 794.9,1148.0C795.6,1148.8 796.2,1149.6 796.8,1150.4C797.4,1151.2 798.0,1152.0 798.6,1152.8C799.2,1153.6 799.8,1154.4 800.4,1155.3C801.0,1156.1 801.6,1156.9 802.2,1157.7C802.8,1158.6 803.4,1159.4 804.0,1160.2C804.6,1161.0 805.2,1161.8 805.8,1162.6C806.4,1163.4 807.0,1164.2 807.6,1164.9C808.3,1165.7 808.9,1166.4 809.6,1167.2C810.3,1167.9 811.0,1168.6 811.7,1169.3C812.4,1169.9 813.2,1170.6 813.9,1171.2C814.7,1171.8 815.5,1172.4 816.4,1172.9C817.3,1173.5 818.2,1174.0 819.1,1174.4C820.0,1174.8 821.0,1175.2 821.9,1175.4C822.9,1175.6 823.9,1175.7 824.9,1175.7C825.9,1175.6 826.8,1175.3 827.8,1175.0C828.8,1174.7 829.7,1174.3 830.7,1173.9C831.7,1173.5 832.6,1173.1 833.6,1172.7C834.5,1172.3 835.5,1172.0 836.4,1171.6C837.3,1171.2 838.2,1170.8 839.1,1170.4C840.0,1170.0 840.9,1169.6 841.8,1169.1C842.6,1168.6 843.4,1168.0 844.3,1167.5C845.1,1166.9 845.9,1166.3 846.8,1165.7C847.6,1165.2 848.5,1164.6 849.3,1164.1C850.2,1163.6 851.1,1163.2 852.0,1162.8C852.9,1162.4 853.8,1162.0 854.8,1161.6C855.7,1161.3 856.7,1160.9 857.6,1160.5C858.5,1160.2 859.4,1159.8 860.4,1159.4C861.3,1158.9 862.1,1158.5 863.0,1158.0C863.9,1157.5 864.8,1156.9 865.6,1156.4C866.4,1155.8 867.3,1155.3 868.1,1154.7C868.9,1154.1 869.7,1153.5 870.4,1152.8C871.2,1152.2 872.0,1151.6 872.7,1150.9C873.5,1150.2 874.2,1149.6 875.0,1148.9C875.7,1148.2 876.4,1147.5 877.1,1146.8C877.9,1146.1 878.6,1145.4 879.3,1144.7C880.0,1144.0 880.7,1143.3 881.4,1142.6C882.1,1141.8 882.8,1141.1 883.5,1140.4C884.2,1139.7 884.9,1139.0 885.6,1138.2C886.3,1137.5 887.0,1136.8 887.7,1136.1C888.4,1135.4 889.1,1134.7 889.8,1134.0C890.5,1133.3 891.3,1132.6 892.0,1131.8C892.7,1131.1 893.4,1130.4 894.1,1129.7C894.8,1129.0 895.5,1128.3 896.3,1127.6C897.0,1126.9 897.7,1126.2 898.4,1125.5C899.1,1124.8 899.8,1124.1 900.5,1123.4C901.2,1122.7 901.9,1122.0 902.6,1121.3C903.3,1120.6 904.0,1119.9 904.7,1119.1C905.4,1118.4 906.1,1117.7 906.8,1117.0C907.4,1116.2 908.1,1115.5 908.7,1114.7C909.4,1113.9 910.0,1113.2 910.6,1112.3C911.2,1111.5 911.8,1110.7 912.4,1109.8C912.9,1109.0 913.4,1108.0 914.0,1107.2C914.5,1106.3 915.0,1105.3 915.6,1104.5C916.1,1103.6 916.7,1102.8 917.3,1102.1C918.0,1101.3 918.6,1100.6 919.4,1100.1C920.2,1099.5 921.0,1099.1 921.9,1098.7C922.8,1098.3 923.8,1098.0 924.7,1097.7C925.7,1097.4 926.7,1097.2 927.7,1096.9C928.7,1096.6 929.7,1096.4 930.7,1096.1C931.7,1095.8 932.7,1095.4 933.7,1095.1C934.6,1094.7 935.5,1094.2 936.4,1093.8C937.3,1093.3 938.2,1092.8 939.0,1092.2C939.8,1091.6 940.5,1091.0 941.3,1090.4C942.0,1089.7 942.7,1089.0 943.3,1088.3C944.0,1087.6 944.6,1086.8 945.2,1086.0C945.8,1085.2 946.4,1084.4 947.0,1083.6C947.5,1082.8 948.0,1081.9 948.6,1081.0C949.1,1080.2 949.6,1079.3 950.1,1078.4C950.6,1077.5 951.0,1076.6 951.5,1075.7C952.0,1074.8 952.5,1073.9 953.0,1073.0C953.4,1072.1 953.9,1071.2 954.4,1070.3C954.9,1069.4 955.3,1068.5 955.8,1067.6C956.3,1066.8 956.8,1065.9 957.2,1065.0C957.7,1064.1 958.2,1063.2 958.7,1062.3C959.1,1061.4 959.6,1060.6 960.1,1059.7C960.5,1058.8 961.0,1057.9 961.5,1057.0C961.9,1056.1 962.4,1055.3 962.8,1054.4C963.3,1053.5 963.8,1052.6 964.2,1051.7C964.7,1050.8 965.1,1050.0 965.6,1049.1C966.0,1048.2 966.5,1047.3 966.9,1046.4C967.3,1045.5 967.8,1044.6 968.2,1043.7C968.6,1042.8 969.1,1041.9 969.5,1041.0C969.9,1040.1 970.3,1039.2 970.8,1038.3C971.2,1037.4 971.6,1036.4 972.0,1035.5C972.4,1034.6 972.8,1033.7 973.2,1032.8C973.6,1031.9 974.0,1030.9 974.4,1030.0C974.8,1029.1 975.2,1028.2 975.6,1027.3C976.0,1026.3 976.4,1025.4 976.8,1024.5C977.2,1023.6 977.6,1022.6 978.0,1021.7C978.3,1020.8 978.7,1019.8 979.1,1018.9C979.5,1018.0 979.9,1017.0 980.2,1016.1C980.6,1015.2 981.0,1014.2 981.4,1013.3C981.7,1012.4 982.1,1011.4 982.5,1010.5C982.8,1009.6 983.2,1008.6 983.6,1007.7C983.9,1006.8 984.3,1005.8 984.7,1004.9C985.0,1004.0 985.4,1003.0 985.8,1002.1C986.1,1001.2 986.5,1000.2 986.8,999.3C987.2,998.4 987.6,997.4 987.9,996.5C988.3,995.6 988.6,994.7 989.0,993.7C989.4,992.8 989.7,991.9 990.1,990.9C990.5,990.0 990.8,989.1 991.2,988.2C991.6,987.2 992.0,986.3 992.4,985.4C992.8,984.5 993.2,983.6 993.6,982.7C994.0,981.8 994.4,980.8 994.9,979.9C995.3,979.0 995.7,978.1 996.2,977.2C996.7,976.3 997.1,975.4 997.7,974.5C998.2,973.7 998.7,972.8 999.2,971.9C999.8,971.1 1000.4,970.3 1001.1,969.5C1001.8,968.8 1002.5,968.1 1003.4,967.5C1004.2,966.9 1005.1,966.4 1006.1,966.1C1007.0,965.8 1008.0,965.7 1008.9,965.7C1009.9,965.8 1010.9,966.1 1011.8,966.5C1012.8,966.8 1013.7,967.4 1014.6,967.8C1015.5,968.3 1016.4,968.8 1017.3,969.3C1018.2,969.8 1019.0,970.2 1019.9,970.6C1020.8,971.1 1021.6,971.5 1022.5,971.9C1023.5,972.3 1024.4,972.7 1025.4,973.1C1026.4,973.4 1027.4,973.8 1028.4,974.0C1029.4,974.3 1030.4,974.6 1031.4,974.7C1032.4,974.9 1033.4,975.0 1034.4,975.0C1035.4,975.0 1036.4,975.0 1037.3,974.8C1038.3,974.6 1039.2,974.4 1040.1,974.1C1041.0,973.8 1041.9,973.4 1042.8,972.9C1043.7,972.5 1044.6,972.0 1045.4,971.4C1046.2,970.9 1047.1,970.3 1047.9,969.7C1048.7,969.1 1049.5,968.4 1050.3,967.8C1051.1,967.2 1051.9,966.5 1052.6,965.8C1053.4,965.2 1054.2,964.5 1054.9,963.8C1055.6,963.1 1056.4,962.4 1057.1,961.7C1057.8,961.0 1058.5,960.3 1059.2,959.6C1059.9,958.9 1060.6,958.2 1061.3,957.4C1062.0,956.7 1062.7,956.0 1063.3,955.2C1064.0,954.4 1064.6,953.7 1065.3,952.9C1065.9,952.2 1066.6,951.4 1067.2,950.6C1067.8,949.8 1068.4,949.0 1069.1,948.2C1069.7,947.5 1070.3,946.7 1070.9,945.9C1071.5,945.0 1072.1,944.2 1072.6,943.4C1073.2,942.6 1073.8,941.8 1074.4,941.0C1074.9,940.1 1075.5,939.3 1076.1,938.5C1076.6,937.7 1077.2,936.8 1077.7,936.0C1078.3,935.1 1078.8,934.3 1079.3,933.5C1079.9,932.6 1080.4,931.8 1080.9,930.9C1081.5,930.1 1082.0,929.2 1082.5,928.3C1083.0,927.5 1083.5,926.6 1084.1,925.8C1084.6,924.9 1085.1,924.0 1085.6,923.2C1086.1,922.3 1086.6,921.4 1087.1,920.6C1087.6,919.7 1088.0,918.8 1088.5,918.0C1089.0,917.1 1089.5,916.2 1090.0,915.3C1090.5,914.4 1090.9,913.6 1091.4,912.7C1091.9,911.8 1092.3,910.9 1092.8,910.0C1093.3,909.1 1093.7,908.3 1094.2,907.4C1094.7,906.5 1095.1,905.6 1095.6,904.7C1096.0,903.8 1096.5,902.9 1096.9,902.0C1097.4,901.1 1097.8,900.2 1098.3,899.3C1098.7,898.4 1099.1,897.5 1099.6,896.6C1100.0,895.7 1100.5,894.8 1100.9,893.9C1101.3,893.0 1101.8,892.1 1102.2,891.2C1102.6,890.3 1103.1,889.4 1103.5,888.5C1103.9,887.6 1104.3,886.7 1104.8,885.8C1105.2,884.8 1105.6,883.9 1106.0,883.0C1106.4,882.1 1106.9,881.2 1107.3,880.3C1107.7,879.4 1108.1,878.5 1108.5,877.6C1109.0,876.6 1109.4,875.7 1109.8,874.8C1110.2,873.9 1110.6,873.0 1111.0,872.1C1111.4,871.2 1111.9,870.2 1112.3,869.3C1112.7,868.4 1113.1,867.5 1113.5,866.6C1113.9,865.7 1114.3,864.8 1114.7,863.8C1115.2,862.9 1115.6,862.0 1116.0,861.1C1116.4,860.2 1116.8,859.3 1117.2,858.4C1117.6,857.4 1118.1,856.5 1118.5,855.6C1118.9,854.7 1119.3,853.8 1119.8,852.9C1120.2,852.0 1120.6,851.1 1121.1,850.2C1121.5,849.3 1121.9,848.4 1122.4,847.5C1122.8,846.6 1123.2,845.7 1123.7,844.8C1124.1,843.9 1124.6,843.0 1125.1,842.1C1125.5,841.2 1126.0,840.4 1126.5,839.5C1126.9,838.6 1127.4,837.7 1127.9,836.8C1128.4,836.0 1128.8,835.1 1129.3,834.2C1129.8,833.4 1130.3,832.5 1130.9,831.6C1131.4,830.8 1131.9,829.9 1132.4,829.1C1132.9,828.2 1133.5,827.4 1134.0,826.5C1134.5,825.7 1135.1,824.9 1135.6,824.0C1136.2,823.2 1136.8,822.4 1137.3,821.5C1137.9,820.7 1138.5,819.9 1139.1,819.1C1139.7,818.3 1140.3,817.5 1140.9,816.7C1141.5,815.9 1142.2,815.1 1142.8,814.3C1143.5,813.5 1144.1,812.8 1144.8,812.0C1145.4,811.2 1146.1,810.5 1146.8,809.7C1147.5,809.0 1148.2,808.2 1148.9,807.5C1149.6,806.8 1150.3,806.1 1151.1,805.4C1151.8,804.7 1152.6,804.1 1153.3,803.4C1154.1,802.8 1154.9,802.2 1155.7,801.6C1156.5,801.0 1157.3,800.4 1158.1,799.9C1158.9,799.3 1159.8,798.8 1160.6,798.4C1161.5,797.9 1162.4,797.4 1163.2,797.0C1164.1,796.6 1165.0,796.2 1166.0,795.9C1166.9,795.5 1167.8,795.2 1168.8,795.0C1169.7,794.7 1170.7,794.5 1171.7,794.3C1172.7,794.1 1173.7,794.0 1174.7,793.9C1175.7,793.8 1176.8,793.7 1177.8,793.7C1178.8,793.7 1179.9,793.7 1180.9,793.7C1182.0,793.8 1183.0,793.9 1184.0,794.0C1185.1,794.1 1186.1,794.3 1187.1,794.4C1188.0,794.6 1189.0,794.8 1190.0,795.0C1190.9,795.3 1191.8,795.5 1192.7,795.9C1193.6,796.2 1194.5,796.6 1195.4,797.0C1196.2,797.5 1197.0,798.0 1197.8,798.6C1198.6,799.2 1199.3,799.9 1200.1,800.6C1200.8,801.2 1201.5,802.0 1202.2,802.7C1203.0,803.5 1203.6,804.3 1204.3,805.0C1205.0,805.8 1205.7,806.6 1206.4,807.4C1207.0,808.2 1207.7,809.0 1208.4,809.7C1209.1,810.5 1209.7,811.3 1210.4,812.0C1211.1,812.8 1211.7,813.5 1212.3,814.3C1213.0,815.0 1213.6,815.8 1214.2,816.6C1214.8,817.3 1215.4,818.1 1216.0,818.9C1216.6,819.7 1217.1,820.6 1217.7,821.4C1218.2,822.2 1218.8,823.1 1219.3,823.9C1219.8,824.8 1220.3,825.7 1220.8,826.5C1221.3,827.4 1221.7,828.3 1222.2,829.2C1222.7,830.1 1223.1,831.0 1223.6,831.9C1224.1,832.8 1224.5,833.7 1225.0,834.6C1225.4,835.5 1225.9,836.4 1226.3,837.3C1226.8,838.2 1227.2,839.1 1227.6,840.0C1228.1,840.9 1228.5,841.9 1229.0,842.7C1229.4,843.6 1229.9,844.5 1230.4,845.4C1230.8,846.3 1231.3,847.2 1231.7,848.1C1232.2,849.0 1232.6,849.9 1233.1,850.8C1233.6,851.7 1234.0,852.5 1234.5,853.4C1234.9,854.3 1235.4,855.2 1235.9,856.1C1236.3,857.0 1236.8,857.9 1237.2,858.7C1237.7,859.6 1238.2,860.5 1238.6,861.4C1239.1,862.3 1239.5,863.2 1240.0,864.1C1240.5,865.0 1240.9,865.8 1241.4,866.7C1241.9,867.6 1242.3,868.5 1242.8,869.4C1243.2,870.3 1243.7,871.2 1244.2,872.1C1244.6,873.0 1245.1,873.9 1245.5,874.7C1246.0,875.6 1246.5,876.5 1246.9,877.4C1247.4,878.3 1247.8,879.2 1248.3,880.1C1248.7,881.0 1249.2,881.9 1249.7,882.8C1250.1,883.7 1250.6,884.6 1251.0,885.5C1251.5,886.4 1251.9,887.3 1252.4,888.2C1252.8,889.0 1253.3,889.9 1253.8,890.8C1254.2,891.7 1254.7,892.6 1255.1,893.5C1255.6,894.4 1256.0,895.3 1256.5,896.2C1256.9,897.1 1257.4,898.0 1257.8,898.9C1258.2,899.8 1258.7,900.7 1259.1,901.6C1259.6,902.5 1260.0,903.4 1260.5,904.3C1260.9,905.2 1261.4,906.1 1261.8,907.0C1262.2,907.9 1262.7,908.8 1263.1,909.7C1263.6,910.6 1264.0,911.5 1264.4,912.4C1264.9,913.3 1265.3,914.2 1265.8,915.1C1266.2,916.0 1266.6,916.9 1267.1,917.8C1267.5,918.7 1268.0,919.6 1268.4,920.5C1268.8,921.4 1269.3,922.3 1269.7,923.2C1270.1,924.1 1270.6,925.0 1271.0,925.9C1271.5,926.8 1271.9,927.7 1272.3,928.6C1272.8,929.5 1273.2,930.4 1273.7,931.3C1274.1,932.2 1274.5,933.1 1275.0,934.0C1275.4,934.9 1275.9,935.8 1276.3,936.7C1276.7,937.6 1277.2,938.5 1277.6,939.4C1278.1,940.3 1278.5,941.2 1278.9,942.1C1279.4,943.0 1279.8,943.9 1280.3,944.8C1280.7,945.7 1281.2,946.6 1281.6,947.5C1282.1,948.3 1282.5,949.2 1283.0,950.1C1283.4,951.0 1283.9,951.9 1284.3,952.8C1284.8,953.7 1285.2,954.6 1285.7,955.5C1286.1,956.4 1286.6,957.3 1287.1,958.2C1287.5,959.0 1288.0,959.9 1288.4,960.8C1288.9,961.7 1289.4,962.6 1289.8,963.5C1290.3,964.4 1290.8,965.2 1291.2,966.1C1291.7,967.0 1292.2,967.9 1292.7,968.8C1293.1,969.7 1293.6,970.5 1294.1,971.4C1294.6,972.3 1295.0,973.2 1295.5,974.1C1296.0,974.9 1296.5,975.8 1297.0,976.7C1297.5,977.6 1297.9,978.4 1298.4,979.3C1298.9,980.2 1299.4,981.1 1299.9,981.9C1300.4,982.8 1300.9,983.7 1301.4,984.6C1301.9,985.4 1302.4,986.3 1302.9,987.2C1303.4,988.0 1303.9,988.9 1304.4,989.8C1305.0,990.6 1305.5,991.5 1306.0,992.3C1306.5,993.2 1307.0,994.1 1307.5,994.9C1308.1,995.8 1308.6,996.6 1309.1,997.5C1309.6,998.3 1310.2,999.2 1310.7,1000.1C1311.2,1000.9 1311.8,1001.8 1312.3,1002.6C1312.8,1003.5 1313.4,1004.3 1313.9,1005.1C1314.5,1006.0 1315.0,1006.8 1315.6,1007.7C1316.1,1008.5 1316.6,1009.4 1317.2,1010.2C1317.8,1011.0 1318.3,1011.9 1318.9,1012.7C1319.4,1013.5 1320.0,1014.4 1320.5,1015.2C1321.1,1016.0 1321.7,1016.9 1322.2,1017.7C1322.8,1018.5 1323.4,1019.4 1324.0,1020.2C1324.5,1021.0 1325.1,1021.8 1325.7,1022.6C1326.3,1023.5 1326.8,1024.3 1327.4,1025.1C1328.0,1025.9 1328.6,1026.7 1329.2,1027.5C1329.8,1028.3 1330.4,1029.1 1331.0,1030.0C1331.6,1030.8 1332.2,1031.6 1332.8,1032.4C1333.4,1033.2 1334.0,1034.0 1334.6,1034.8C1335.2,1035.6 1335.8,1036.3 1336.4,1037.1C1337.0,1037.9 1337.6,1038.7 1338.2,1039.5C1338.9,1040.3 1339.5,1041.1 1340.1,1041.9C1340.7,1042.6 1341.4,1043.4 1342.0,1044.2C1342.6,1045.0 1343.2,1045.7 1343.9,1046.5C1344.5,1047.3 1345.1,1048.1 1345.8,1048.8C1346.4,1049.6 1347.1,1050.3 1347.7,1051.1C1348.4,1051.9 1349.0,1052.6 1349.7,1053.4C1350.3,1054.1 1351.0,1054.9 1351.6,1055.6C1352.3,1056.4 1352.9,1057.1 1353.6,1057.9C1354.3,1058.6 1354.9,1059.3 1355.6,1060.1C1356.3,1060.8 1357.0,1061.6 1357.6,1062.3C1358.3,1063.0 1359.0,1063.7 1359.7,1064.5C1360.4,1065.2 1361.0,1065.9 1361.7,1066.6C1362.4,1067.3 1363.1,1068.1 1363.8,1068.8C1364.5,1069.5 1365.2,1070.2 1365.9,1070.9C1366.6,1071.6 1367.3,1072.3 1368.0,1073.0C1368.7,1073.7 1369.4,1074.4 1370.1,1075.1C1370.8,1075.8 1371.5,1076.5 1372.3,1077.1C1373.0,1077.8 1373.7,1078.5 1374.4,1079.2C1375.2,1079.9 1375.9,1080.5 1376.6,1081.2C1377.3,1081.9 1378.1,1082.5 1378.8,1083.2C1379.6,1083.9 1380.3,1084.5 1381.0,1085.2C1381.8,1085.8 1382.5,1086.5 1383.3,1087.1C1384.0,1087.8 1384.8,1088.4 1385.5,1089.0C1386.3,1089.7 1387.1,1090.3 1387.8,1091.0C1388.6,1091.6 1389.3,1092.2 1390.1,1092.8C1390.9,1093.5 1391.7,1094.1 1392.4,1094.7C1393.2,1095.3 1394.0,1095.9 1394.8,1096.5C1395.5,1097.1 1396.3,1097.8 1397.1,1098.4C1397.9,1099.0 1398.7,1099.6 1399.5,1100.2C1400.3,1100.8 1401.1,1101.3 1401.9,1101.9C1402.7,1102.5 1403.5,1103.1 1404.3,1103.7C1405.1,1104.3 1405.9,1104.8 1406.7,1105.4C1407.5,1106.0 1408.3,1106.6 1409.1,1107.1C1409.9,1107.7 1410.7,1108.3 1411.6,1108.8C1412.4,1109.4 1413.2,1109.9 1414.0,1110.5C1414.8,1111.0 1415.7,1111.6 1416.5,1112.1C1417.3,1112.7 1418.2,1113.2 1419.0,1113.8C1419.8,1114.3 1420.7,1114.8 1421.5,1115.4C1422.4,1115.9 1423.2,1116.4 1424.0,1117.0C1424.9,1117.5 1425.7,1118.0 1426.6,1118.5C1427.4,1119.0 1428.3,1119.6 1429.1,1120.1C1430.0,1120.6 1430.8,1121.1 1431.7,1121.6C1432.6,1122.1 1433.4,1122.6 1434.3,1123.1C1435.2,1123.6 1436.0,1124.1 1436.9,1124.6C1437.8,1125.1 1438.6,1125.6 1439.5,1126.0C1440.4,1126.5 1441.2,1127.0 1442.1,1127.5C1443.0,1128.0 1443.9,1128.5 1444.8,1128.9C1445.6,1129.4 1446.5,1129.9 1447.4,1130.3C1448.3,1130.8 1449.2,1131.3 1450.1,1131.7C1451.0,1132.2 1451.8,1132.6 1452.7,1133.1C1453.6,1133.5 1454.5,1134.0 1455.4,1134.4C1456.3,1134.9 1457.2,1135.3 1458.1,1135.8C1459.0,1136.2 1459.9,1136.7 1460.8,1137.1C1461.7,1137.5 1462.6,1138.0 1463.6,1138.4C1464.5,1138.8 1465.4,1139.2 1466.3,1139.7C1467.2,1140.1 1468.1,1140.5 1469.0,1140.9C1469.9,1141.3 1470.9,1141.7 1471.8,1142.2C1472.7,1142.6 1473.6,1143.0 1474.5,1143.4C1475.5,1143.8 1476.4,1144.2 1477.3,1144.6C1478.2,1145.0 1479.2,1145.4 1480.1,1145.8C1481.0,1146.2 1481.9,1146.6 1482.9,1146.9C1483.8,1147.3 1484.7,1147.7 1485.7,1148.1C1486.6,1148.5 1487.5,1148.9 1488.5,1149.2C1489.4,1149.6 1490.4,1150.0 1491.3,1150.3C1492.2,1150.7 1493.2,1151.1 1494.1,1151.4C1495.1,1151.8 1496.0,1152.2 1497.0,1152.5C1497.9,1152.9 1498.9,1153.2 1499.8,1153.6C1500.7,1154.0 1501.7,1154.3 1502.6,1154.7C1503.6,1155.0 1504.6,1155.3 1505.5,1155.7C1506.5,1156.0 1507.4,1156.4 1508.4,1156.7C1509.3,1157.0 1510.3,1157.4 1511.2,1157.7C1512.2,1158.0 1513.2,1158.4 1514.1,1158.7C1515.1,1159.0 1516.0,1159.3 1517.0,1159.7C1518.0,1160.0 1518.9,1160.3 1519.9,1160.6C1520.8,1160.9 1521.8,1161.2 1522.8,1161.5C1523.7,1161.9 1524.7,1162.2 1525.7,1162.5C1526.6,1162.8 1527.6,1163.1 1528.6,1163.4C1529.6,1163.7 1530.5,1164.0 1531.5,1164.3C1532.5,1164.6 1533.4,1164.9 1534.4,1165.1C1535.4,1165.4 1536.4,1165.7 1537.3,1166.0C1538.3,1166.3 1539.3,1166.6 1540.3,1166.8C1541.2,1167.1 1542.2,1167.4 1543.2,1167.7C1544.2,1168.0 1545.1,1168.2 1546.1,1168.5C1547.1,1168.8 1548.1,1169.0 1549.1,1169.3C1550.0,1169.6 1551.0,1169.8 1552.0,1170.1C1553.0,1170.3 1554.0,1170.6 1554.9,1170.9C1555.9,1171.1 1556.9,1171.4 1557.9,1171.6C1558.9,1171.9 1559.9,1172.1 1560.8,1172.4C1561.8,1172.6 1562.8,1172.8 1563.8,1173.1C1564.8,1173.3 1565.8,1173.6 1566.7,1173.8C1567.7,1174.0 1568.7,1174.3 1569.7,1174.5C1570.7,1174.7 1571.7,1175.0 1572.7,1175.2C1573.6,1175.4 1574.6,1175.6 1575.6,1175.9C1576.6,1176.1 1577.6,1176.3 1578.6,1176.5C1579.6,1176.8 1580.5,1177.0 1581.5,1177.2C1582.5,1177.4 1583.5,1177.6 1584.5,1177.8C1585.5,1178.0 1586.5,1178.2 1587.5,1178.4C1588.4,1178.7 1589.4,1178.9 1590.4,1179.1C1591.4,1179.3 1592.4,1179.5 1593.4,1179.7C1594.4,1179.9 1595.4,1180.0 1596.3,1180.2C1597.3,1180.4 1598.3,1180.6 1599.3,1180.8C1600.3,1181.0 1601.3,1181.2 1602.3,1181.4C1603.3,1181.6 1604.2,1181.7 1605.2,1181.9C1606.2,1182.1 1607.2,1182.3 1608.2,1182.5C1609.2,1182.6 1610.2,1182.8 1611.2,1183.0C1612.2,1183.2 1613.1,1183.3 1614.1,1183.5C1615.1,1183.7 1616.1,1183.9 1617.1,1184.0C1618.1,1184.2 1619.1,1184.4 1620.1,1184.5C1621.1,1184.7 1622.0,1184.8 1623.0,1185.0C1624.0,1185.2 1625.0,1185.3 1626.0,1185.5C1627.0,1185.6 1628.0,1185.8 1629.0,1185.9C1630.0,1186.1 1631.0,1186.2 1631.9,1186.4C1632.9,1186.5 1633.9,1186.7 1634.9,1186.8C1635.9,1187.0 1636.9,1187.1 1637.9,1187.3C1638.9,1187.4 1639.9,1187.6 1640.9,1187.7C1641.8,1187.8 1642.8,1188.0 1643.8,1188.1C1644.8,1188.2 1645.8,1188.4 1646.8,1188.5C1647.8,1188.6 1648.8,1188.8 1649.8,1188.9C1650.8,1189.0 1651.8,1189.2 1652.7,1189.3C1653.7,1189.4 1654.7,1189.6 1655.7,1189.7C1656.7,1189.8 1657.7,1189.9 1658.7,1190.1C1659.7,1190.2 1660.7,1190.3 1661.7,1190.4C1662.7,1190.5 1663.6,1190.7 1664.6,1190.8C1665.6,1190.9 1666.6,1191.0 1667.6,1191.1C1668.6,1191.2 1669.6,1191.4 1670.6,1191.5C1671.6,1191.6 1672.6,1191.7 1673.6,1191.8C1674.6,1191.9 1675.6,1192.0 1676.5,1192.1C1677.5,1192.2 1678.5,1192.3 1679.5,1192.4C1680.5,1192.5 1681.5,1192.7 1682.5,1192.8C1683.5,1192.9 1684.5,1193.0 1685.5,1193.1C1686.5,1193.2 1687.5,1193.3 1688.5,1193.4C1689.5,1193.5 1690.4,1193.6 1691.4,1193.7C1692.4,1193.7 1693.4,1193.8 1694.4,1193.9C1695.4,1194.0 1696.4,1194.1 1697.4,1194.2C1698.4,1194.3 1699.4,1194.4 1700.4,1194.5C1701.4,1194.6 1702.4,1194.7 1703.4,1194.8C1704.4,1194.9 1705.4,1194.9 1706.3,1195.0C1707.3,1195.1 1708.3,1195.2 1709.3,1195.3C1710.3,1195.4 1711.3,1195.5 1712.3,1195.5C1713.3,1195.6 1714.3,1195.7 1715.3,1195.8C1716.3,1195.9 1717.3,1196.0 1718.3,1196.0C1719.3,1196.1 1720.3,1196.2 1721.3,1196.3C1722.3,1196.4 1723.3,1196.4 1724.3,1196.5C1725.2,1196.6 1726.2,1196.7 1727.2,1196.7C1728.2,1196.8 1729.2,1196.9 1730.2,1197.0C1731.2,1197.0 1732.2,1197.1 1733.2,1197.2C1734.2,1197.3 1735.2,1197.3 1736.2,1197.4C1737.2,1197.5 1738.2,1197.6 1739.2,1197.6C1740.2,1197.7 1741.2,1197.8 1742.2,1197.9C1743.2,1197.9 1744.2,1198.0 1745.2,1198.1C1746.2,1198.1 1747.2,1198.2 1748.2,1198.3C1749.1,1198.3 1750.1,1198.4 1751.1,1198.5C1752.1,1198.5 1753.1,1198.6 1754.1,1198.7C1755.1,1198.8 1756.1,1198.8 1757.1,1198.9C1758.1,1199.0 1759.1,1199.0 1760.1,1199.1C1761.1,1199.2 1762.1,1199.2 1763.1,1199.3C1764.1,1199.3 1765.1,1199.4 1766.1,1199.5C1767.1,1199.5 1768.1,1199.6 1769.1,1199.7C1770.1,1199.7 1771.1,1199.8 1772.1,1199.9C1773.1,1199.9 1774.1,1200.0 1775.1,1200.0C1776.1,1200.1 1777.1,1200.2 1778.1,1200.2C1779.1,1200.3 1780.1,1200.4 1781.1,1200.4C1782.1,1200.5 1783.0,1200.5 1784.0,1200.6C1785.0,1200.7 1786.0,1200.7 1787.0,1200.8C1788.0,1200.8 1789.0,1200.9 1790.0,1201.0C1791.0,1201.0 1792.0,1201.1 1793.0,1201.1C1794.0,1201.2 1795.0,1201.2 1796.0,1201.3C1797.0,1201.4 1798.0,1201.4 1799.0,1201.5C1800.0,1201.5 1801.0,1201.6 1802.0,1201.6C1803.0,1201.7 1804.0,1201.7 1805.0,1201.8C1806.0,1201.9 1807.0,1201.9 1808.0,1202.0C1809.0,1202.0 1810.0,1202.1 1811.0,1202.1C1812.0,1202.2 1813.0,1202.2 1814.0,1202.3C1815.0,1202.3 1816.0,1202.4 1817.0,1202.4C1818.0,1202.5 1819.0,1202.6 1820.0,1202.6C1821.0,1202.7 1822.0,1202.7 1823.0,1202.8C1824.0,1202.8 1825.0,1202.9 1826.0,1202.9C1827.0,1203.0 1828.0,1203.0 1829.0,1203.1C1830.0,1203.1 1831.0,1203.2 1832.0,1203.2C1833.0,1203.3 1834.0,1203.3 1835.0,1203.3C1836.0,1203.4 1837.0,1203.4 1838.0,1203.5C1839.0,1203.5 1840.0,1203.6 1841.0,1203.6C1842.0,1203.7 1843.0,1203.7 1844.0,1203.8C1845.0,1203.8 1846.0,1203.9 1847.0,1203.9C1848.0,1204.0 1849.0,1204.0 1850.0,1204.0C1851.0,1204.1 1852.0,1204.1 1853.0,1204.2C1854.0,1204.2 1855.0,1204.3 1856.0,1204.3C1857.0,1204.4 1858.0,1204.4 1859.0,1204.4C1860.0,1204.5 1861.0,1204.5 1862.0,1204.6C1863.0,1204.6 1864.0,1204.7 1865.0,1204.7C1866.0,1204.7 1867.0,1204.8 1868.0,1204.8C1869.0,1204.9 1870.0,1204.9 1871.0,1204.9C1872.0,1205.0 1873.0,1205.0 1874.0,1205.1C1875.0,1205.1 1876.0,1205.1 1877.0,1205.2C1878.0,1205.2 1879.0,1205.3 1880.0,1205.3C1881.0,1205.3 1882.0,1205.4 1883.0,1205.4C1884.0,1205.5 1885.0,1205.5 1886.0,1205.5C1887.0,1205.6 1888.0,1205.6 1889.0,1205.6C1890.0,1205.7 1891.0,1205.7 1892.0,1205.8C1893.0,1205.8 1894.0,1205.8 1895.0,1205.9C1896.0,1205.9 1897.0,1205.9 1898.0,1206.0C1899.0,1206.0 1900.0,1206.0 1901.1,1206.1C1902.1,1206.1 1903.1,1206.1 1904.1,1206.2C1905.1,1206.2 1906.1,1206.3 1907.1,1206.3C1908.1,1206.3 1909.1,1206.4 1910.1,1206.4C1911.1,1206.4 1912.1,1206.5 1913.1,1206.5C1914.1,1206.5 1915.1,1206.5 1916.1,1206.6C1917.1,1206.6 1918.1,1206.6 1919.1,1206.7C1920.1,1206.7 1921.1,1206.7 1922.1,1206.8C1923.1,1206.8 1924.1,1206.8 1925.1,1206.9C1926.1,1206.9 1927.1,1206.9 1928.1,1207.0C1929.1,1207.0 1930.1,1207.0 1931.1,1207.0C1932.1,1207.1 1933.1,1207.1 1934.1,1207.1C1935.1,1207.2 1936.1,1207.2 1937.1,1207.2C1938.1,1207.3 1939.1,1207.3 1940.1,1207.3C1941.1,1207.3 1942.1,1207.4 1943.1,1207.4C1944.1,1207.4 1945.1,1207.4 1946.1,1207.5C1947.1,1207.5 1948.2,1207.5 1949.2,1207.6C1950.2,1207.6 1951.2,1207.6 1952.2,1207.6C1953.2,1207.7 1954.2,1207.7 1955.2,1207.7C1956.2,1207.7 1957.2,1207.8 1958.2,1207.8C1959.2,1207.8 1960.2,1207.8 1961.2,1207.9C1962.2,1207.9 1963.2,1207.9 1964.2,1207.9C1965.2,1208.0 1966.2,1208.0 1967.2,1208.0C1968.2,1208.0 1969.2,1208.1 1970.2,1208.1C1971.2,1208.1 1972.2,1208.1 1973.2,1208.2C1974.2,1208.2 1975.2,1208.2 1976.2,1208.2C1977.2,1208.3 1978.2,1208.3 1979.2,1208.3C1980.2,1208.3 1981.2,1208.3 1982.2,1208.4C1983.2,1208.4 1984.3,1208.4 1985.3,1208.4C1986.3,1208.5 1987.3,1208.5 1988.3,1208.5C1989.3,1208.5 1990.3,1208.5 1991.3,1208.6C1992.3,1208.6 1993.3,1208.6 1994.3,1208.6C1995.3,1208.6 1996.3,1208.7 1997.3,1208.7C1998.3,1208.7 1999.3,1208.7 2000.3,1208.7C2001.3,1208.8 2002.3,1208.8 2003.3,1208.8C2004.3,1208.8 2005.3,1208.8 2006.3,1208.9C2007.3,1208.9 2008.3,1208.9 2009.3,1208.9C2010.3,1208.9 2011.3,1209.0 2012.3,1209.0C2013.3,1209.0 2014.3,1209.0 2015.3,1209.0C2016.3,1209.1 2017.4,1209.1 2018.4,1209.1C2019.4,1209.1 2020.4,1209.1 2021.4,1209.1C2022.4,1209.2 2023.4,1209.2 2024.4,1209.2C2025.4,1209.2 2026.4,1209.2 2027.4,1209.2C2028.4,1209.3 2029.4,1209.3 2030.4,1209.3C2031.4,1209.3 2032.4,1209.3 2033.4,1209.3C2034.4,1209.4 2035.4,1209.4 2036.4,1209.4C2037.4,1209.4 2038.4,1209.4 2039.4,1209.4C2040.4,1209.5 2041.4,1209.5 2042.4,1209.5C2043.4,1209.5 2044.4,1209.5 2045.4,1209.5C2046.4,1209.5 2047.4,1209.6 2048.4,1209.6C2049.4,1209.6 2050.5,1209.6 2051.5,1209.6C2052.5,1209.6 2053.5,1209.6 2054.5,1209.7C2055.5,1209.7 2056.5,1209.7 2057.5,1209.7C2058.5,1209.7 2059.5,1209.7 2060.5,1209.7C2061.5,1209.8 2062.5,1209.8 2063.5,1209.8C2064.5,1209.8 2065.5,1209.8 2066.5,1209.8C2067.5,1209.8 2068.5,1209.8 2069.5,1209.9C2070.5,1209.9 2071.5,1209.9 2072.5,1209.9C2073.5,1209.9 2074.5,1209.9 2075.5,1209.9C2076.5,1209.9 2077.5,1210.0 2078.5,1210.0C2079.5,1210.0 2080.5,1210.0 2081.5,1210.0C2082.5,1210.0 2083.5,1210.0 2084.5,1210.0C2085.6,1210.1 2086.6,1210.1 2087.6,1210.1C2088.6,1210.1 2089.6,1210.1 2090.6,1210.1C2091.6,1210.1 2092.6,1210.1 2093.6,1210.1C2094.6,1210.2 2095.6,1210.2 2096.6,1210.2C2097.6,1210.2 2098.6,1210.2 2099.6,1210.2C2100.6,1210.2 2101.6,1210.2 2102.6,1210.2C2103.6,1210.3 2104.6,1210.3 2105.6,1210.3C2106.6,1210.3 2107.6,1210.3 2108.6,1210.3C2109.6,1210.3 2110.6,1210.3 2111.6,1210.3C2112.6,1210.3 2113.6,1210.4 2114.6,1210.4C2115.6,1210.4 2116.6,1210.4 2117.6,1210.4C2118.6,1210.4 2119.6,1210.4 2120.6,1210.4C2121.6,1210.4 2122.6,1210.4 2123.6,1210.4C2124.6,1210.5 2125.7,1210.5 2126.7,1210.5C2127.7,1210.5 2128.7,1210.5 2129.7,1210.5C2130.7,1210.5 2131.7,1210.5 2132.7,1210.5C2133.7,1210.5 2134.7,1210.5 2135.7,1210.6C2136.7,1210.6 2137.7,1210.6 2138.7,1210.6C2139.7,1210.6 2140.7,1210.6 2141.7,1210.6C2142.7,1210.6 2143.7,1210.6 2144.7,1210.6C2145.7,1210.6 2146.7,1210.6 2147.7,1210.7C2148.7,1210.7 2149.7,1210.7 2150.7,1210.7C2151.7,1210.7 2152.7,1210.7 2153.7,1210.7C2154.7,1210.7 2155.7,1210.7 2156.7,1210.7C2157.7,1210.7 2158.7,1210.7 2159.7,1210.7C2160.7,1210.8 2161.7,1210.8 2162.7,1210.8C2163.7,1210.8 2164.7,1210.8 2165.7,1210.8C2166.7,1210.8 2167.7,1210.8 2168.7,1210.8C2169.7,1210.8 2170.7,1210.8 2171.7,1210.8C2172.7,1210.8 2173.7,1210.9 2174.7,1210.9C2175.7,1210.9 2176.7,1210.9 2177.7,1210.9C2178.7,1210.9 2179.7,1210.9 2180.7,1210.9C2181.7,1210.9 2182.7,1210.9 2183.7,1210.9C2184.7,1210.9 2185.7,1210.9 2186.7,1210.9C2187.7,1211.0 2188.7,1211.0 2189.7,1211.0C2190.7,1211.0 2191.7,1211.0 2192.7,1211.0C2193.8,1211.0 2194.8,1211.0 2195.8,1211.0C2196.8,1211.0 2197.8,1211.0 2198.8,1211.0C2199.8,1211.0 2200.8,1211.0 2201.8,1211.0C2202.8,1211.1 2203.8,1211.1 2204.8,1211.1C2205.8,1211.1 2206.8,1211.1 2207.8,1211.1C2208.8,1211.1 2209.8,1211.1 2210.8,1211.1C2211.8,1211.1 2212.8,1211.1 2213.8,1211.1C2214.8,1211.1 2215.8,1211.1 2216.8,1211.1C2217.8,1211.2 2218.8,1211.2 2219.8,1211.2C2220.8,1211.2 2221.8,1211.2 2222.8,1211.2C2223.8,1211.2 2224.8,1211.2 2225.8,1211.2C2226.8,1211.2 2227.8,1211.2 2228.8,1211.2C2229.7,1211.2 2231.2,1211.2 2231.7,1211.3" stroke="#ff00ff" stroke-width="9.5"/>
<path class="c" d="M681.5,1161.0C682.0,1161.0 683.5,1160.8 684.5,1160.8C685.5,1160.7 686.5,1160.6 687.5,1160.6C688.5,1160.5 689.5,1160.4 690.5,1160.4C691.5,1160.4 692.5,1160.3 693.5,1160.3C694.5,1160.3 695.5,1160.2 696.5,1160.2C697.5,1160.2 698.5,1160.2 699.5,1160.2C700.5,1160.2 701.5,1160.3 702.5,1160.3C703.5,1160.3 704.5,1160.3 705.5,1160.4C706.5,1160.4 707.5,1160.5 708.5,1160.5C709.5,1160.6 710.6,1160.7 711.6,1160.7C712.6,1160.8 713.6,1160.9 714.6,1161.0C715.6,1161.1 716.6,1161.2 717.5,1161.3C718.5,1161.5 719.5,1161.6 720.5,1161.7C721.5,1161.9 722.5,1162.0 723.5,1162.2C724.5,1162.3 725.5,1162.5 726.5,1162.7C727.4,1162.9 728.4,1163.1 729.4,1163.3C730.4,1163.5 731.4,1163.7 732.3,1163.9C733.3,1164.1 734.3,1164.3 735.3,1164.6C736.2,1164.8 737.2,1165.0 738.2,1165.3C739.1,1165.5 740.1,1165.8 741.1,1166.0C742.1,1166.2 743.0,1166.5 744.0,1166.7C745.0,1166.9 746.0,1167.2 746.9,1167.4C747.9,1167.6 748.9,1167.8 749.9,1168.0C750.9,1168.3 751.9,1168.5 752.8,1168.7C753.8,1168.9 754.8,1169.1 755.8,1169.3C756.8,1169.5 757.8,1169.7 758.8,1169.9C759.7,1170.1 760.7,1170.4 761.7,1170.6C762.7,1170.8 763.6,1171.1 764.6,1171.3C765.6,1171.6 766.5,1171.9 767.5,1172.2C768.5,1172.4 769.4,1172.7 770.4,1173.1C771.3,1173.4 772.2,1173.7 773.2,1174.1C774.1,1174.4 775.0,1174.8 775.9,1175.2C776.9,1175.5 777.8,1175.9 778.7,1176.4C779.6,1176.8 780.5,1177.2 781.4,1177.7C782.3,1178.1 783.1,1178.6 784.0,1179.1C784.9,1179.6 785.7,1180.1 786.6,1180.6C787.5,1181.1 788.3,1181.6 789.1,1182.2C790.0,1182.8 790.8,1183.3 791.6,1183.9C792.4,1184.5 793.3,1185.1 794.1,1185.8C794.9,1186.4 795.7,1187.0 796.5,1187.6C797.3,1188.3 798.1,1188.9 798.9,1189.5C799.7,1190.1 800.5,1190.7 801.3,1191.3C802.1,1191.9 803.0,1192.5 803.8,1193.0C804.6,1193.5 805.5,1194.1 806.4,1194.5C807.2,1195.0 808.1,1195.4 809.0,1195.8C809.9,1196.2 810.8,1196.6 811.8,1196.8C812.7,1197.1 813.7,1197.4 814.7,1197.6C815.6,1197.8 816.6,1198.0 817.6,1198.1C818.6,1198.2 819.6,1198.3 820.6,1198.4C821.7,1198.5 822.7,1198.5 823.7,1198.6C824.7,1198.6 825.7,1198.6 826.8,1198.6C827.8,1198.6 828.8,1198.6 829.8,1198.6C830.8,1198.6 831.8,1198.5 832.8,1198.5C833.8,1198.4 834.8,1198.4 835.8,1198.2C836.8,1198.1 837.8,1198.0 838.7,1197.8C839.7,1197.7 840.7,1197.5 841.6,1197.2C842.6,1197.0 843.5,1196.7 844.5,1196.4C845.4,1196.1 846.4,1195.7 847.3,1195.4C848.3,1195.1 849.2,1194.7 850.2,1194.4C851.2,1194.1 852.1,1193.9 853.1,1193.6C854.1,1193.4 855.0,1193.2 856.0,1193.1C857.0,1192.9 858.0,1192.8 859.0,1192.6C859.9,1192.5 860.9,1192.3 861.9,1192.0C862.8,1191.8 863.8,1191.5 864.7,1191.2C865.6,1190.8 866.6,1190.5 867.5,1190.1C868.4,1189.7 869.3,1189.3 870.2,1188.9C871.1,1188.5 872.1,1188.0 873.0,1187.6C873.9,1187.1 874.8,1186.7 875.7,1186.2C876.6,1185.8 877.5,1185.3 878.4,1184.9C879.3,1184.5 880.3,1184.1 881.2,1183.6C882.1,1183.2 883.0,1182.8 883.9,1182.4C884.8,1182.0 885.7,1181.6 886.7,1181.2C887.6,1180.7 888.5,1180.3 889.4,1179.9C890.3,1179.4 891.2,1179.0 892.1,1178.6C893.0,1178.1 893.8,1177.6 894.7,1177.2C895.6,1176.7 896.5,1176.2 897.3,1175.7C898.2,1175.1 899.0,1174.6 899.9,1174.1C900.7,1173.6 901.6,1173.0 902.4,1172.5C903.3,1171.9 904.1,1171.4 905.0,1170.9C905.8,1170.3 906.7,1169.8 907.5,1169.3C908.4,1168.7 909.2,1168.2 910.1,1167.7C911.0,1167.2 911.8,1166.7 912.7,1166.2C913.6,1165.8 914.5,1165.3 915.4,1164.9C916.3,1164.4 917.2,1164.0 918.1,1163.6C919.0,1163.2 919.9,1162.8 920.9,1162.5C921.8,1162.1 922.7,1161.8 923.7,1161.4C924.6,1161.1 925.6,1160.8 926.5,1160.4C927.5,1160.1 928.4,1159.8 929.4,1159.6C930.4,1159.3 931.4,1159.0 932.3,1158.7C933.3,1158.4 934.3,1158.2 935.2,1157.9C936.2,1157.5 937.1,1157.2 938.0,1156.8C938.9,1156.4 939.8,1155.9 940.6,1155.4C941.5,1154.8 942.3,1154.3 943.1,1153.6C943.9,1153.0 944.6,1152.4 945.4,1151.7C946.1,1151.0 946.9,1150.4 947.6,1149.7C948.4,1149.0 949.1,1148.3 949.8,1147.6C950.6,1146.9 951.3,1146.2 952.0,1145.5C952.7,1144.8 953.4,1144.1 954.1,1143.4C954.8,1142.7 955.5,1142.0 956.2,1141.2C956.9,1140.5 957.6,1139.8 958.3,1139.1C959.0,1138.3 959.7,1137.6 960.3,1136.9C961.0,1136.1 961.7,1135.4 962.3,1134.6C963.0,1133.9 963.7,1133.1 964.3,1132.4C965.0,1131.6 965.6,1130.8 966.2,1130.0C966.9,1129.3 967.5,1128.5 968.1,1127.7C968.8,1126.9 969.4,1126.1 970.0,1125.3C970.6,1124.6 971.3,1123.8 971.9,1123.0C972.5,1122.2 973.2,1121.4 973.8,1120.7C974.5,1119.9 975.1,1119.1 975.8,1118.4C976.4,1117.6 977.1,1116.9 977.8,1116.1C978.5,1115.4 979.2,1114.7 979.9,1114.0C980.6,1113.3 981.3,1112.6 982.0,1111.9C982.8,1111.2 983.5,1110.6 984.3,1110.0C985.1,1109.3 985.9,1108.7 986.7,1108.1C987.5,1107.6 988.3,1107.0 989.2,1106.5C990.0,1105.9 990.9,1105.4 991.8,1105.0C992.7,1104.5 993.6,1104.1 994.5,1103.6C995.4,1103.2 996.3,1102.8 997.2,1102.3C998.1,1101.9 999.0,1101.4 999.8,1100.9C1000.7,1100.3 1001.5,1099.8 1002.3,1099.2C1003.0,1098.5 1003.8,1097.9 1004.5,1097.2C1005.2,1096.5 1005.9,1095.8 1006.6,1095.1C1007.3,1094.3 1007.9,1093.5 1008.6,1092.8C1009.2,1092.0 1009.8,1091.2 1010.5,1090.4C1011.1,1089.6 1011.7,1088.7 1012.3,1087.9C1012.9,1087.1 1013.5,1086.3 1014.1,1085.5C1014.8,1084.7 1015.4,1083.9 1016.0,1083.1C1016.6,1082.3 1017.2,1081.4 1017.7,1080.6C1018.3,1079.8 1018.9,1079.0 1019.5,1078.2C1020.1,1077.4 1020.6,1076.5 1021.2,1075.7C1021.8,1074.9 1022.3,1074.0 1022.9,1073.2C1023.4,1072.4 1024.0,1071.5 1024.5,1070.7C1025.0,1069.8 1025.5,1069.0 1026.1,1068.1C1026.6,1067.3 1027.1,1066.4 1027.6,1065.6C1028.1,1064.7 1028.6,1063.8 1029.1,1063.0C1029.6,1062.1 1030.1,1061.2 1030.5,1060.4C1031.0,1059.5 1031.5,1058.6 1032.0,1057.7C1032.4,1056.8 1032.9,1056.0 1033.4,1055.1C1033.8,1054.2 1034.3,1053.3 1034.7,1052.4C1035.2,1051.5 1035.6,1050.6 1036.1,1049.7C1036.5,1048.8 1037.0,1047.9 1037.4,1047.0C1037.9,1046.1 1038.3,1045.2 1038.7,1044.3C1039.2,1043.4 1039.6,1042.5 1040.0,1041.6C1040.4,1040.7 1040.9,1039.8 1041.3,1038.9C1041.7,1038.0 1042.1,1037.1 1042.5,1036.2C1043.0,1035.3 1043.4,1034.3 1043.8,1033.4C1044.2,1032.5 1044.6,1031.6 1045.1,1030.7C1045.5,1029.8 1045.9,1028.9 1046.3,1028.0C1046.7,1027.0 1047.1,1026.1 1047.5,1025.2C1048.0,1024.3 1048.4,1023.4 1048.8,1022.5C1049.2,1021.6 1049.6,1020.6 1050.0,1019.7C1050.4,1018.8 1050.9,1017.9 1051.3,1017.0C1051.7,1016.1 1052.1,1015.2 1052.5,1014.3C1053.0,1013.3 1053.4,1012.4 1053.8,1011.5C1054.2,1010.6 1054.6,1009.7 1055.1,1008.8C1055.5,1007.9 1055.9,1007.0 1056.3,1006.1C1056.8,1005.1 1057.2,1004.2 1057.6,1003.3C1058.0,1002.4 1058.5,1001.5 1058.9,1000.6C1059.3,999.7 1059.8,998.8 1060.2,997.9C1060.6,997.0 1061.0,996.1 1061.5,995.2C1061.9,994.3 1062.3,993.4 1062.8,992.4C1063.2,991.5 1063.6,990.6 1064.1,989.7C1064.5,988.8 1064.9,987.9 1065.4,987.0C1065.8,986.1 1066.2,985.2 1066.7,984.3C1067.1,983.4 1067.5,982.5 1068.0,981.6C1068.4,980.7 1068.8,979.8 1069.3,978.9C1069.7,978.0 1070.1,977.1 1070.6,976.2C1071.0,975.3 1071.4,974.4 1071.9,973.5C1072.3,972.6 1072.7,971.7 1073.2,970.8C1073.6,969.9 1074.0,969.0 1074.5,968.1C1074.9,967.2 1075.4,966.3 1075.8,965.4C1076.2,964.5 1076.7,963.6 1077.1,962.7C1077.5,961.8 1078.0,960.9 1078.4,960.0C1078.8,959.1 1079.3,958.2 1079.7,957.3C1080.1,956.4 1080.6,955.5 1081.0,954.6C1081.4,953.7 1081.9,952.8 1082.3,952.0C1082.8,951.1 1083.2,950.2 1083.7,949.3C1084.1,948.4 1084.6,947.5 1085.0,946.6C1085.5,945.7 1086.0,944.9 1086.4,944.0C1086.9,943.1 1087.4,942.3 1087.9,941.4C1088.5,940.5 1089.0,939.7 1089.5,938.8C1090.1,938.0 1090.6,937.1 1091.2,936.3C1091.8,935.4 1092.3,934.6 1093.0,933.8C1093.6,933.0 1094.2,932.2 1094.9,931.3C1095.5,930.5 1096.2,929.7 1096.9,929.0C1097.6,928.2 1098.3,927.4 1099.1,926.7C1099.8,926.0 1100.6,925.3 1101.4,924.7C1102.2,924.1 1103.0,923.5 1103.8,923.0C1104.7,922.5 1105.5,922.1 1106.4,921.7C1107.3,921.4 1108.2,921.1 1109.1,920.9C1110.1,920.8 1111.0,920.7 1112.0,920.7C1113.0,920.8 1114.0,920.9 1114.9,921.2C1115.9,921.4 1116.9,921.8 1117.9,922.2C1118.9,922.6 1119.8,923.1 1120.7,923.7C1121.6,924.2 1122.5,924.9 1123.3,925.5C1124.0,926.2 1124.8,926.9 1125.4,927.7C1126.1,928.4 1126.8,929.2 1127.4,930.0C1128.0,930.8 1128.5,931.6 1129.1,932.4C1129.6,933.3 1130.1,934.2 1130.6,935.0C1131.1,935.9 1131.6,936.8 1132.1,937.6C1132.6,938.5 1133.1,939.4 1133.6,940.3C1134.1,941.2 1134.5,942.0 1135.0,942.9C1135.5,943.8 1136.0,944.7 1136.4,945.6C1136.9,946.5 1137.3,947.4 1137.8,948.3C1138.2,949.2 1138.7,950.0 1139.1,950.9C1139.6,951.8 1140.0,952.7 1140.5,953.6C1140.9,954.5 1141.4,955.4 1141.8,956.3C1142.2,957.3 1142.7,958.2 1143.1,959.1C1143.5,960.0 1143.9,960.9 1144.4,961.8C1144.8,962.7 1145.2,963.6 1145.6,964.5C1146.1,965.4 1146.5,966.3 1146.9,967.2C1147.3,968.2 1147.7,969.1 1148.1,970.0C1148.6,970.9 1149.0,971.8 1149.4,972.7C1149.8,973.6 1150.2,974.5 1150.6,975.4C1151.0,976.4 1151.4,977.3 1151.9,978.2C1152.3,979.1 1152.7,980.0 1153.1,980.9C1153.5,981.8 1153.9,982.8 1154.3,983.7C1154.7,984.6 1155.1,985.5 1155.5,986.4C1155.9,987.3 1156.3,988.2 1156.7,989.2C1157.1,990.1 1157.5,991.0 1157.9,991.9C1158.3,992.8 1158.7,993.7 1159.1,994.7C1159.5,995.6 1159.9,996.5 1160.3,997.4C1160.7,998.3 1161.1,999.3 1161.5,1000.2C1161.9,1001.1 1162.3,1002.0 1162.7,1002.9C1163.1,1003.8 1163.5,1004.8 1163.9,1005.7C1164.3,1006.6 1164.7,1007.5 1165.1,1008.4C1165.5,1009.4 1165.9,1010.3 1166.3,1011.2C1166.7,1012.1 1167.1,1013.0 1167.5,1014.0C1167.9,1014.9 1168.3,1015.8 1168.6,1016.7C1169.0,1017.6 1169.4,1018.6 1169.8,1019.5C1170.2,1020.4 1170.6,1021.3 1171.0,1022.2C1171.4,1023.2 1171.8,1024.1 1172.2,1025.0C1172.6,1025.9 1173.0,1026.8 1173.4,1027.8C1173.8,1028.7 1174.2,1029.6 1174.6,1030.5C1175.0,1031.4 1175.4,1032.4 1175.8,1033.3C1176.2,1034.2 1176.6,1035.1 1177.0,1036.1C1177.4,1037.0 1177.8,1037.9 1178.2,1038.8C1178.6,1039.7 1179.0,1040.7 1179.4,1041.6C1179.8,1042.5 1180.2,1043.4 1180.6,1044.3C1181.0,1045.3 1181.4,1046.2 1181.8,1047.1C1182.2,1048.0 1182.6,1048.9 1183.0,1049.9C1183.4,1050.8 1183.8,1051.7 1184.2,1052.6C1184.6,1053.5 1185.0,1054.4 1185.5,1055.4C1185.9,1056.3 1186.3,1057.2 1186.7,1058.1C1187.1,1059.0 1187.5,1059.9 1188.0,1060.8C1188.4,1061.8 1188.8,1062.7 1189.2,1063.6C1189.7,1064.5 1190.1,1065.4 1190.5,1066.3C1191.0,1067.2 1191.4,1068.1 1191.8,1069.0C1192.3,1069.9 1192.7,1070.8 1193.1,1071.7C1193.6,1072.6 1194.0,1073.5 1194.5,1074.4C1194.9,1075.3 1195.4,1076.2 1195.8,1077.1C1196.3,1077.9 1196.8,1078.8 1197.2,1079.7C1197.7,1080.6 1198.2,1081.5 1198.6,1082.4C1199.1,1083.2 1199.6,1084.1 1200.1,1085.0C1200.5,1085.9 1201.0,1086.7 1201.5,1087.6C1202.0,1088.5 1202.5,1089.3 1203.0,1090.2C1203.5,1091.1 1204.0,1091.9 1204.5,1092.8C1205.0,1093.6 1205.5,1094.5 1206.0,1095.3C1206.5,1096.2 1207.0,1097.0 1207.6,1097.9C1208.1,1098.7 1208.6,1099.5 1209.2,1100.4C1209.7,1101.2 1210.2,1102.0 1210.8,1102.9C1211.3,1103.7 1211.9,1104.5 1212.4,1105.3C1213.0,1106.2 1213.6,1107.0 1214.1,1107.8C1214.7,1108.6 1215.3,1109.4 1215.9,1110.2C1216.4,1111.0 1217.0,1111.8 1217.6,1112.6C1218.2,1113.4 1218.8,1114.2 1219.4,1115.0C1220.0,1115.8 1220.7,1116.5 1221.3,1117.3C1221.9,1118.1 1222.5,1118.9 1223.2,1119.6C1223.8,1120.4 1224.4,1121.1 1225.1,1121.9C1225.7,1122.7 1226.4,1123.4 1227.0,1124.1C1227.7,1124.9 1228.4,1125.6 1229.1,1126.4C1229.7,1127.1 1230.4,1127.8 1231.1,1128.5C1231.8,1129.3 1232.5,1130.0 1233.2,1130.7C1233.9,1131.4 1234.6,1132.1 1235.3,1132.8C1236.0,1133.5 1236.8,1134.2 1237.5,1134.9C1238.2,1135.6 1239.0,1136.3 1239.7,1137.0C1240.4,1137.6 1241.2,1138.3 1241.9,1139.0C1242.7,1139.7 1243.4,1140.3 1244.2,1141.0C1245.0,1141.6 1245.7,1142.3 1246.5,1142.9C1247.3,1143.6 1248.1,1144.2 1248.9,1144.9C1249.6,1145.5 1250.4,1146.1 1251.2,1146.7C1252.0,1147.4 1252.8,1148.0 1253.6,1148.6C1254.4,1149.2 1255.2,1149.8 1256.1,1150.4C1256.9,1151.0 1257.7,1151.6 1258.5,1152.2C1259.3,1152.8 1260.2,1153.4 1261.0,1154.0C1261.8,1154.5 1262.7,1155.1 1263.5,1155.7C1264.3,1156.2 1265.2,1156.8 1266.0,1157.3C1266.9,1157.9 1267.7,1158.4 1268.6,1159.0C1269.5,1159.5 1270.3,1160.1 1271.2,1160.6C1272.0,1161.1 1272.9,1161.6 1273.8,1162.1C1274.6,1162.7 1275.5,1163.2 1276.4,1163.7C1277.3,1164.2 1278.2,1164.7 1279.0,1165.2C1279.9,1165.7 1280.8,1166.1 1281.7,1166.6C1282.6,1167.1 1283.5,1167.6 1284.4,1168.0C1285.3,1168.5 1286.2,1169.0 1287.1,1169.4C1288.0,1169.9 1288.9,1170.3 1289.8,1170.7C1290.7,1171.2 1291.6,1171.6 1292.5,1172.0C1293.4,1172.5 1294.3,1172.9 1295.2,1173.3C1296.1,1173.7 1297.0,1174.1 1298.0,1174.5C1298.9,1174.9 1299.8,1175.3 1300.7,1175.7C1301.6,1176.1 1302.6,1176.5 1303.5,1176.9C1304.4,1177.2 1305.3,1177.6 1306.3,1178.0C1307.2,1178.3 1308.1,1178.7 1309.0,1179.0C1310.0,1179.4 1310.9,1179.7 1311.8,1180.1C1312.8,1180.4 1313.7,1180.7 1314.7,1181.1C1315.6,1181.4 1316.5,1181.7 1317.5,1182.0C1318.4,1182.3 1319.4,1182.6 1320.3,1182.9C1321.2,1183.3 1322.2,1183.6 1323.1,1183.8C1324.1,1184.1 1325.0,1184.4 1326.0,1184.7C1326.9,1185.0 1327.9,1185.3 1328.8,1185.5C1329.8,1185.8 1330.7,1186.1 1331.7,1186.3C1332.7,1186.6 1333.6,1186.9 1334.6,1187.1C1335.5,1187.4 1336.5,1187.6 1337.4,1187.9C1338.4,1188.1 1339.4,1188.4 1340.3,1188.6C1341.3,1188.8 1342.3,1189.1 1343.2,1189.3C1344.2,1189.5 1345.2,1189.7 1346.1,1189.9C1347.1,1190.2 1348.1,1190.4 1349.0,1190.6C1350.0,1190.8 1351.0,1191.0 1352.0,1191.2C1352.9,1191.4 1353.9,1191.6 1354.9,1191.8C1355.9,1192.0 1356.8,1192.2 1357.8,1192.4C1358.8,1192.5 1359.8,1192.7 1360.7,1192.9C1361.7,1193.1 1362.7,1193.2 1363.7,1193.4C1364.7,1193.6 1365.6,1193.8 1366.6,1193.9C1367.6,1194.1 1368.6,1194.2 1369.6,1194.4C1370.6,1194.6 1371.6,1194.7 1372.5,1194.9C1373.5,1195.0 1374.5,1195.2 1375.5,1195.3C1376.5,1195.5 1377.5,1195.6 1378.5,1195.7C1379.5,1195.9 1380.4,1196.0 1381.4,1196.2C1382.4,1196.3 1383.4,1196.4 1384.4,1196.5C1385.4,1196.7 1386.4,1196.8 1387.4,1196.9C1388.4,1197.0 1389.4,1197.2 1390.4,1197.3C1391.4,1197.4 1392.4,1197.5 1393.4,1197.6C1394.4,1197.8 1395.4,1197.9 1396.3,1198.0C1397.3,1198.1 1398.3,1198.2 1399.3,1198.3C1400.3,1198.4 1401.3,1198.5 1402.3,1198.6C1403.3,1198.7 1404.3,1198.8 1405.3,1198.9C1406.3,1199.0 1407.3,1199.1 1408.3,1199.2C1409.3,1199.3 1410.3,1199.4 1411.3,1199.5C1412.3,1199.6 1413.3,1199.7 1414.3,1199.8C1415.3,1199.9 1416.3,1200.0 1417.3,1200.1C1418.3,1200.1 1419.3,1200.2 1420.3,1200.3C1421.3,1200.4 1422.3,1200.5 1423.3,1200.6C1424.3,1200.7 1425.3,1200.7 1426.3,1200.8C1427.4,1200.9 1428.4,1201.0 1429.4,1201.1C1430.4,1201.2 1431.4,1201.2 1432.4,1201.3C1433.4,1201.4 1434.4,1201.5 1435.4,1201.6C1436.4,1201.6 1437.4,1201.7 1438.4,1201.8C1439.4,1201.9 1440.4,1202.0 1441.4,1202.0C1442.4,1202.1 1443.4,1202.2 1444.4,1202.3C1445.4,1202.4 1446.4,1202.4 1447.4,1202.5C1448.4,1202.6 1449.4,1202.7 1450.4,1202.7C1451.4,1202.8 1452.4,1202.9 1453.4,1203.0C1454.4,1203.0 1455.4,1203.1 1456.4,1203.2C1457.4,1203.3 1458.4,1203.3 1459.4,1203.4C1460.4,1203.5 1461.4,1203.6 1462.4,1203.6C1463.4,1203.7 1464.4,1203.8 1465.4,1203.8C1466.4,1203.9 1467.4,1204.0 1468.4,1204.1C1469.4,1204.1 1470.4,1204.2 1471.4,1204.3C1472.4,1204.3 1473.5,1204.4 1474.5,1204.5C1475.5,1204.5 1476.5,1204.6 1477.5,1204.7C1478.5,1204.7 1479.5,1204.8 1480.5,1204.9C1481.5,1205.0 1482.5,1205.0 1483.5,1205.1C1484.5,1205.2 1485.5,1205.2 1486.5,1205.3C1487.5,1205.3 1488.5,1205.4 1489.5,1205.5C1490.5,1205.5 1491.5,1205.6 1492.5,1205.7C1493.5,1205.7 1494.5,1205.8 1495.5,1205.9C1496.5,1205.9 1497.5,1206.0 1498.5,1206.1C1499.5,1206.1 1500.5,1206.2 1501.5,1206.2C1502.5,1206.3 1503.5,1206.4 1504.5,1206.4C1505.5,1206.5 1506.5,1206.5 1507.5,1206.6C1508.5,1206.7 1509.5,1206.7 1510.5,1206.8C1511.5,1206.8 1512.5,1206.9 1513.5,1207.0C1514.5,1207.0 1515.5,1207.1 1516.5,1207.1C1517.5,1207.2 1518.5,1207.2 1519.5,1207.3C1520.5,1207.4 1521.5,1207.4 1522.5,1207.5C1523.6,1207.5 1524.6,1207.6 1525.6,1207.6C1526.6,1207.7 1527.6,1207.8 1528.6,1207.8C1529.6,1207.9 1530.6,1207.9 1531.6,1208.0C1532.6,1208.0 1533.6,1208.1 1534.6,1208.1C1535.6,1208.2 1536.6,1208.2 1537.6,1208.3C1538.6,1208.3 1539.6,1208.4 1540.6,1208.4C1541.6,1208.5 1542.6,1208.5 1543.6,1208.6C1544.6,1208.6 1545.6,1208.7 1546.6,1208.7C1547.6,1208.8 1548.6,1208.8 1549.6,1208.9C1550.6,1208.9 1551.6,1209.0 1552.6,1209.0C1553.6,1209.1 1554.6,1209.1 1555.6,1209.2C1556.6,1209.2 1557.6,1209.3 1558.6,1209.3C1559.6,1209.4 1560.6,1209.4 1561.6,1209.5C1562.6,1209.5 1563.6,1209.6 1564.6,1209.6C1565.6,1209.7 1566.6,1209.7 1567.6,1209.8C1568.6,1209.8 1569.6,1209.8 1570.6,1209.9C1571.6,1209.9 1572.6,1210.0 1573.6,1210.0C1574.6,1210.1 1575.6,1210.1 1576.6,1210.1C1577.6,1210.2 1578.6,1210.2 1579.7,1210.3C1580.7,1210.3 1581.7,1210.4 1582.7,1210.4C1583.7,1210.4 1584.7,1210.5 1585.7,1210.5C1586.7,1210.6 1587.7,1210.6 1588.7,1210.7C1589.7,1210.7 1590.7,1210.7 1591.7,1210.8C1592.7,1210.8 1593.7,1210.9 1594.7,1210.9C1595.7,1210.9 1596.7,1211.0 1597.7,1211.0C1598.7,1211.0 1599.7,1211.1 1600.7,1211.1C1601.7,1211.2 1602.7,1211.2 1603.7,1211.2C1604.7,1211.3 1605.7,1211.3 1606.7,1211.3C1607.7,1211.4 1608.7,1211.4 1609.7,1211.5C1610.7,1211.5 1611.7,1211.5 1612.7,1211.6C1613.7,1211.6 1614.7,1211.6 1615.7,1211.7C1616.7,1211.7 1617.7,1211.7 1618.7,1211.8C1619.7,1211.8 1620.7,1211.8 1621.7,1211.9C1622.7,1211.9 1623.7,1211.9 1624.7,1212.0C1625.7,1212.0 1626.7,1212.0 1627.7,1212.1C1628.7,1212.1 1629.7,1212.1 1630.7,1212.2C1631.7,1212.2 1632.7,1212.2 1633.7,1212.3C1634.7,1212.3 1635.7,1212.3 1636.7,1212.4C1637.7,1212.4 1638.7,1212.4 1639.8,1212.4C1640.8,1212.5 1641.8,1212.5 1642.8,1212.5C1643.8,1212.6 1644.8,1212.6 1645.8,1212.6C1646.8,1212.7 1647.8,1212.7 1648.8,1212.7C1649.8,1212.7 1650.8,1212.8 1651.8,1212.8C1652.8,1212.8 1653.8,1212.9 1654.8,1212.9C1655.8,1212.9 1656.8,1212.9 1657.8,1213.0C1658.8,1213.0 1659.8,1213.0 1660.8,1213.0C1661.8,1213.1 1662.8,1213.1 1663.8,1213.1C1664.8,1213.1 1665.8,1213.2 1666.8,1213.2C1667.8,1213.2 1668.8,1213.2 1669.8,1213.3C1670.8,1213.3 1671.8,1213.3 1672.8,1213.3C1673.8,1213.4 1674.8,1213.4 1675.8,1213.4C1676.8,1213.4 1677.8,1213.5 1678.8,1213.5C1679.8,1213.5 1680.8,1213.5 1681.8,1213.6C1682.8,1213.6 1683.8,1213.6 1684.8,1213.6C1685.8,1213.6 1686.8,1213.7 1687.8,1213.7C1688.8,1213.7 1689.8,1213.7 1690.8,1213.7C1691.8,1213.8 1692.8,1213.8 1693.8,1213.8C1694.8,1213.8 1695.8,1213.9 1696.8,1213.9C1697.8,1213.9 1698.8,1213.9 1699.8,1213.9C1700.8,1214.0 1701.8,1214.0 1702.8,1214.0C1703.9,1214.0 1704.9,1214.0 1705.9,1214.0C1706.9,1214.1 1707.9,1214.1 1708.9,1214.1C1709.9,1214.1 1710.9,1214.1 1711.9,1214.2C1712.9,1214.2 1713.9,1214.2 1714.9,1214.2C1715.9,1214.2 1716.9,1214.2 1717.9,1214.3C1718.9,1214.3 1719.9,1214.3 1720.9,1214.3C1721.9,1214.3 1722.9,1214.3 1723.9,1214.4C1724.9,1214.4 1725.9,1214.4 1726.9,1214.4C1727.9,1214.4 1728.9,1214.4 1729.9,1214.5C1730.9,1214.5 1731.9,1214.5 1732.9,1214.5C1733.9,1214.5 1734.9,1214.5 1735.9,1214.5C1736.9,1214.6 1737.9,1214.6 1738.9,1214.6C1739.9,1214.6 1740.9,1214.6 1741.9,1214.6C1742.9,1214.6 1743.9,1214.7 1744.9,1214.7C1745.9,1214.7 1746.9,1214.7 1747.9,1214.7C1748.9,1214.7 1749.9,1214.7 1750.9,1214.7C1751.9,1214.8 1752.9,1214.8 1753.9,1214.8C1754.9,1214.8 1755.9,1214.8 1756.9,1214.8C1757.9,1214.8 1758.9,1214.8 1759.9,1214.9C1760.9,1214.9 1761.9,1214.9 1762.9,1214.9C1763.9,1214.9 1764.9,1214.9 1765.9,1214.9C1766.9,1214.9 1767.9,1214.9 1768.9,1215.0C1769.9,1215.0 1770.9,1215.0 1772.0,1215.0C1773.0,1215.0 1774.0,1215.0 1775.0,1215.0C1776.0,1215.0 1777.0,1215.0 1778.0,1215.0C1779.0,1215.1 1780.0,1215.1 1781.0,1215.1C1782.0,1215.1 1783.0,1215.1 1784.0,1215.1C1785.0,1215.1 1786.0,1215.1 1787.0,1215.1C1788.0,1215.1 1789.0,1215.1 1790.0,1215.1C1791.0,1215.2 1792.0,1215.2 1793.0,1215.2C1794.0,1215.2 1795.0,1215.2 1796.0,1215.2C1797.0,1215.2 1798.0,1215.2 1799.0,1215.2C1800.0,1215.2 1801.0,1215.2 1802.0,1215.2C1803.0,1215.2 1804.0,1215.2 1805.0,1215.3C1806.0,1215.3 1807.0,1215.3 1808.0,1215.3C1809.0,1215.3 1810.0,1215.3 1811.0,1215.3C1812.0,1215.3 1813.0,1215.3 1814.0,1215.3C1815.0,1215.3 1816.0,1215.3 1817.0,1215.3C1818.0,1215.3 1819.0,1215.3 1820.0,1215.3C1821.0,1215.3 1822.0,1215.3 1823.0,1215.4C1824.0,1215.4 1825.0,1215.4 1826.0,1215.4C1827.0,1215.4 1828.0,1215.4 1829.0,1215.4C1830.0,1215.4 1831.0,1215.4 1832.0,1215.4C1833.0,1215.4 1834.0,1215.4 1835.0,1215.4C1836.0,1215.4 1837.0,1215.4 1838.0,1215.4C1839.0,1215.4 1840.0,1215.4 1841.1,1215.4C1842.1,1215.4 1843.1,1215.4 1844.1,1215.4C1845.1,1215.4 1846.1,1215.4 1847.1,1215.4C1848.1,1215.4 1849.1,1215.4 1850.1,1215.4C1851.1,1215.5 1852.1,1215.5 1853.1,1215.5C1854.1,1215.5 1855.1,1215.5 1856.1,1215.5C1857.1,1215.5 1858.1,1215.5 1859.1,1215.5C1860.1,1215.5 1861.1,1215.5 1862.1,1215.5C1863.1,1215.5 1864.1,1215.5 1865.1,1215.5C1866.1,1215.5 1867.1,1215.5 1868.1,1215.5C1869.1,1215.5 1870.1,1215.5 1871.1,1215.5C1872.1,1215.5 1873.1,1215.5 1874.1,1215.5C1875.1,1215.5 1876.1,1215.5 1877.1,1215.5C1878.1,1215.5 1879.1,1215.5 1880.1,1215.5C1881.1,1215.5 1882.1,1215.5 1883.1,1215.5C1884.1,1215.5 1885.1,1215.5 1886.1,1215.5C1887.1,1215.5 1888.1,1215.5 1889.1,1215.5C1890.1,1215.5 1891.1,1215.5 1892.1,1215.5C1893.1,1215.5 1894.1,1215.5 1895.1,1215.5C1896.1,1215.5 1897.1,1215.5 1898.1,1215.5C1899.1,1215.5 1900.1,1215.5 1901.1,1215.5C1902.1,1215.5 1903.1,1215.5 1904.1,1215.5C1905.1,1215.5 1906.1,1215.5 1907.1,1215.5C1908.1,1215.5 1909.2,1215.5 1910.2,1215.5C1911.2,1215.5 1912.2,1215.5 1913.2,1215.5C1914.2,1215.5 1915.2,1215.5 1916.2,1215.5C1917.2,1215.5 1918.2,1215.5 1919.2,1215.5C1920.2,1215.5 1921.2,1215.5 1922.2,1215.5C1923.2,1215.5 1924.2,1215.5 1925.2,1215.5C1926.2,1215.5 1927.2,1215.5 1928.2,1215.5C1929.2,1215.5 1930.2,1215.5 1931.2,1215.5C1932.2,1215.5 1933.2,1215.5 1934.2,1215.5C1935.2,1215.5 1936.2,1215.5 1937.2,1215.5C1938.2,1215.5 1939.2,1215.5 1940.2,1215.5C1941.2,1215.4 1942.2,1215.4 1943.2,1215.4C1944.2,1215.4 1945.2,1215.4 1946.2,1215.4C1947.2,1215.4 1948.2,1215.4 1949.2,1215.4C1950.2,1215.4 1951.2,1215.4 1952.2,1215.4C1953.2,1215.4 1954.2,1215.4 1955.2,1215.4C1956.2,1215.4 1957.2,1215.4 1958.2,1215.4C1959.2,1215.4 1960.2,1215.4 1961.2,1215.4C1962.2,1215.4 1963.2,1215.4 1964.2,1215.4C1965.2,1215.4 1966.2,1215.4 1967.2,1215.4C1968.2,1215.4 1969.2,1215.4 1970.2,1215.4C1971.2,1215.4 1972.2,1215.4 1973.2,1215.4C1974.3,1215.4 1975.3,1215.4 1976.3,1215.4C1977.3,1215.4 1978.3,1215.4 1979.3,1215.4C1980.3,1215.4 1981.3,1215.4 1982.3,1215.4C1983.3,1215.4 1984.3,1215.4 1985.3,1215.4C1986.3,1215.4 1987.3,1215.4 1988.3,1215.4C1989.3,1215.3 1990.3,1215.3 1991.3,1215.3C1992.3,1215.3 1993.3,1215.3 1994.3,1215.3C1995.3,1215.3 1996.3,1215.3 1997.3,1215.3C1998.3,1215.3 1999.3,1215.3 2000.3,1215.3C2001.3,1215.3 2002.3,1215.3 2003.3,1215.3C2004.3,1215.3 2005.3,1215.3 2006.3,1215.3C2007.3,1215.3 2008.3,1215.3 2009.3,1215.3C2010.3,1215.3 2011.3,1215.3 2012.3,1215.3C2013.3,1215.3 2014.3,1215.3 2015.3,1215.3C2016.3,1215.3 2017.3,1215.3 2018.3,1215.3C2019.3,1215.3 2020.3,1215.3 2021.3,1215.3C2022.3,1215.3 2023.3,1215.3 2024.3,1215.3C2025.3,1215.3 2026.3,1215.3 2027.3,1215.3C2028.3,1215.3 2029.3,1215.3 2030.3,1215.3C2031.3,1215.3 2032.3,1215.3 2033.3,1215.3C2034.3,1215.3 2035.4,1215.3 2036.4,1215.3C2037.4,1215.3 2038.4,1215.3 2039.4,1215.3C2040.4,1215.3 2041.4,1215.3 2042.4,1215.3C2043.4,1215.2 2044.4,1215.2 2045.4,1215.2C2046.4,1215.2 2047.4,1215.2 2048.4,1215.2C2049.4,1215.2 2050.4,1215.2 2051.4,1215.2C2052.4,1215.2 2053.4,1215.2 2054.4,1215.2C2055.4,1215.2 2056.4,1215.2 2057.4,1215.2C2058.4,1215.2 2059.4,1215.2 2060.4,1215.2C2061.4,1215.2 2062.4,1215.2 2063.4,1215.2C2064.4,1215.2 2065.4,1215.2 2066.4,1215.2C2067.4,1215.2 2068.4,1215.2 2069.4,1215.2C2070.4,1215.2 2071.4,1215.2 2072.4,1215.2C2073.4,1215.2 2074.4,1215.2 2075.4,1215.2C2076.4,1215.2 2077.4,1215.2 2078.4,1215.2C2079.4,1215.2 2080.4,1215.2 2081.4,1215.2C2082.4,1215.2 2083.4,1215.2 2084.4,1215.2C2085.4,1215.2 2086.4,1215.2 2087.4,1215.2C2088.4,1215.2 2089.4,1215.2 2090.5,1215.2C2091.5,1215.2 2092.5,1215.2 2093.5,1215.2C2094.5,1215.2 2095.5,1215.3 2096.5,1215.3C2097.5,1215.3 2098.5,1215.3 2099.5,1215.3C2100.5,1215.3 2101.5,1215.3 2102.5,1215.3C2103.5,1215.3 2104.5,1215.3 2105.5,1215.3C2106.5,1215.3 2107.5,1215.3 2108.5,1215.3C2109.5,1215.3 2110.5,1215.3 2111.5,1215.3C2112.5,1215.3 2113.5,1215.3 2114.5,1215.3C2115.5,1215.3 2116.5,1215.3 2117.5,1215.3C2118.5,1215.3 2119.5,1215.3 2120.5,1215.3C2121.5,1215.3 2122.5,1215.3 2123.5,1215.3C2124.5,1215.3 2125.5,1215.3 2126.5,1215.3C2127.5,1215.3 2128.5,1215.3 2129.5,1215.3C2130.5,1215.3 2131.5,1215.3 2132.5,1215.4C2133.5,1215.4 2134.5,1215.4 2135.5,1215.4C2136.5,1215.4 2137.5,1215.4 2138.5,1215.4C2139.5,1215.4 2140.5,1215.4 2141.6,1215.4C2142.6,1215.4 2143.6,1215.4 2144.6,1215.4C2145.6,1215.4 2146.6,1215.4 2147.6,1215.4C2148.6,1215.4 2149.6,1215.4 2150.6,1215.4C2151.6,1215.4 2152.6,1215.5 2153.6,1215.5C2154.6,1215.5 2155.6,1215.5 2156.6,1215.5C2157.6,1215.5 2158.6,1215.5 2159.6,1215.5C2160.6,1215.5 2161.6,1215.5 2162.6,1215.5C2163.6,1215.5 2164.6,1215.5 2165.6,1215.5C2166.6,1215.5 2167.6,1215.6 2168.6,1215.6C2169.6,1215.6 2170.6,1215.6 2171.6,1215.6C2172.6,1215.6 2173.6,1215.6 2174.6,1215.6C2175.6,1215.6 2176.6,1215.6 2177.6,1215.6C2178.6,1215.6 2179.6,1215.6 2180.6,1215.7C2181.6,1215.7 2182.6,1215.7 2183.6,1215.7C2184.6,1215.7 2185.6,1215.7 2186.6,1215.7C2187.6,1215.7 2188.7,1215.7 2189.7,1215.7C2190.7,1215.7 2191.7,1215.8 2192.7,1215.8C2193.7,1215.8 2194.7,1215.8 2195.7,1215.8C2196.7,1215.8 2197.7,1215.8 2198.7,1215.8C2199.7,1215.8 2200.7,1215.9 2201.7,1215.9C2202.7,1215.9 2203.7,1215.9 2204.7,1215.9C2205.7,1215.9 2206.7,1215.9 2207.7,1215.9C2208.7,1215.9 2209.7,1216.0 2210.7,1216.0C2211.7,1216.0 2212.7,1216.0 2213.7,1216.0C2214.7,1216.0 2215.7,1216.0 2216.7,1216.0C2217.7,1216.1 2218.7,1216.1 2219.7,1216.1C2220.7,1216.1 2221.7,1216.1 2222.7,1216.1C2223.7,1216.1 2224.7,1216.2 2225.7,1216.2C2226.7,1216.2 2227.7,1216.2 2228.7,1216.2C2229.7,1216.2 2231.2,1216.3 2231.8,1216.3" stroke="#000080" stroke-width="9.5"/>
<path class="c" d="M681.5,1040.0C682.0,1039.9 683.5,1039.8 684.5,1039.7C685.6,1039.6 686.6,1039.5 687.6,1039.4C688.6,1039.3 689.6,1039.3 690.6,1039.2C691.6,1039.2 692.6,1039.1 693.6,1039.1C694.6,1039.1 695.6,1039.1 696.6,1039.1C697.7,1039.1 698.7,1039.1 699.7,1039.1C700.7,1039.1 701.7,1039.1 702.7,1039.2C703.7,1039.2 704.7,1039.3 705.7,1039.4C706.6,1039.4 707.6,1039.5 708.6,1039.6C709.6,1039.7 710.6,1039.8 711.6,1039.9C712.6,1040.1 713.6,1040.2 714.6,1040.3C715.6,1040.5 716.5,1040.6 717.5,1040.8C718.5,1040.9 719.5,1041.1 720.5,1041.3C721.5,1041.5 722.4,1041.7 723.4,1041.9C724.4,1042.1 725.4,1042.3 726.3,1042.5C727.3,1042.8 728.3,1043.0 729.2,1043.3C730.2,1043.5 731.2,1043.8 732.1,1044.0C733.1,1044.3 734.1,1044.6 735.0,1044.9C736.0,1045.2 736.9,1045.5 737.9,1045.8C738.8,1046.1 739.8,1046.4 740.7,1046.8C741.7,1047.1 742.6,1047.4 743.6,1047.8C744.5,1048.1 745.5,1048.5 746.4,1048.9C747.4,1049.3 748.3,1049.6 749.2,1050.0C750.2,1050.4 751.1,1050.8 752.0,1051.2C752.9,1051.7 753.9,1052.1 754.8,1052.5C755.7,1052.9 756.6,1053.4 757.5,1053.9C758.4,1054.3 759.3,1054.8 760.2,1055.3C761.1,1055.7 762.0,1056.2 762.9,1056.7C763.7,1057.2 764.6,1057.8 765.4,1058.3C766.3,1058.8 767.1,1059.4 768.0,1059.9C768.8,1060.5 769.6,1061.1 770.4,1061.7C771.2,1062.2 772.0,1062.8 772.8,1063.5C773.6,1064.1 774.4,1064.7 775.1,1065.4C775.9,1066.0 776.6,1066.7 777.4,1067.3C778.1,1068.0 778.8,1068.7 779.5,1069.4C780.2,1070.1 780.8,1070.9 781.5,1071.6C782.2,1072.3 782.8,1073.1 783.4,1073.9C784.1,1074.6 784.7,1075.4 785.3,1076.2C785.9,1077.0 786.5,1077.8 787.0,1078.6C787.6,1079.5 788.2,1080.3 788.7,1081.1C789.3,1082.0 789.8,1082.8 790.3,1083.7C790.9,1084.5 791.4,1085.4 791.9,1086.3C792.4,1087.2 792.9,1088.0 793.3,1088.9C793.8,1089.8 794.3,1090.7 794.8,1091.6C795.2,1092.5 795.7,1093.4 796.1,1094.4C796.6,1095.3 797.0,1096.2 797.4,1097.1C797.9,1098.0 798.3,1099.0 798.7,1099.9C799.1,1100.8 799.5,1101.7 799.9,1102.7C800.3,1103.6 800.7,1104.5 801.1,1105.5C801.5,1106.4 801.9,1107.3 802.2,1108.2C802.6,1109.2 803.0,1110.1 803.4,1111.0C803.8,1112.0 804.1,1112.9 804.5,1113.8C804.9,1114.7 805.3,1115.6 805.7,1116.6C806.1,1117.5 806.5,1118.4 806.9,1119.3C807.3,1120.2 807.7,1121.1 808.2,1122.0C808.6,1122.9 809.1,1123.8 809.6,1124.6C810.0,1125.5 810.5,1126.4 811.0,1127.2C811.5,1128.1 812.1,1129.0 812.6,1129.8C813.2,1130.7 813.8,1131.5 814.4,1132.3C815.0,1133.2 815.6,1134.0 816.3,1134.8C817.0,1135.6 817.7,1136.4 818.4,1137.1C819.1,1137.7 819.9,1138.2 820.7,1138.4C821.6,1138.6 822.5,1138.5 823.4,1138.2C824.3,1137.9 825.2,1137.3 826.1,1136.8C827.0,1136.2 827.9,1135.5 828.8,1134.9C829.7,1134.3 830.5,1133.7 831.4,1133.1C832.2,1132.5 833.0,1131.9 833.9,1131.4C834.7,1130.8 835.5,1130.3 836.4,1129.8C837.3,1129.3 838.1,1128.8 839.0,1128.3C839.8,1127.8 840.7,1127.3 841.5,1126.8C842.3,1126.2 843.0,1125.6 843.8,1124.9C844.5,1124.3 845.2,1123.6 845.9,1122.9C846.6,1122.1 847.3,1121.4 847.9,1120.6C848.6,1119.8 849.2,1119.0 849.8,1118.2C850.4,1117.4 851.1,1116.6 851.7,1115.8C852.3,1115.0 852.9,1114.2 853.5,1113.4C854.1,1112.6 854.8,1111.8 855.4,1111.0C856.0,1110.2 856.6,1109.4 857.2,1108.6C857.8,1107.7 858.4,1106.9 858.9,1106.1C859.5,1105.3 860.1,1104.5 860.7,1103.7C861.3,1102.9 861.9,1102.1 862.5,1101.3C863.1,1100.5 863.7,1099.7 864.2,1098.8C864.8,1098.0 865.4,1097.2 866.0,1096.4C866.6,1095.6 867.2,1094.8 867.7,1094.0C868.3,1093.2 868.9,1092.4 869.5,1091.5C870.1,1090.7 870.7,1089.9 871.2,1089.1C871.8,1088.3 872.4,1087.5 873.0,1086.7C873.6,1085.9 874.2,1085.1 874.8,1084.3C875.4,1083.4 876.0,1082.6 876.6,1081.8C877.1,1081.0 877.7,1080.2 878.3,1079.4C878.9,1078.6 879.5,1077.8 880.1,1077.0C880.7,1076.2 881.3,1075.4 881.9,1074.6C882.5,1073.8 883.1,1072.9 883.7,1072.1C884.3,1071.3 884.9,1070.5 885.5,1069.7C886.1,1068.9 886.7,1068.1 887.3,1067.3C887.9,1066.5 888.5,1065.7 889.1,1064.9C889.7,1064.0 890.2,1063.2 890.8,1062.4C891.4,1061.6 892.0,1060.8 892.6,1060.0C893.2,1059.2 893.8,1058.4 894.4,1057.5C895.0,1056.7 895.5,1055.9 896.1,1055.1C896.7,1054.3 897.3,1053.5 897.9,1052.6C898.4,1051.8 899.0,1051.0 899.6,1050.2C900.2,1049.4 900.7,1048.5 901.3,1047.7C901.9,1046.9 902.4,1046.1 903.0,1045.2C903.5,1044.4 904.1,1043.6 904.6,1042.7C905.1,1041.9 905.7,1041.0 906.2,1040.2C906.7,1039.3 907.2,1038.4 907.6,1037.5C908.1,1036.7 908.6,1035.8 909.0,1034.8C909.5,1033.9 909.9,1033.0 910.3,1032.1C910.8,1031.2 911.2,1030.3 911.7,1029.4C912.1,1028.5 912.6,1027.6 913.1,1026.8C913.6,1025.9 914.1,1025.0 914.7,1024.2C915.2,1023.4 915.8,1022.5 916.4,1021.8C917.1,1021.0 917.7,1020.2 918.4,1019.5C919.1,1018.8 919.8,1018.1 920.6,1017.4C921.3,1016.8 922.1,1016.1 923.0,1015.6C923.8,1015.0 924.6,1014.4 925.5,1013.9C926.3,1013.3 927.2,1012.8 928.0,1012.3C928.9,1011.8 929.8,1011.3 930.7,1010.7C931.5,1010.2 932.4,1009.7 933.2,1009.1C934.1,1008.6 934.9,1008.0 935.7,1007.4C936.5,1006.8 937.3,1006.2 938.0,1005.6C938.8,1004.9 939.5,1004.2 940.2,1003.5C940.9,1002.8 941.6,1002.1 942.2,1001.3C942.9,1000.5 943.5,999.8 944.1,998.9C944.7,998.1 945.3,997.3 945.8,996.5C946.4,995.6 946.9,994.8 947.4,993.9C947.9,993.0 948.4,992.1 948.8,991.3C949.3,990.4 949.8,989.5 950.2,988.6C950.6,987.7 951.0,986.7 951.4,985.8C951.8,984.9 952.2,984.0 952.6,983.1C953.0,982.1 953.4,981.2 953.8,980.3C954.2,979.4 954.6,978.4 955.0,977.5C955.4,976.6 955.8,975.7 956.2,974.8C956.6,973.8 957.0,972.9 957.4,972.0C957.9,971.1 958.3,970.2 958.7,969.3C959.1,968.4 959.6,967.5 960.0,966.6C960.4,965.7 960.8,964.7 961.3,963.8C961.7,962.9 962.1,962.0 962.5,961.1C962.9,960.2 963.4,959.3 963.8,958.4C964.2,957.5 964.6,956.5 965.0,955.6C965.4,954.7 965.8,953.8 966.2,952.9C966.6,952.0 967.0,951.0 967.4,950.1C967.8,949.2 968.2,948.3 968.6,947.3C968.9,946.4 969.3,945.5 969.7,944.6C970.1,943.6 970.5,942.7 970.8,941.8C971.2,940.9 971.6,939.9 972.0,939.0C972.3,938.1 972.7,937.1 973.1,936.2C973.5,935.3 973.8,934.3 974.2,933.4C974.5,932.5 974.9,931.5 975.3,930.6C975.6,929.7 976.0,928.7 976.3,927.8C976.7,926.8 977.1,925.9 977.4,925.0C977.8,924.0 978.1,923.1 978.5,922.2C978.8,921.2 979.2,920.3 979.5,919.3C979.9,918.4 980.2,917.4 980.6,916.5C980.9,915.6 981.3,914.6 981.6,913.7C981.9,912.7 982.3,911.8 982.6,910.8C983.0,909.9 983.3,909.0 983.7,908.0C984.0,907.1 984.3,906.1 984.7,905.2C985.0,904.2 985.3,903.3 985.7,902.3C986.0,901.4 986.3,900.4 986.6,899.5C987.0,898.5 987.3,897.6 987.6,896.6C987.9,895.7 988.2,894.7 988.5,893.8C988.8,892.8 989.1,891.9 989.4,890.9C989.6,889.9 989.9,889.0 990.2,888.0C990.5,887.0 990.7,886.1 991.0,885.1C991.2,884.1 991.5,883.2 991.7,882.2C991.9,881.2 992.2,880.2 992.4,879.3C992.6,878.3 992.9,877.3 993.1,876.3C993.3,875.4 993.5,874.4 993.8,873.4C994.0,872.4 994.2,871.5 994.4,870.5C994.6,869.5 994.8,868.5 995.1,867.5C995.3,866.6 995.5,865.6 995.7,864.6C995.9,863.6 996.2,862.6 996.4,861.7C996.6,860.7 996.8,859.7 997.0,858.7C997.3,857.7 997.5,856.8 997.7,855.8C997.9,854.8 998.2,853.8 998.4,852.8C998.6,851.9 998.8,850.9 999.1,849.9C999.3,848.9 999.5,848.0 999.7,847.0C1000.0,846.0 1000.2,845.0 1000.4,844.1C1000.7,843.1 1000.9,842.1 1001.1,841.1C1001.4,840.1 1001.6,839.2 1001.8,838.2C1002.1,837.2 1002.3,836.2 1002.5,835.3C1002.8,834.3 1003.0,833.3 1003.2,832.3C1003.5,831.4 1003.7,830.4 1003.9,829.4C1004.2,828.4 1004.4,827.5 1004.6,826.5C1004.9,825.5 1005.1,824.6 1005.4,823.6C1005.6,822.6 1005.8,821.6 1006.1,820.7C1006.3,819.7 1006.6,818.7 1006.8,817.8C1007.1,816.8 1007.3,815.8 1007.5,814.8C1007.8,813.9 1008.0,812.9 1008.3,811.9C1008.5,811.0 1008.8,810.0 1009.0,809.0C1009.3,808.1 1009.5,807.1 1009.8,806.1C1010.0,805.1 1010.3,804.2 1010.5,803.2C1010.8,802.2 1011.0,801.3 1011.3,800.3C1011.5,799.3 1011.8,798.4 1012.0,797.4C1012.3,796.4 1012.5,795.4 1012.8,794.5C1013.1,793.5 1013.3,792.5 1013.6,791.6C1013.8,790.6 1014.1,789.6 1014.4,788.6C1014.6,787.7 1014.9,786.7 1015.2,785.7C1015.4,784.8 1015.7,783.8 1016.0,782.8C1016.2,781.8 1016.5,780.9 1016.8,779.9C1017.1,778.9 1017.4,778.0 1017.7,777.0C1018.0,776.1 1018.3,775.1 1018.7,774.2C1019.0,773.2 1019.4,772.3 1019.8,771.4C1020.1,770.5 1020.5,769.5 1021.0,768.6C1021.4,767.7 1021.8,766.8 1022.3,766.0C1022.8,765.1 1023.3,764.2 1023.8,763.4C1024.4,762.5 1025.0,761.7 1025.6,760.9C1026.2,760.1 1026.8,759.3 1027.5,758.6C1028.3,757.9 1029.1,757.2 1029.9,756.8C1030.8,756.3 1031.8,756.0 1032.8,755.8C1033.8,755.6 1034.9,755.6 1035.8,755.8C1036.8,755.9 1037.8,756.3 1038.7,756.7C1039.6,757.2 1040.4,757.8 1041.2,758.5C1041.9,759.1 1042.5,759.9 1043.1,760.7C1043.7,761.6 1044.3,762.5 1044.8,763.3C1045.3,764.2 1045.8,765.1 1046.3,766.0C1046.7,766.9 1047.2,767.8 1047.6,768.7C1048.1,769.6 1048.5,770.5 1048.9,771.4C1049.4,772.3 1049.8,773.2 1050.2,774.1C1050.6,775.0 1051.0,775.9 1051.4,776.8C1051.8,777.8 1052.2,778.7 1052.6,779.6C1053.0,780.5 1053.4,781.4 1053.8,782.3C1054.2,783.3 1054.6,784.2 1055.0,785.1C1055.4,786.0 1055.8,786.9 1056.2,787.9C1056.6,788.8 1057.0,789.7 1057.4,790.6C1057.8,791.5 1058.3,792.5 1058.7,793.4C1059.1,794.3 1059.5,795.2 1059.9,796.1C1060.4,797.0 1060.8,797.9 1061.2,798.8C1061.7,799.7 1062.1,800.6 1062.6,801.5C1063.0,802.4 1063.5,803.3 1063.9,804.2C1064.4,805.1 1064.9,806.0 1065.3,806.9C1065.8,807.8 1066.3,808.6 1066.8,809.5C1067.2,810.4 1067.7,811.3 1068.2,812.2C1068.7,813.0 1069.2,813.9 1069.7,814.8C1070.2,815.6 1070.7,816.5 1071.2,817.4C1071.7,818.2 1072.2,819.1 1072.7,819.9C1073.2,820.8 1073.8,821.6 1074.3,822.5C1074.9,823.3 1075.5,824.1 1076.1,824.8C1076.8,825.6 1077.5,826.4 1078.2,827.1C1078.9,827.8 1079.7,828.5 1080.5,829.1C1081.4,829.7 1082.2,830.3 1083.1,830.8C1084.0,831.4 1084.9,831.8 1085.9,832.2C1086.8,832.6 1087.8,832.9 1088.7,833.2C1089.7,833.4 1090.7,833.6 1091.6,833.6C1092.6,833.7 1093.6,833.6 1094.5,833.5C1095.5,833.4 1096.4,833.2 1097.4,832.9C1098.3,832.6 1099.3,832.3 1100.2,831.9C1101.1,831.5 1102.0,831.0 1103.0,830.6C1103.9,830.1 1104.8,829.6 1105.7,829.1C1106.6,828.6 1107.5,828.0 1108.3,827.5C1109.2,826.9 1110.1,826.4 1110.9,825.9C1111.8,825.3 1112.6,824.8 1113.5,824.2C1114.3,823.7 1115.1,823.1 1116.0,822.5C1116.8,822.0 1117.6,821.4 1118.4,820.8C1119.2,820.2 1120.0,819.6 1120.8,819.0C1121.6,818.4 1122.3,817.8 1123.1,817.2C1123.9,816.6 1124.6,815.9 1125.4,815.3C1126.2,814.6 1126.9,814.0 1127.6,813.3C1128.4,812.6 1129.1,812.0 1129.8,811.3C1130.6,810.6 1131.3,809.9 1132.0,809.2C1132.7,808.5 1133.4,807.8 1134.1,807.0C1134.8,806.3 1135.5,805.6 1136.2,804.9C1136.9,804.1 1137.6,803.4 1138.3,802.7C1139.0,801.9 1139.7,801.2 1140.3,800.4C1141.0,799.7 1141.7,798.9 1142.3,798.2C1143.0,797.4 1143.7,796.7 1144.3,795.9C1145.0,795.2 1145.7,794.4 1146.3,793.6C1147.0,792.9 1147.6,792.1 1148.3,791.4C1148.9,790.6 1149.6,789.9 1150.2,789.1C1150.9,788.3 1151.5,787.6 1152.2,786.8C1152.8,786.0 1153.5,785.3 1154.1,784.5C1154.8,783.7 1155.4,783.0 1156.0,782.2C1156.7,781.4 1157.3,780.7 1157.9,779.9C1158.6,779.1 1159.2,778.3 1159.8,777.6C1160.5,776.8 1161.1,776.0 1161.7,775.2C1162.4,774.4 1163.0,773.7 1163.6,772.9C1164.2,772.1 1164.9,771.3 1165.5,770.5C1166.1,769.7 1166.8,769.0 1167.4,768.2C1168.0,767.4 1168.6,766.6 1169.3,765.8C1169.9,765.1 1170.5,764.3 1171.2,763.5C1171.8,762.7 1172.4,761.9 1173.1,761.2C1173.7,760.4 1174.3,759.6 1175.0,758.8C1175.6,758.1 1176.3,757.3 1176.9,756.5C1177.6,755.8 1178.2,755.0 1178.9,754.2C1179.5,753.5 1180.2,752.7 1180.8,752.0C1181.5,751.2 1182.1,750.4 1182.8,749.7C1183.5,748.9 1184.1,748.2 1184.8,747.5C1185.5,746.7 1186.1,746.0 1186.8,745.2C1187.5,744.5 1188.2,743.8 1188.9,743.0C1189.6,742.3 1190.3,741.6 1191.0,740.8C1191.6,740.1 1192.3,739.4 1193.0,738.7C1193.7,737.9 1194.4,737.2 1195.1,736.5C1195.8,735.7 1196.4,735.0 1197.1,734.2C1197.7,733.4 1198.4,732.7 1199.0,731.9C1199.6,731.1 1200.2,730.3 1200.8,729.5C1201.3,728.7 1201.9,727.8 1202.5,727.0C1203.1,726.2 1203.6,725.4 1204.2,724.5C1204.7,723.7 1205.3,722.9 1205.9,722.1C1206.4,721.2 1207.0,720.4 1207.6,719.6C1208.2,718.8 1208.8,718.0 1209.4,717.2C1210.0,716.4 1210.6,715.6 1211.3,714.8C1211.9,714.1 1212.6,713.3 1213.3,712.6C1213.9,711.8 1214.6,711.1 1215.4,710.4C1216.1,709.7 1216.8,709.0 1217.5,708.3C1218.3,707.6 1219.0,706.9 1219.8,706.3C1220.5,705.6 1221.3,705.0 1222.1,704.3C1222.9,703.7 1223.7,703.1 1224.5,702.5C1225.3,701.9 1226.1,701.3 1227.0,700.7C1227.8,700.1 1228.6,699.6 1229.5,699.0C1230.3,698.5 1231.2,698.0 1232.0,697.5C1232.9,697.0 1233.8,696.5 1234.6,696.0C1235.5,695.5 1236.4,695.0 1237.3,694.6C1238.2,694.2 1239.1,693.7 1240.0,693.4C1240.9,693.0 1241.8,692.6 1242.8,692.2C1243.7,691.9 1244.6,691.5 1245.6,691.2C1246.5,690.9 1247.5,690.6 1248.5,690.4C1249.4,690.1 1250.4,689.9 1251.4,689.7C1252.4,689.5 1253.3,689.3 1254.3,689.1C1255.3,689.0 1256.3,688.8 1257.4,688.7C1258.4,688.6 1259.4,688.6 1260.4,688.5C1261.4,688.5 1262.4,688.4 1263.4,688.4C1264.4,688.4 1265.4,688.5 1266.5,688.5C1267.5,688.6 1268.5,688.6 1269.5,688.7C1270.5,688.8 1271.5,688.9 1272.5,689.1C1273.4,689.2 1274.4,689.4 1275.4,689.6C1276.4,689.8 1277.4,690.0 1278.3,690.3C1279.3,690.5 1280.3,690.8 1281.2,691.0C1282.2,691.3 1283.2,691.6 1284.1,691.9C1285.0,692.3 1286.0,692.6 1286.9,693.0C1287.8,693.3 1288.8,693.7 1289.7,694.1C1290.6,694.5 1291.5,694.9 1292.4,695.4C1293.3,695.8 1294.2,696.3 1295.1,696.7C1296.0,697.2 1296.8,697.7 1297.7,698.2C1298.6,698.7 1299.4,699.3 1300.3,699.8C1301.1,700.3 1301.9,700.9 1302.8,701.4C1303.6,702.0 1304.4,702.6 1305.2,703.2C1306.0,703.8 1306.8,704.4 1307.6,705.0C1308.4,705.6 1309.2,706.2 1310.0,706.9C1310.8,707.5 1311.6,708.1 1312.4,708.8C1313.1,709.4 1313.9,710.1 1314.7,710.7C1315.4,711.4 1316.2,712.0 1316.9,712.7C1317.7,713.4 1318.5,714.0 1319.2,714.7C1320.0,715.4 1320.7,716.1 1321.4,716.7C1322.2,717.4 1322.9,718.1 1323.6,718.8C1324.4,719.5 1325.1,720.2 1325.8,720.9C1326.5,721.6 1327.2,722.3 1327.9,723.0C1328.6,723.7 1329.3,724.4 1330.0,725.1C1330.7,725.9 1331.4,726.6 1332.1,727.3C1332.7,728.1 1333.4,728.8 1334.1,729.6C1334.7,730.3 1335.4,731.1 1336.0,731.8C1336.6,732.6 1337.3,733.4 1337.9,734.2C1338.5,735.0 1339.1,735.8 1339.7,736.6C1340.3,737.4 1340.9,738.2 1341.5,739.0C1342.1,739.8 1342.7,740.6 1343.2,741.5C1343.8,742.3 1344.4,743.1 1345.0,743.9C1345.6,744.8 1346.1,745.6 1346.7,746.4C1347.3,747.2 1347.9,748.0 1348.5,748.9C1349.1,749.7 1349.7,750.5 1350.2,751.3C1350.8,752.1 1351.4,752.9 1352.0,753.7C1352.6,754.5 1353.2,755.3 1353.8,756.2C1354.4,757.0 1355.0,757.8 1355.6,758.6C1356.1,759.4 1356.7,760.2 1357.3,761.0C1357.9,761.8 1358.5,762.7 1359.0,763.5C1359.6,764.3 1360.2,765.1 1360.7,766.0C1361.3,766.8 1361.8,767.6 1362.4,768.5C1363.0,769.3 1363.5,770.1 1364.1,771.0C1364.6,771.8 1365.2,772.6 1365.7,773.5C1366.3,774.3 1366.8,775.1 1367.4,776.0C1367.9,776.8 1368.5,777.7 1369.0,778.5C1369.6,779.3 1370.1,780.2 1370.7,781.0C1371.2,781.9 1371.8,782.7 1372.3,783.5C1372.9,784.4 1373.4,785.2 1374.0,786.1C1374.5,786.9 1375.1,787.7 1375.6,788.6C1376.2,789.4 1376.8,790.2 1377.3,791.1C1377.9,791.9 1378.5,792.7 1379.0,793.5C1379.6,794.4 1380.2,795.2 1380.8,796.0C1381.3,796.8 1381.9,797.7 1382.5,798.5C1383.0,799.3 1383.6,800.1 1384.2,801.0C1384.7,801.8 1385.3,802.6 1385.8,803.5C1386.3,804.3 1386.9,805.2 1387.4,806.0C1387.9,806.9 1388.4,807.8 1388.9,808.6C1389.4,809.5 1389.9,810.4 1390.4,811.3C1390.8,812.1 1391.3,813.0 1391.8,813.9C1392.2,814.8 1392.7,815.7 1393.1,816.6C1393.6,817.5 1394.0,818.4 1394.5,819.3C1394.9,820.2 1395.3,821.1 1395.8,822.0C1396.2,822.9 1396.6,823.8 1397.1,824.7C1397.5,825.6 1398.0,826.5 1398.4,827.4C1398.8,828.3 1399.3,829.2 1399.7,830.1C1400.2,831.0 1400.6,831.9 1401.1,832.8C1401.6,833.7 1402.0,834.6 1402.5,835.5C1403.0,836.4 1403.4,837.2 1403.9,838.1C1404.4,839.0 1404.9,839.9 1405.5,840.7C1406.0,841.6 1406.5,842.4 1407.0,843.3C1407.6,844.1 1408.1,845.0 1408.7,845.8C1409.2,846.6 1409.8,847.5 1410.3,848.3C1410.9,849.1 1411.4,850.0 1412.0,850.8C1412.6,851.6 1413.2,852.4 1413.7,853.3C1414.3,854.1 1414.9,854.9 1415.4,855.8C1416.0,856.6 1416.6,857.4 1417.1,858.2C1417.7,859.1 1418.3,859.9 1418.8,860.7C1419.4,861.5 1420.0,862.4 1420.5,863.2C1421.1,864.0 1421.7,864.9 1422.2,865.7C1422.8,866.5 1423.4,867.4 1423.9,868.2C1424.5,869.0 1425.0,869.9 1425.6,870.7C1426.1,871.5 1426.7,872.4 1427.2,873.2C1427.8,874.0 1428.3,874.9 1428.9,875.7C1429.4,876.5 1430.0,877.4 1430.5,878.2C1431.1,879.1 1431.6,879.9 1432.2,880.7C1432.7,881.6 1433.3,882.4 1433.8,883.3C1434.3,884.1 1434.9,885.0 1435.4,885.8C1435.9,886.7 1436.5,887.5 1437.0,888.4C1437.5,889.2 1438.1,890.1 1438.6,890.9C1439.1,891.8 1439.7,892.6 1440.2,893.5C1440.7,894.3 1441.2,895.2 1441.8,896.0C1442.3,896.9 1442.8,897.7 1443.4,898.6C1443.9,899.4 1444.4,900.3 1444.9,901.2C1445.5,902.0 1446.0,902.9 1446.5,903.7C1447.0,904.6 1447.6,905.4 1448.1,906.3C1448.6,907.1 1449.1,908.0 1449.7,908.8C1450.2,909.7 1450.7,910.5 1451.3,911.4C1451.8,912.2 1452.3,913.1 1452.9,913.9C1453.4,914.8 1453.9,915.6 1454.5,916.5C1455.0,917.3 1455.6,918.2 1456.1,919.0C1456.6,919.8 1457.2,920.7 1457.7,921.5C1458.3,922.4 1458.8,923.2 1459.4,924.0C1459.9,924.9 1460.5,925.7 1461.0,926.5C1461.6,927.4 1462.2,928.2 1462.7,929.0C1463.3,929.9 1463.8,930.7 1464.4,931.5C1465.0,932.4 1465.5,933.2 1466.1,934.0C1466.7,934.8 1467.2,935.7 1467.8,936.5C1468.4,937.3 1469.0,938.1 1469.5,939.0C1470.1,939.8 1470.7,940.6 1471.3,941.4C1471.8,942.2 1472.4,943.1 1473.0,943.9C1473.6,944.7 1474.2,945.5 1474.8,946.3C1475.4,947.1 1475.9,947.9 1476.5,948.7C1477.1,949.6 1477.7,950.4 1478.3,951.2C1478.9,952.0 1479.5,952.8 1480.1,953.6C1480.7,954.4 1481.3,955.2 1481.9,956.0C1482.5,956.8 1483.1,957.6 1483.7,958.4C1484.3,959.2 1484.9,960.0 1485.5,960.8C1486.1,961.6 1486.8,962.4 1487.4,963.2C1488.0,964.0 1488.6,964.8 1489.2,965.6C1489.8,966.4 1490.5,967.1 1491.1,967.9C1491.7,968.7 1492.3,969.5 1492.9,970.3C1493.6,971.1 1494.2,971.9 1494.8,972.6C1495.4,973.4 1496.1,974.2 1496.7,975.0C1497.3,975.8 1498.0,976.6 1498.6,977.3C1499.2,978.1 1499.9,978.9 1500.5,979.7C1501.1,980.4 1501.8,981.2 1502.4,982.0C1503.1,982.7 1503.7,983.5 1504.4,984.3C1505.0,985.0 1505.6,985.8 1506.3,986.6C1506.9,987.3 1507.6,988.1 1508.3,988.8C1508.9,989.6 1509.6,990.4 1510.2,991.1C1510.9,991.9 1511.6,992.6 1512.2,993.4C1512.9,994.1 1513.6,994.8 1514.2,995.6C1514.9,996.3 1515.6,997.1 1516.3,997.8C1516.9,998.5 1517.6,999.3 1518.3,1000.0C1519.0,1000.7 1519.7,1001.4 1520.4,1002.2C1521.1,1002.9 1521.7,1003.6 1522.4,1004.3C1523.1,1005.0 1523.8,1005.7 1524.5,1006.5C1525.2,1007.2 1525.9,1007.9 1526.6,1008.6C1527.3,1009.3 1528.1,1010.0 1528.8,1010.7C1529.5,1011.4 1530.2,1012.1 1530.9,1012.8C1531.6,1013.5 1532.4,1014.1 1533.1,1014.8C1533.8,1015.5 1534.5,1016.2 1535.2,1016.9C1536.0,1017.6 1536.7,1018.2 1537.4,1018.9C1538.2,1019.6 1538.9,1020.3 1539.6,1020.9C1540.4,1021.6 1541.1,1022.3 1541.9,1022.9C1542.6,1023.6 1543.4,1024.3 1544.1,1024.9C1544.9,1025.6 1545.6,1026.2 1546.4,1026.9C1547.1,1027.6 1547.9,1028.2 1548.6,1028.9C1549.4,1029.5 1550.1,1030.2 1550.9,1030.8C1551.7,1031.4 1552.4,1032.1 1553.2,1032.7C1554.0,1033.4 1554.7,1034.0 1555.5,1034.6C1556.3,1035.3 1557.0,1035.9 1557.8,1036.5C1558.6,1037.2 1559.4,1037.8 1560.2,1038.4C1560.9,1039.1 1561.7,1039.7 1562.5,1040.3C1563.3,1040.9 1564.1,1041.5 1564.9,1042.2C1565.6,1042.8 1566.4,1043.4 1567.2,1044.0C1568.0,1044.6 1568.8,1045.2 1569.6,1045.9C1570.4,1046.5 1571.2,1047.1 1572.0,1047.7C1572.8,1048.3 1573.6,1048.9 1574.4,1049.5C1575.2,1050.1 1576.0,1050.7 1576.8,1051.3C1577.6,1051.9 1578.5,1052.5 1579.3,1053.1C1580.1,1053.7 1580.9,1054.3 1581.7,1054.9C1582.5,1055.4 1583.3,1056.0 1584.2,1056.6C1585.0,1057.2 1585.8,1057.8 1586.6,1058.4C1587.4,1059.0 1588.3,1059.5 1589.1,1060.1C1589.9,1060.7 1590.7,1061.3 1591.6,1061.8C1592.4,1062.4 1593.2,1063.0 1594.1,1063.6C1594.9,1064.1 1595.7,1064.7 1596.6,1065.3C1597.4,1065.8 1598.2,1066.4 1599.1,1066.9C1599.9,1067.5 1600.8,1068.1 1601.6,1068.6C1602.5,1069.2 1603.3,1069.7 1604.1,1070.3C1605.0,1070.8 1605.8,1071.4 1606.7,1071.9C1607.5,1072.5 1608.4,1073.0 1609.2,1073.6C1610.1,1074.1 1610.9,1074.7 1611.8,1075.2C1612.7,1075.7 1613.5,1076.3 1614.4,1076.8C1615.2,1077.4 1616.1,1077.9 1616.9,1078.4C1617.8,1078.9 1618.7,1079.5 1619.5,1080.0C1620.4,1080.5 1621.3,1081.1 1622.1,1081.6C1623.0,1082.1 1623.9,1082.6 1624.7,1083.1C1625.6,1083.7 1626.5,1084.2 1627.3,1084.7C1628.2,1085.2 1629.1,1085.7 1630.0,1086.2C1630.8,1086.7 1631.7,1087.2 1632.6,1087.8C1633.5,1088.3 1634.3,1088.8 1635.2,1089.3C1636.1,1089.8 1637.0,1090.3 1637.9,1090.8C1638.7,1091.3 1639.6,1091.7 1640.5,1092.2C1641.4,1092.7 1642.3,1093.2 1643.1,1093.7C1644.0,1094.2 1644.9,1094.7 1645.8,1095.2C1646.7,1095.7 1647.6,1096.1 1648.5,1096.6C1649.4,1097.1 1650.3,1097.6 1651.1,1098.0C1652.0,1098.5 1652.9,1099.0 1653.8,1099.5C1654.7,1099.9 1655.6,1100.4 1656.5,1100.9C1657.4,1101.3 1658.3,1101.8 1659.2,1102.3C1660.1,1102.7 1661.0,1103.2 1661.9,1103.6C1662.8,1104.1 1663.7,1104.6 1664.6,1105.0C1665.5,1105.5 1666.4,1105.9 1667.3,1106.4C1668.2,1106.8 1669.1,1107.3 1670.0,1107.7C1670.9,1108.1 1671.8,1108.6 1672.7,1109.0C1673.6,1109.5 1674.5,1109.9 1675.4,1110.3C1676.3,1110.8 1677.2,1111.2 1678.1,1111.6C1679.0,1112.1 1680.0,1112.5 1680.9,1112.9C1681.8,1113.3 1682.7,1113.8 1683.6,1114.2C1684.5,1114.6 1685.4,1115.0 1686.3,1115.4C1687.2,1115.9 1688.1,1116.3 1689.1,1116.7C1690.0,1117.1 1690.9,1117.5 1691.8,1117.9C1692.7,1118.3 1693.6,1118.7 1694.5,1119.1C1695.5,1119.6 1696.4,1120.0 1697.3,1120.4C1698.2,1120.8 1699.1,1121.2 1700.1,1121.5C1701.0,1121.9 1701.9,1122.3 1702.8,1122.7C1703.7,1123.1 1704.7,1123.5 1705.6,1123.9C1706.5,1124.3 1707.4,1124.7 1708.3,1125.1C1709.3,1125.4 1710.2,1125.8 1711.1,1126.2C1712.0,1126.6 1713.0,1127.0 1713.9,1127.3C1714.8,1127.7 1715.7,1128.1 1716.7,1128.5C1717.6,1128.8 1718.5,1129.2 1719.5,1129.6C1720.4,1129.9 1721.3,1130.3 1722.2,1130.7C1723.2,1131.0 1724.1,1131.4 1725.0,1131.7C1726.0,1132.1 1726.9,1132.5 1727.8,1132.8C1728.8,1133.2 1729.7,1133.5 1730.6,1133.9C1731.6,1134.2 1732.5,1134.6 1733.4,1134.9C1734.4,1135.3 1735.3,1135.6 1736.2,1136.0C1737.2,1136.3 1738.1,1136.6 1739.0,1137.0C1740.0,1137.3 1740.9,1137.7 1741.9,1138.0C1742.8,1138.3 1743.7,1138.7 1744.7,1139.0C1745.6,1139.3 1746.6,1139.7 1747.5,1140.0C1748.4,1140.3 1749.4,1140.6 1750.3,1141.0C1751.3,1141.3 1752.2,1141.6 1753.2,1141.9C1754.1,1142.3 1755.0,1142.6 1756.0,1142.9C1756.9,1143.2 1757.9,1143.5 1758.8,1143.8C1759.8,1144.1 1760.7,1144.5 1761.7,1144.8C1762.6,1145.1 1763.6,1145.4 1764.5,1145.7C1765.5,1146.0 1766.4,1146.3 1767.3,1146.6C1768.3,1146.9 1769.2,1147.2 1770.2,1147.5C1771.1,1147.8 1772.1,1148.1 1773.1,1148.4C1774.0,1148.7 1775.0,1149.0 1775.9,1149.3C1776.9,1149.6 1777.8,1149.8 1778.8,1150.1C1779.7,1150.4 1780.7,1150.7 1781.6,1151.0C1782.6,1151.3 1783.5,1151.6 1784.5,1151.8C1785.4,1152.1 1786.4,1152.4 1787.4,1152.7C1788.3,1153.0 1789.3,1153.2 1790.2,1153.5C1791.2,1153.8 1792.2,1154.0 1793.1,1154.3C1794.1,1154.6 1795.0,1154.9 1796.0,1155.1C1796.9,1155.4 1797.9,1155.7 1798.9,1155.9C1799.8,1156.2 1800.8,1156.4 1801.8,1156.7C1802.7,1157.0 1803.7,1157.2 1804.6,1157.5C1805.6,1157.7 1806.6,1158.0 1807.5,1158.2C1808.5,1158.5 1809.5,1158.7 1810.4,1159.0C1811.4,1159.3 1812.4,1159.5 1813.3,1159.7C1814.3,1160.0 1815.3,1160.2 1816.2,1160.5C1817.2,1160.7 1818.2,1161.0 1819.1,1161.2C1820.1,1161.4 1821.1,1161.7 1822.0,1161.9C1823.0,1162.2 1824.0,1162.4 1824.9,1162.6C1825.9,1162.9 1826.9,1163.1 1827.8,1163.3C1828.8,1163.6 1829.8,1163.8 1830.8,1164.0C1831.7,1164.2 1832.7,1164.5 1833.7,1164.7C1834.6,1164.9 1835.6,1165.1 1836.6,1165.4C1837.6,1165.6 1838.5,1165.8 1839.5,1166.0C1840.5,1166.2 1841.5,1166.5 1842.4,1166.7C1843.4,1166.9 1844.4,1167.1 1845.4,1167.3C1846.3,1167.5 1847.3,1167.7 1848.3,1167.9C1849.3,1168.2 1850.2,1168.4 1851.2,1168.6C1852.2,1168.8 1853.2,1169.0 1854.2,1169.2C1855.1,1169.4 1856.1,1169.6 1857.1,1169.8C1858.1,1170.0 1859.0,1170.2 1860.0,1170.4C1861.0,1170.6 1862.0,1170.8 1863.0,1171.0C1863.9,1171.2 1864.9,1171.4 1865.9,1171.6C1866.9,1171.7 1867.9,1171.9 1868.9,1172.1C1869.8,1172.3 1870.8,1172.5 1871.8,1172.7C1872.8,1172.9 1873.8,1173.1 1874.7,1173.2C1875.7,1173.4 1876.7,1173.6 1877.7,1173.8C1878.7,1174.0 1879.7,1174.2 1880.7,1174.3C1881.6,1174.5 1882.6,1174.7 1883.6,1174.9C1884.6,1175.0 1885.6,1175.2 1886.6,1175.4C1887.5,1175.6 1888.5,1175.7 1889.5,1175.9C1890.5,1176.1 1891.5,1176.2 1892.5,1176.4C1893.5,1176.6 1894.5,1176.7 1895.4,1176.9C1896.4,1177.1 1897.4,1177.2 1898.4,1177.4C1899.4,1177.6 1900.4,1177.7 1901.4,1177.9C1902.4,1178.0 1903.4,1178.2 1904.3,1178.3C1905.3,1178.5 1906.3,1178.7 1907.3,1178.8C1908.3,1179.0 1909.3,1179.1 1910.3,1179.3C1911.3,1179.4 1912.3,1179.6 1913.3,1179.7C1914.3,1179.9 1915.3,1180.0 1916.2,1180.2C1917.2,1180.3 1918.2,1180.5 1919.2,1180.6C1920.2,1180.8 1921.2,1180.9 1922.2,1181.0C1923.2,1181.2 1924.2,1181.3 1925.2,1181.5C1926.2,1181.6 1927.2,1181.7 1928.2,1181.9C1929.2,1182.0 1930.2,1182.2 1931.1,1182.3C1932.1,1182.4 1933.1,1182.6 1934.1,1182.7C1935.1,1182.8 1936.1,1183.0 1937.1,1183.1C1938.1,1183.2 1939.1,1183.4 1940.1,1183.5C1941.1,1183.6 1942.1,1183.7 1943.1,1183.9C1944.1,1184.0 1945.1,1184.1 1946.1,1184.2C1947.1,1184.4 1948.1,1184.5 1949.1,1184.6C1950.1,1184.7 1951.1,1184.8 1952.1,1185.0C1953.1,1185.1 1954.1,1185.2 1955.1,1185.3C1956.1,1185.4 1957.1,1185.6 1958.1,1185.7C1959.1,1185.8 1960.1,1185.9 1961.1,1186.0C1962.1,1186.1 1963.1,1186.2 1964.1,1186.4C1965.1,1186.5 1966.1,1186.6 1967.1,1186.7C1968.1,1186.8 1969.1,1186.9 1970.1,1187.0C1971.1,1187.1 1972.1,1187.2 1973.1,1187.3C1974.1,1187.4 1975.1,1187.5 1976.1,1187.6C1977.1,1187.7 1978.1,1187.8 1979.1,1187.9C1980.1,1188.0 1981.1,1188.1 1982.1,1188.2C1983.1,1188.3 1984.1,1188.4 1985.1,1188.5C1986.1,1188.6 1987.1,1188.7 1988.1,1188.8C1989.1,1188.9 1990.1,1189.0 1991.1,1189.1C1992.1,1189.2 1993.1,1189.3 1994.1,1189.4C1995.1,1189.5 1996.1,1189.6 1997.1,1189.7C1998.1,1189.8 1999.1,1189.8 2000.1,1189.9C2001.1,1190.0 2002.1,1190.1 2003.1,1190.2C2004.2,1190.3 2005.2,1190.4 2006.2,1190.5C2007.2,1190.5 2008.2,1190.6 2009.2,1190.7C2010.2,1190.8 2011.2,1190.9 2012.2,1191.0C2013.2,1191.0 2014.2,1191.1 2015.2,1191.2C2016.2,1191.3 2017.2,1191.4 2018.2,1191.4C2019.2,1191.5 2020.2,1191.6 2021.2,1191.7C2022.2,1191.7 2023.2,1191.8 2024.2,1191.9C2025.3,1192.0 2026.3,1192.0 2027.3,1192.1C2028.3,1192.2 2029.3,1192.3 2030.3,1192.3C2031.3,1192.4 2032.3,1192.5 2033.3,1192.5C2034.3,1192.6 2035.3,1192.7 2036.3,1192.8C2037.3,1192.8 2038.3,1192.9 2039.3,1193.0C2040.3,1193.0 2041.3,1193.1 2042.4,1193.2C2043.4,1193.2 2044.4,1193.3 2045.4,1193.4C2046.4,1193.4 2047.4,1193.5 2048.4,1193.5C2049.4,1193.6 2050.4,1193.7 2051.4,1193.7C2052.4,1193.8 2053.4,1193.9 2054.4,1193.9C2055.4,1194.0 2056.4,1194.0 2057.5,1194.1C2058.5,1194.2 2059.5,1194.2 2060.5,1194.3C2061.5,1194.3 2062.5,1194.4 2063.5,1194.4C2064.5,1194.5 2065.5,1194.6 2066.5,1194.6C2067.5,1194.7 2068.5,1194.7 2069.5,1194.8C2070.5,1194.8 2071.5,1194.9 2072.6,1194.9C2073.6,1195.0 2074.6,1195.0 2075.6,1195.1C2076.6,1195.1 2077.6,1195.2 2078.6,1195.2C2079.6,1195.3 2080.6,1195.3 2081.6,1195.4C2082.6,1195.4 2083.6,1195.5 2084.6,1195.5C2085.6,1195.6 2086.6,1195.6 2087.7,1195.7C2088.7,1195.7 2089.7,1195.8 2090.7,1195.8C2091.7,1195.9 2092.7,1195.9 2093.7,1196.0C2094.7,1196.0 2095.7,1196.0 2096.7,1196.1C2097.7,1196.1 2098.7,1196.2 2099.7,1196.2C2100.7,1196.3 2101.7,1196.3 2102.7,1196.3C2103.8,1196.4 2104.8,1196.4 2105.8,1196.5C2106.8,1196.5 2107.8,1196.5 2108.8,1196.6C2109.8,1196.6 2110.8,1196.7 2111.8,1196.7C2112.8,1196.7 2113.8,1196.8 2114.8,1196.8C2115.8,1196.9 2116.8,1196.9 2117.8,1196.9C2118.8,1197.0 2119.8,1197.0 2120.8,1197.0C2121.9,1197.1 2122.9,1197.1 2123.9,1197.2C2124.9,1197.2 2125.9,1197.2 2126.9,1197.3C2127.9,1197.3 2128.9,1197.3 2129.9,1197.4C2130.9,1197.4 2131.9,1197.4 2132.9,1197.5C2133.9,1197.5 2134.9,1197.5 2135.9,1197.6C2136.9,1197.6 2137.9,1197.6 2138.9,1197.7C2139.9,1197.7 2140.9,1197.7 2141.9,1197.8C2142.9,1197.8 2143.9,1197.8 2144.9,1197.8C2146.0,1197.9 2147.0,1197.9 2148.0,1197.9C2149.0,1198.0 2150.0,1198.0 2151.0,1198.0C2152.0,1198.1 2153.0,1198.1 2154.0,1198.1C2155.0,1198.1 2156.0,1198.2 2157.0,1198.2C2158.0,1198.2 2159.0,1198.3 2160.0,1198.3C2161.0,1198.3 2162.0,1198.3 2163.0,1198.4C2164.0,1198.4 2165.0,1198.4 2166.0,1198.4C2167.0,1198.5 2168.0,1198.5 2169.0,1198.5C2170.0,1198.6 2171.0,1198.6 2172.0,1198.6C2173.0,1198.6 2174.0,1198.7 2175.0,1198.7C2176.0,1198.7 2177.0,1198.7 2178.0,1198.8C2179.0,1198.8 2180.0,1198.8 2181.0,1198.8C2182.0,1198.9 2183.0,1198.9 2184.0,1198.9C2185.0,1198.9 2186.0,1199.0 2187.0,1199.0C2188.0,1199.0 2189.0,1199.0 2190.0,1199.1C2191.0,1199.1 2192.0,1199.1 2193.0,1199.1C2194.0,1199.1 2195.0,1199.2 2196.0,1199.2C2197.0,1199.2 2198.0,1199.2 2199.0,1199.3C2200.0,1199.3 2200.9,1199.3 2201.9,1199.3C2202.9,1199.4 2203.9,1199.4 2204.9,1199.4C2205.9,1199.4 2206.9,1199.4 2207.9,1199.5C2208.9,1199.5 2209.9,1199.5 2210.9,1199.5C2211.9,1199.6 2212.9,1199.6 2213.9,1199.6C2214.9,1199.6 2215.9,1199.6 2216.9,1199.7C2217.9,1199.7 2218.9,1199.7 2219.8,1199.7C2220.8,1199.8 2221.8,1199.8 2222.8,1199.8C2223.8,1199.8 2224.8,1199.8 2225.8,1199.9C2226.8,1199.9 2227.8,1199.9 2228.8,1199.9C2229.8,1200.0 2231.2,1200.0 2231.7,1200.0" stroke="#8000ff" stroke-width="9.5"/>
<path class="c" d="M578.7,821.3C579.2,821.1 580.7,820.7 581.6,820.4C582.6,820.1 583.6,819.9 584.6,819.6C585.5,819.4 586.5,819.1 587.5,818.9C588.4,818.7 589.4,818.5 590.4,818.3C591.4,818.0 592.4,817.8 593.3,817.7C594.3,817.5 595.3,817.3 596.3,817.1C597.3,816.9 598.3,816.7 599.2,816.6C600.2,816.4 601.2,816.2 602.2,816.1C603.2,815.9 604.2,815.7 605.2,815.6C606.2,815.4 607.1,815.3 608.1,815.1C609.1,814.9 610.1,814.8 611.1,814.6C612.1,814.5 613.1,814.3 614.1,814.1C615.1,814.0 616.0,813.8 617.0,813.6C618.0,813.4 619.0,813.3 620.0,813.1C621.0,812.9 622.0,812.7 622.9,812.5C623.9,812.3 624.9,812.1 625.9,811.9C626.9,811.8 627.9,811.6 628.8,811.3C629.8,811.1 630.8,810.9 631.8,810.7C632.7,810.5 633.7,810.3 634.7,810.1C635.7,809.8 636.7,809.6 637.6,809.4C638.6,809.2 639.6,808.9 640.5,808.7C641.5,808.5 642.5,808.2 643.5,808.0C644.4,807.8 645.4,807.5 646.4,807.3C647.4,807.1 648.3,806.8 649.3,806.6C650.3,806.4 651.3,806.2 652.2,806.0C653.2,805.8 654.2,805.5 655.2,805.4C656.2,805.2 657.1,805.0 658.1,804.8C659.1,804.6 660.1,804.4 661.1,804.2C662.1,804.1 663.1,803.9 664.0,803.7C665.0,803.6 666.0,803.4 667.0,803.2C668.0,803.1 669.0,802.9 670.0,802.8C671.0,802.7 672.0,802.5 673.0,802.4C674.0,802.3 675.0,802.1 676.0,802.0C677.0,801.9 678.0,801.8 678.9,801.6C679.9,801.5 680.9,801.4 681.9,801.3C682.9,801.2 683.9,801.1 684.9,801.0C685.9,801.0 686.9,800.9 687.9,800.8C688.9,800.7 689.9,800.7 690.9,800.6C691.9,800.5 692.9,800.5 693.9,800.4C694.9,800.4 695.9,800.4 696.9,800.3C697.9,800.3 698.9,800.3 699.9,800.3C700.9,800.3 701.9,800.3 702.9,800.3C703.9,800.3 704.9,800.3 705.9,800.3C706.9,800.4 707.9,800.4 708.9,800.4C709.9,800.5 710.9,800.6 711.9,800.6C712.9,800.7 713.9,800.8 714.9,800.9C715.9,801.0 716.9,801.1 717.9,801.2C718.9,801.3 719.9,801.5 720.8,801.6C721.8,801.8 722.8,801.9 723.8,802.1C724.8,802.3 725.8,802.4 726.8,802.6C727.8,802.8 728.8,803.1 729.8,803.3C730.8,803.5 731.7,803.8 732.7,804.1C733.7,804.3 734.6,804.6 735.6,804.9C736.5,805.3 737.5,805.6 738.4,806.0C739.3,806.3 740.3,806.7 741.2,807.1C742.1,807.5 743.0,807.9 743.8,808.4C744.7,808.9 745.6,809.4 746.4,809.9C747.3,810.4 748.1,810.9 748.9,811.5C749.8,812.1 750.6,812.7 751.4,813.3C752.2,813.9 752.9,814.5 753.7,815.1C754.5,815.8 755.3,816.4 756.0,817.1C756.8,817.7 757.5,818.4 758.3,819.1C759.0,819.8 759.7,820.5 760.4,821.2C761.2,821.9 761.9,822.6 762.6,823.4C763.2,824.1 763.9,824.8 764.6,825.6C765.2,826.4 765.9,827.1 766.5,827.9C767.1,828.7 767.7,829.5 768.3,830.3C768.9,831.1 769.5,831.9 770.1,832.7C770.6,833.5 771.2,834.4 771.7,835.2C772.3,836.1 772.8,836.9 773.3,837.8C773.8,838.6 774.3,839.5 774.8,840.4C775.3,841.2 775.7,842.1 776.2,843.0C776.7,843.9 777.1,844.8 777.6,845.7C778.0,846.6 778.4,847.5 778.9,848.4C779.3,849.3 779.7,850.2 780.1,851.2C780.5,852.1 780.9,853.0 781.3,853.9C781.7,854.9 782.1,855.8 782.4,856.7C782.8,857.6 783.2,858.6 783.5,859.5C783.9,860.5 784.2,861.4 784.6,862.3C784.9,863.3 785.3,864.2 785.6,865.2C786.0,866.1 786.3,867.0 786.6,868.0C787.0,868.9 787.3,869.9 787.6,870.8C787.9,871.8 788.2,872.7 788.6,873.7C788.9,874.6 789.2,875.6 789.5,876.5C789.8,877.5 790.1,878.4 790.4,879.4C790.7,880.4 791.0,881.3 791.3,882.3C791.6,883.2 791.9,884.2 792.2,885.1C792.5,886.1 792.8,887.1 793.0,888.0C793.3,889.0 793.6,889.9 793.9,890.9C794.2,891.9 794.5,892.8 794.8,893.8C795.0,894.7 795.3,895.7 795.6,896.7C795.9,897.6 796.2,898.6 796.5,899.5C796.7,900.5 797.0,901.5 797.3,902.4C797.6,903.4 797.9,904.3 798.1,905.3C798.4,906.3 798.7,907.2 799.0,908.2C799.2,909.2 799.5,910.1 799.8,911.1C800.1,912.1 800.3,913.0 800.6,914.0C800.9,914.9 801.1,915.9 801.4,916.9C801.6,917.8 801.9,918.8 802.2,919.8C802.4,920.7 802.7,921.7 802.9,922.7C803.2,923.6 803.4,924.6 803.7,925.6C803.9,926.6 804.2,927.5 804.4,928.5C804.7,929.5 804.9,930.4 805.1,931.4C805.4,932.4 805.6,933.3 805.8,934.3C806.1,935.3 806.3,936.3 806.5,937.2C806.8,938.2 807.0,939.2 807.2,940.2C807.4,941.1 807.7,942.1 807.9,943.1C808.2,944.1 808.4,945.0 808.6,946.0C808.9,947.0 809.1,948.0 809.4,949.0C809.6,949.9 809.9,950.9 810.2,951.9C810.4,952.9 810.7,953.9 810.9,954.8C811.2,955.8 811.4,956.8 811.7,957.8C811.9,958.7 812.2,959.7 812.4,960.7C812.7,961.6 812.9,962.6 813.1,963.5C813.3,964.5 813.5,965.4 813.7,966.3C813.9,967.2 814.1,968.2 814.3,969.1C814.5,970.0 814.7,971.0 814.9,972.0C815.2,972.9 815.4,973.9 815.6,975.0C815.9,976.0 816.2,977.1 816.5,978.2C816.8,979.3 817.1,980.6 817.5,981.6C817.9,982.6 818.4,983.6 818.9,984.1C819.4,984.5 820.1,984.6 820.7,984.4C821.4,984.1 822.2,983.4 822.9,982.6C823.6,981.8 824.4,980.6 825.0,979.6C825.7,978.6 826.3,977.5 826.8,976.5C827.3,975.4 827.7,974.5 828.1,973.5C828.5,972.5 828.8,971.6 829.2,970.7C829.5,969.8 829.7,968.9 830.0,968.0C830.3,967.1 830.5,966.2 830.8,965.3C831.1,964.4 831.4,963.4 831.7,962.5C832.0,961.6 832.3,960.7 832.6,959.8C833.0,958.8 833.3,957.9 833.6,956.9C834.0,956.0 834.3,955.1 834.7,954.1C835.0,953.2 835.4,952.2 835.7,951.3C836.1,950.3 836.5,949.4 836.8,948.4C837.2,947.4 837.5,946.5 837.8,945.5C838.2,944.6 838.5,943.6 838.8,942.7C839.2,941.7 839.5,940.8 839.8,939.8C840.1,938.9 840.5,937.9 840.8,937.0C841.1,936.0 841.4,935.0 841.7,934.1C842.0,933.1 842.3,932.2 842.6,931.2C842.9,930.3 843.3,929.3 843.6,928.4C843.9,927.4 844.2,926.5 844.5,925.5C844.8,924.6 845.1,923.6 845.4,922.7C845.7,921.7 846.0,920.8 846.3,919.8C846.6,918.8 846.9,917.9 847.2,916.9C847.5,916.0 847.8,915.0 848.1,914.1C848.4,913.1 848.7,912.2 849.0,911.2C849.3,910.3 849.6,909.3 849.9,908.4C850.2,907.4 850.5,906.5 850.9,905.5C851.2,904.6 851.5,903.7 851.8,902.7C852.1,901.8 852.5,900.8 852.8,899.9C853.1,898.9 853.4,898.0 853.7,897.0C854.1,896.1 854.4,895.1 854.7,894.2C855.1,893.2 855.4,892.3 855.7,891.3C856.1,890.4 856.4,889.5 856.7,888.5C857.1,887.6 857.4,886.6 857.7,885.7C858.1,884.7 858.4,883.8 858.8,882.9C859.1,881.9 859.4,881.0 859.8,880.0C860.1,879.1 860.5,878.1 860.8,877.2C861.2,876.3 861.5,875.3 861.8,874.4C862.2,873.4 862.5,872.5 862.9,871.6C863.2,870.6 863.6,869.7 863.9,868.7C864.3,867.8 864.6,866.9 865.0,865.9C865.3,865.0 865.7,864.0 866.0,863.1C866.4,862.2 866.7,861.2 867.1,860.3C867.5,859.4 867.8,858.4 868.2,857.5C868.5,856.5 868.9,855.6 869.2,854.7C869.6,853.7 870.0,852.8 870.3,851.9C870.7,850.9 871.0,850.0 871.4,849.1C871.8,848.1 872.1,847.2 872.5,846.3C872.8,845.3 873.2,844.4 873.6,843.5C873.9,842.5 874.3,841.6 874.7,840.7C875.0,839.7 875.4,838.8 875.8,837.9C876.1,836.9 876.5,836.0 876.9,835.1C877.2,834.1 877.6,833.2 878.0,832.3C878.3,831.3 878.7,830.4 879.1,829.5C879.4,828.6 879.8,827.6 880.2,826.7C880.5,825.8 880.9,824.8 881.3,823.9C881.7,823.0 882.0,822.0 882.4,821.1C882.8,820.2 883.1,819.3 883.5,818.3C883.9,817.4 884.3,816.5 884.6,815.5C885.0,814.6 885.4,813.7 885.8,812.8C886.1,811.8 886.5,810.9 886.9,810.0C887.3,809.0 887.6,808.1 888.0,807.2C888.4,806.3 888.8,805.3 889.1,804.4C889.5,803.5 889.9,802.5 890.3,801.6C890.6,800.7 891.0,799.8 891.4,798.8C891.8,797.9 892.2,797.0 892.5,796.1C892.9,795.1 893.3,794.2 893.7,793.3C894.0,792.4 894.4,791.4 894.8,790.5C895.2,789.6 895.6,788.7 895.9,787.7C896.3,786.8 896.7,785.9 897.1,785.0C897.4,784.0 897.8,783.1 898.2,782.2C898.6,781.2 899.0,780.3 899.3,779.4C899.7,778.5 900.1,777.5 900.5,776.6C900.8,775.7 901.2,774.8 901.6,773.8C901.9,772.9 902.3,772.0 902.7,771.0C903.0,770.1 903.4,769.2 903.8,768.2C904.1,767.3 904.5,766.4 904.9,765.4C905.2,764.5 905.6,763.6 905.9,762.6C906.3,761.7 906.6,760.8 907.0,759.8C907.3,758.9 907.7,757.9 908.0,757.0C908.3,756.0 908.7,755.1 909.0,754.2C909.4,753.2 909.7,752.3 910.0,751.3C910.3,750.4 910.7,749.4 911.0,748.4C911.3,747.5 911.6,746.5 911.9,745.6C912.2,744.6 912.6,743.7 912.9,742.7C913.2,741.7 913.5,740.8 913.7,739.8C914.0,738.8 914.3,737.8 914.6,736.9C914.9,735.9 915.3,735.0 915.6,734.1C916.0,733.1 916.4,732.2 916.8,731.4C917.3,730.5 917.8,729.7 918.4,728.9C918.9,728.1 919.6,727.4 920.3,726.7C920.9,725.9 921.7,725.3 922.4,724.6C923.2,723.9 924.0,723.3 924.8,722.6C925.5,722.0 926.4,721.3 927.2,720.7C928.0,720.1 928.8,719.4 929.6,718.8C930.4,718.1 931.2,717.5 932.0,716.8C932.7,716.2 933.5,715.5 934.2,714.8C935.0,714.1 935.7,713.4 936.4,712.7C937.0,712.0 937.7,711.2 938.3,710.5C938.9,709.7 939.5,708.9 940.0,708.1C940.5,707.3 941.0,706.4 941.5,705.5C941.9,704.7 942.3,703.8 942.7,702.9C943.1,702.0 943.5,701.0 943.9,700.1C944.2,699.2 944.6,698.2 944.9,697.3C945.2,696.3 945.5,695.4 945.8,694.4C946.1,693.4 946.4,692.5 946.8,691.5C947.1,690.6 947.4,689.6 947.7,688.6C948.0,687.7 948.3,686.7 948.6,685.8C948.9,684.8 949.2,683.8 949.5,682.9C949.8,681.9 950.1,681.0 950.4,680.0C950.7,679.0 951.0,678.1 951.3,677.1C951.6,676.2 951.9,675.2 952.2,674.3C952.5,673.3 952.8,672.3 953.1,671.4C953.4,670.4 953.7,669.5 954.0,668.5C954.3,667.6 954.6,666.6 954.9,665.6C955.2,664.7 955.5,663.7 955.8,662.8C956.1,661.8 956.4,660.9 956.7,659.9C957.0,658.9 957.3,658.0 957.6,657.0C957.9,656.1 958.2,655.1 958.5,654.2C958.8,653.2 959.0,652.2 959.3,651.3C959.6,650.3 959.9,649.4 960.2,648.4C960.5,647.5 960.8,646.5 961.0,645.5C961.3,644.6 961.6,643.6 961.9,642.7C962.2,641.7 962.4,640.7 962.7,639.8C963.0,638.8 963.3,637.9 963.5,636.9C963.8,635.9 964.1,635.0 964.4,634.0C964.6,633.0 964.9,632.1 965.2,631.1C965.4,630.2 965.7,629.2 966.0,628.2C966.2,627.3 966.5,626.3 966.7,625.3C967.0,624.4 967.2,623.4 967.5,622.4C967.8,621.5 968.0,620.5 968.3,619.5C968.5,618.6 968.8,617.6 969.0,616.6C969.3,615.7 969.5,614.7 969.8,613.7C970.0,612.8 970.2,611.8 970.5,610.8C970.7,609.8 971.0,608.9 971.2,607.9C971.5,606.9 971.7,606.0 971.9,605.0C972.2,604.0 972.4,603.0 972.6,602.1C972.9,601.1 973.1,600.1 973.3,599.1C973.6,598.2 973.8,597.2 974.0,596.2C974.3,595.2 974.5,594.3 974.7,593.3C974.9,592.3 975.2,591.3 975.4,590.4C975.6,589.4 975.8,588.4 976.0,587.4C976.3,586.5 976.5,585.5 976.7,584.5C976.9,583.5 977.1,582.5 977.4,581.6C977.6,580.6 977.8,579.6 978.0,578.6C978.2,577.7 978.4,576.7 978.6,575.7C978.9,574.7 979.1,573.7 979.3,572.8C979.5,571.8 979.7,570.8 979.9,569.8C980.1,568.8 980.3,567.9 980.5,566.9C980.7,565.9 981.0,564.9 981.2,563.9C981.4,563.0 981.6,562.0 981.8,561.0C982.0,560.0 982.2,559.0 982.4,558.0C982.6,557.1 982.8,556.1 983.0,555.1C983.2,554.1 983.4,553.1 983.6,552.2C983.8,551.2 984.0,550.2 984.2,549.2C984.4,548.2 984.6,547.2 984.8,546.3C985.0,545.3 985.2,544.3 985.4,543.3C985.6,542.3 985.8,541.3 986.0,540.4C986.2,539.4 986.4,538.4 986.5,537.4C986.7,536.4 986.9,535.4 987.1,534.5C987.3,533.5 987.5,532.5 987.7,531.5C987.9,530.5 988.1,529.5 988.3,528.6C988.5,527.6 988.7,526.6 988.9,525.6C989.1,524.6 989.3,523.6 989.5,522.7C989.6,521.7 989.8,520.7 990.0,519.7C990.2,518.7 990.4,517.7 990.6,516.8C990.8,515.8 991.0,514.8 991.2,513.8C991.4,512.8 991.6,511.8 991.8,510.9C991.9,509.9 992.1,508.9 992.3,507.9C992.5,506.9 992.7,506.0 992.9,505.0C993.1,504.0 993.3,503.0 993.5,502.0C993.7,501.0 993.9,500.1 994.1,499.1C994.3,498.1 994.5,497.1 994.7,496.1C994.9,495.2 995.1,494.2 995.3,493.2C995.5,492.2 995.7,491.2 995.9,490.3C996.1,489.3 996.3,488.3 996.5,487.3C996.7,486.3 996.9,485.4 997.1,484.4C997.3,483.4 997.5,482.4 997.7,481.5C997.9,480.5 998.1,479.5 998.3,478.5C998.5,477.5 998.8,476.6 999.0,475.6C999.2,474.6 999.4,473.6 999.6,472.7C999.8,471.7 1000.1,470.7 1000.3,469.7C1000.5,468.8 1000.7,467.8 1001.0,466.8C1001.2,465.8 1001.4,464.9 1001.7,463.9C1001.9,462.9 1002.1,462.0 1002.4,461.0C1002.6,460.0 1002.8,459.0 1003.1,458.1C1003.3,457.1 1003.6,456.1 1003.8,455.2C1004.1,454.2 1004.3,453.2 1004.6,452.3C1004.8,451.3 1005.1,450.3 1005.4,449.4C1005.6,448.4 1005.9,447.4 1006.2,446.4C1006.4,445.5 1006.7,444.5 1007.0,443.5C1007.3,442.6 1007.6,441.6 1007.8,440.6C1008.1,439.7 1008.4,438.7 1008.7,437.8C1009.0,436.8 1009.3,435.8 1009.7,434.9C1010.1,434.0 1010.4,433.0 1010.8,432.1C1011.3,431.2 1011.7,430.3 1012.2,429.4C1012.8,428.6 1013.3,427.7 1014.0,426.9C1014.6,426.1 1015.3,425.3 1016.1,424.6C1016.9,423.9 1017.7,423.2 1018.6,422.7C1019.5,422.3 1020.4,421.9 1021.3,421.9C1022.3,421.9 1023.2,422.1 1024.1,422.5C1025.1,422.8 1026.0,423.4 1026.9,424.0C1027.8,424.6 1028.7,425.4 1029.6,426.0C1030.4,426.6 1031.3,427.3 1032.2,427.6C1033.0,427.9 1033.9,428.1 1034.8,428.0C1035.7,427.8 1036.6,427.4 1037.5,426.9C1038.4,426.4 1039.2,425.7 1040.0,425.0C1040.8,424.3 1041.6,423.6 1042.3,422.8C1043.0,422.1 1043.6,421.3 1044.2,420.5C1044.8,419.7 1045.4,418.8 1045.9,418.0C1046.5,417.2 1047.0,416.3 1047.5,415.4C1048.0,414.6 1048.4,413.7 1048.9,412.8C1049.3,411.9 1049.7,411.0 1050.2,410.1C1050.6,409.2 1051.0,408.3 1051.4,407.3C1051.8,406.4 1052.2,405.5 1052.6,404.6C1053.0,403.7 1053.4,402.8 1053.8,401.9C1054.2,400.9 1054.6,400.0 1055.0,399.1C1055.4,398.2 1055.8,397.3 1056.2,396.3C1056.6,395.4 1057.0,394.5 1057.4,393.6C1057.8,392.6 1058.1,391.7 1058.5,390.8C1058.9,389.9 1059.3,388.9 1059.7,388.0C1060.0,387.1 1060.4,386.1 1060.8,385.2C1061.1,384.3 1061.5,383.3 1061.9,382.4C1062.2,381.5 1062.6,380.5 1062.9,379.6C1063.3,378.7 1063.6,377.7 1064.0,376.8C1064.3,375.8 1064.6,374.9 1065.0,373.9C1065.3,373.0 1065.7,372.1 1066.0,371.1C1066.3,370.2 1066.6,369.2 1066.9,368.3C1067.3,367.3 1067.6,366.4 1067.9,365.4C1068.2,364.5 1068.5,363.5 1068.8,362.6C1069.1,361.6 1069.4,360.6 1069.7,359.7C1070.0,358.7 1070.3,357.8 1070.5,356.8C1070.8,355.9 1071.1,354.9 1071.4,353.9C1071.7,353.0 1071.9,352.0 1072.2,351.0C1072.5,350.1 1072.8,349.1 1073.0,348.2C1073.3,347.2 1073.6,346.2 1073.8,345.3C1074.1,344.3 1074.4,343.3 1074.6,342.4C1074.9,341.4 1075.2,340.4 1075.4,339.5C1075.7,338.5 1075.9,337.5 1076.2,336.6C1076.5,335.6 1076.7,334.6 1077.0,333.7C1077.2,332.7 1077.5,331.7 1077.7,330.8C1078.0,329.8 1078.3,328.8 1078.5,327.8C1078.8,326.9 1079.0,325.9 1079.3,324.9C1079.6,324.0 1079.8,323.0 1080.1,322.0C1080.3,321.1 1080.6,320.1 1080.9,319.1C1081.1,318.2 1081.4,317.2 1081.7,316.2C1081.9,315.3 1082.2,314.3 1082.5,313.3C1082.7,312.4 1083.0,311.4 1083.3,310.5C1083.5,309.5 1083.8,308.5 1084.1,307.6C1084.3,306.6 1084.6,305.6 1084.9,304.7C1085.2,303.7 1085.4,302.7 1085.7,301.8C1086.0,300.8 1086.2,299.8 1086.5,298.9C1086.8,297.9 1087.0,297.0 1087.3,296.0C1087.6,295.0 1087.8,294.1 1088.1,293.1C1088.4,292.1 1088.6,291.2 1088.9,290.2C1089.1,289.2 1089.4,288.3 1089.7,287.3C1089.9,286.3 1090.2,285.4 1090.4,284.4C1090.7,283.4 1090.9,282.5 1091.2,281.5C1091.4,280.5 1091.7,279.5 1091.9,278.6C1092.2,277.6 1092.4,276.6 1092.6,275.7C1092.9,274.7 1093.1,273.7 1093.3,272.7C1093.6,271.8 1093.8,270.8 1094.0,269.8C1094.2,268.8 1094.5,267.9 1094.7,266.9C1094.9,265.9 1095.1,264.9 1095.3,263.9C1095.5,263.0 1095.7,262.0 1096.0,261.0C1096.2,260.0 1096.4,259.0 1096.6,258.1C1096.8,257.1 1097.0,256.1 1097.2,255.1C1097.4,254.1 1097.6,253.2 1097.8,252.2C1098.0,251.2 1098.3,250.2 1098.5,249.2C1098.7,248.3 1098.9,247.3 1099.1,246.3C1099.3,245.3 1099.6,244.4 1099.8,243.4C1100.0,242.4 1100.2,241.4 1100.5,240.5C1100.7,239.5 1101.0,238.5 1101.2,237.5C1101.4,236.6 1101.7,235.6 1102.0,234.6C1102.2,233.7 1102.5,232.7 1102.7,231.7C1103.0,230.8 1103.3,229.8 1103.6,228.9C1103.9,227.9 1104.2,227.0 1104.5,226.0C1104.8,225.0 1105.1,224.1 1105.4,223.1C1105.7,222.2 1106.0,221.2 1106.3,220.3C1106.7,219.3 1107.0,218.4 1107.3,217.4C1107.6,216.5 1108.0,215.5 1108.3,214.6C1108.6,213.7 1108.9,212.7 1109.3,211.8C1109.6,210.8 1109.9,209.9 1110.2,208.9C1110.5,207.9 1110.8,207.0 1111.1,206.0C1111.4,205.1 1111.7,204.1 1112.0,203.2C1112.3,202.2 1112.6,201.3 1112.9,200.3C1113.2,199.4 1113.5,198.4 1113.8,197.5C1114.1,196.5 1114.4,195.5 1114.7,194.6C1115.0,193.6 1115.3,192.7 1115.7,191.8C1116.0,190.8 1116.3,189.9 1116.6,188.9C1117.0,188.0 1117.3,187.0 1117.7,186.1C1118.0,185.2 1118.4,184.2 1118.7,183.3C1119.1,182.4 1119.5,181.5 1119.9,180.5C1120.3,179.6 1120.7,178.7 1121.1,177.8C1121.6,176.9 1122.0,176.0 1122.5,175.1C1122.9,174.2 1123.4,173.3 1123.9,172.4C1124.4,171.5 1124.9,170.7 1125.5,169.8C1126.1,169.0 1126.7,168.2 1127.4,167.4C1128.1,166.6 1128.8,165.8 1129.6,165.2C1130.3,164.5 1131.2,163.9 1132.1,163.5C1132.9,163.1 1133.9,162.9 1134.8,162.9C1135.7,163.0 1136.7,163.4 1137.6,163.8C1138.5,164.3 1139.4,165.0 1140.2,165.7C1141.0,166.4 1141.8,167.2 1142.4,168.0C1143.1,168.7 1143.6,169.6 1144.2,170.4C1144.7,171.3 1145.1,172.2 1145.6,173.1C1146.1,173.9 1146.5,174.8 1146.9,175.8C1147.3,176.7 1147.7,177.6 1148.1,178.5C1148.5,179.4 1149.0,180.3 1149.4,181.2C1149.7,182.1 1150.1,183.0 1150.5,184.0C1150.9,184.9 1151.3,185.8 1151.7,186.7C1152.0,187.7 1152.4,188.6 1152.8,189.5C1153.1,190.5 1153.5,191.4 1153.8,192.3C1154.2,193.3 1154.5,194.2 1154.9,195.2C1155.2,196.1 1155.6,197.1 1155.9,198.0C1156.2,198.9 1156.6,199.9 1156.9,200.8C1157.2,201.8 1157.5,202.7 1157.8,203.7C1158.1,204.7 1158.4,205.6 1158.7,206.6C1159.0,207.5 1159.3,208.5 1159.6,209.4C1159.9,210.4 1160.2,211.4 1160.5,212.3C1160.8,213.3 1161.0,214.2 1161.3,215.2C1161.6,216.2 1161.8,217.1 1162.1,218.1C1162.4,219.1 1162.6,220.0 1162.9,221.0C1163.2,222.0 1163.4,222.9 1163.7,223.9C1163.9,224.9 1164.2,225.8 1164.5,226.8C1164.7,227.8 1165.0,228.7 1165.2,229.7C1165.5,230.7 1165.8,231.6 1166.0,232.6C1166.3,233.6 1166.5,234.5 1166.8,235.5C1167.1,236.5 1167.3,237.4 1167.6,238.4C1167.9,239.3 1168.2,240.3 1168.4,241.3C1168.7,242.2 1169.0,243.2 1169.3,244.2C1169.6,245.1 1169.9,246.1 1170.2,247.0C1170.5,248.0 1170.8,248.9 1171.1,249.9C1171.4,250.8 1171.7,251.8 1172.0,252.8C1172.3,253.7 1172.6,254.7 1172.9,255.6C1173.2,256.6 1173.5,257.5 1173.8,258.5C1174.1,259.4 1174.4,260.4 1174.7,261.3C1175.0,262.3 1175.3,263.2 1175.6,264.2C1175.9,265.1 1176.2,266.1 1176.5,267.1C1176.8,268.0 1177.1,269.0 1177.4,269.9C1177.7,270.9 1178.0,271.9 1178.2,272.8C1178.5,273.8 1178.8,274.8 1179.0,275.7C1179.3,276.7 1179.6,277.7 1179.8,278.6C1180.1,279.6 1180.3,280.6 1180.6,281.5C1180.8,282.5 1181.1,283.5 1181.3,284.4C1181.6,285.4 1181.8,286.4 1182.0,287.4C1182.3,288.3 1182.5,289.3 1182.8,290.3C1183.0,291.3 1183.2,292.2 1183.5,293.2C1183.7,294.2 1183.9,295.1 1184.2,296.1C1184.4,297.1 1184.6,298.1 1184.9,299.0C1185.1,300.0 1185.3,301.0 1185.6,302.0C1185.8,302.9 1186.0,303.9 1186.3,304.9C1186.5,305.9 1186.7,306.8 1187.0,307.8C1187.2,308.8 1187.4,309.7 1187.7,310.7C1187.9,311.7 1188.1,312.7 1188.4,313.6C1188.6,314.6 1188.8,315.6 1189.1,316.6C1189.3,317.5 1189.5,318.5 1189.8,319.5C1190.0,320.5 1190.2,321.4 1190.5,322.4C1190.7,323.4 1190.9,324.3 1191.2,325.3C1191.4,326.3 1191.6,327.3 1191.9,328.2C1192.1,329.2 1192.3,330.2 1192.6,331.2C1192.8,332.1 1193.1,333.1 1193.3,334.1C1193.5,335.0 1193.8,336.0 1194.0,337.0C1194.2,338.0 1194.5,338.9 1194.7,339.9C1194.9,340.9 1195.2,341.9 1195.4,342.8C1195.7,343.8 1195.9,344.8 1196.1,345.7C1196.4,346.7 1196.6,347.7 1196.9,348.7C1197.1,349.6 1197.3,350.6 1197.6,351.6C1197.8,352.6 1198.1,353.5 1198.3,354.5C1198.6,355.5 1198.8,356.4 1199.0,357.4C1199.3,358.4 1199.5,359.4 1199.8,360.3C1200.0,361.3 1200.3,362.3 1200.5,363.2C1200.8,364.2 1201.0,365.2 1201.3,366.2C1201.5,367.1 1201.8,368.1 1202.0,369.1C1202.3,370.0 1202.6,371.0 1202.8,372.0C1203.1,372.9 1203.3,373.9 1203.6,374.9C1203.9,375.8 1204.1,376.8 1204.4,377.8C1204.7,378.7 1204.9,379.7 1205.2,380.7C1205.5,381.6 1205.7,382.6 1206.0,383.6C1206.3,384.5 1206.6,385.5 1206.8,386.5C1207.1,387.4 1207.4,388.4 1207.7,389.3C1208.0,390.3 1208.2,391.3 1208.5,392.2C1208.8,393.2 1209.1,394.1 1209.4,395.1C1209.7,396.1 1210.0,397.0 1210.3,398.0C1210.6,398.9 1210.9,399.9 1211.2,400.8C1211.5,401.8 1211.8,402.7 1212.1,403.7C1212.4,404.6 1212.7,405.6 1213.0,406.5C1213.4,407.5 1213.7,408.4 1214.0,409.4C1214.3,410.3 1214.6,411.3 1215.0,412.2C1215.3,413.2 1215.6,414.1 1216.0,415.0C1216.3,416.0 1216.6,416.9 1217.0,417.9C1217.3,418.8 1217.7,419.7 1218.0,420.7C1218.4,421.6 1218.7,422.5 1219.1,423.5C1219.4,424.4 1219.8,425.3 1220.2,426.3C1220.5,427.2 1220.9,428.1 1221.3,429.0C1221.7,430.0 1222.0,430.9 1222.4,431.8C1222.8,432.7 1223.2,433.7 1223.6,434.6C1224.0,435.5 1224.4,436.4 1224.8,437.3C1225.2,438.3 1225.6,439.2 1226.0,440.1C1226.4,441.0 1226.8,441.9 1227.2,442.8C1227.6,443.7 1228.1,444.6 1228.5,445.5C1228.9,446.5 1229.3,447.4 1229.8,448.3C1230.2,449.2 1230.7,450.1 1231.1,451.0C1231.6,451.9 1232.0,452.7 1232.5,453.6C1232.9,454.5 1233.4,455.4 1233.9,456.3C1234.3,457.2 1234.8,458.1 1235.3,459.0C1235.8,459.9 1236.2,460.7 1236.7,461.6C1237.2,462.5 1237.7,463.4 1238.2,464.3C1238.7,465.1 1239.2,466.0 1239.7,466.9C1240.3,467.8 1240.8,468.6 1241.3,469.5C1241.8,470.4 1242.4,471.2 1242.9,472.1C1243.4,472.9 1244.0,473.8 1244.5,474.6C1245.1,475.5 1245.7,476.3 1246.2,477.2C1246.8,478.0 1247.4,478.8 1248.0,479.6C1248.6,480.4 1249.2,481.2 1249.8,482.0C1250.4,482.8 1251.1,483.6 1251.7,484.4C1252.4,485.1 1253.0,485.8 1253.7,486.6C1254.4,487.3 1255.1,488.0 1255.8,488.7C1256.5,489.3 1257.3,490.0 1258.0,490.6C1258.8,491.3 1259.6,491.9 1260.4,492.5C1261.1,493.1 1262.0,493.6 1262.8,494.2C1263.6,494.7 1264.4,495.3 1265.3,495.8C1266.2,496.3 1267.0,496.8 1267.9,497.3C1268.8,497.7 1269.7,498.2 1270.6,498.6C1271.5,499.1 1272.4,499.5 1273.4,499.9C1274.3,500.3 1275.2,500.7 1276.2,501.1C1277.1,501.4 1278.1,501.8 1279.1,502.1C1280.0,502.4 1281.0,502.7 1282.0,503.0C1283.0,503.3 1283.9,503.5 1284.9,503.7C1285.9,504.0 1286.9,504.2 1287.9,504.3C1288.9,504.5 1289.9,504.6 1290.9,504.8C1291.8,504.9 1292.8,504.9 1293.8,505.0C1294.8,505.0 1295.8,505.1 1296.8,505.0C1297.8,505.0 1298.8,505.0 1299.7,504.9C1300.7,504.8 1301.7,504.7 1302.7,504.5C1303.6,504.4 1304.6,504.2 1305.6,504.0C1306.5,503.8 1307.5,503.6 1308.5,503.3C1309.4,503.1 1310.4,502.8 1311.3,502.5C1312.3,502.2 1313.2,501.9 1314.2,501.5C1315.1,501.2 1316.1,500.8 1317.0,500.4C1318.0,500.1 1318.9,499.7 1319.8,499.3C1320.8,498.9 1321.7,498.5 1322.6,498.1C1323.6,497.7 1324.5,497.2 1325.4,496.8C1326.3,496.4 1327.3,495.9 1328.2,495.5C1329.1,495.0 1330.0,494.6 1330.9,494.2C1331.9,493.7 1332.8,493.3 1333.7,492.8C1334.6,492.4 1335.5,492.0 1336.4,491.5C1337.3,491.1 1338.2,490.6 1339.2,490.2C1340.1,489.8 1341.0,489.4 1341.9,488.9C1342.8,488.5 1343.7,488.1 1344.6,487.6C1345.5,487.2 1346.4,486.8 1347.3,486.4C1348.2,485.9 1349.1,485.5 1350.0,485.1C1350.9,484.7 1351.7,484.2 1352.6,483.8C1353.5,483.4 1354.4,483.0 1355.3,482.5C1356.2,482.1 1357.1,481.7 1358.0,481.3C1358.9,480.8 1359.8,480.4 1360.6,480.0C1361.5,479.6 1362.4,479.1 1363.3,478.7C1364.2,478.3 1365.1,477.8 1365.9,477.4C1366.8,477.0 1367.7,476.5 1368.6,476.1C1369.5,475.7 1370.3,475.2 1371.2,474.8C1372.1,474.3 1373.0,473.9 1373.8,473.5C1374.7,473.0 1375.6,472.6 1376.5,472.1C1377.3,471.7 1378.2,471.2 1379.1,470.7C1380.0,470.3 1380.8,469.8 1381.7,469.3C1382.6,468.9 1383.5,468.4 1384.3,467.9C1385.2,467.5 1386.1,467.0 1386.9,466.5C1387.8,466.0 1388.7,465.5 1389.5,465.1C1390.4,464.6 1391.3,464.1 1392.2,463.6C1393.0,463.1 1393.9,462.6 1394.8,462.1C1395.6,461.6 1396.5,461.1 1397.4,460.6C1398.2,460.1 1399.1,459.6 1400.0,459.1C1400.9,458.6 1401.7,458.1 1402.6,457.6C1403.5,457.1 1404.3,456.5 1405.2,456.0C1406.1,455.5 1406.9,455.0 1407.8,454.5C1408.7,454.0 1409.6,453.5 1410.4,453.0C1411.3,452.4 1412.2,451.9 1413.0,451.4C1413.9,450.9 1414.8,450.4 1415.7,449.9C1416.5,449.4 1417.4,448.8 1418.3,448.3C1419.2,447.8 1420.0,447.3 1420.9,446.8C1421.8,446.3 1422.7,445.8 1423.5,445.2C1424.4,444.7 1425.3,444.2 1426.2,443.7C1427.0,443.2 1427.9,442.7 1428.8,442.2C1429.7,441.7 1430.6,441.2 1431.4,440.7C1432.3,440.2 1433.2,439.7 1434.1,439.2C1435.0,438.7 1435.9,438.2 1436.7,437.7C1437.6,437.2 1438.5,436.7 1439.4,436.2C1440.3,435.7 1441.2,435.2 1442.1,434.8C1443.0,434.3 1443.9,433.8 1444.7,433.3C1445.6,432.9 1446.5,432.4 1447.4,431.9C1448.3,431.4 1449.2,431.0 1450.1,430.5C1451.0,430.1 1451.9,429.6 1452.8,429.2C1453.7,428.7 1454.6,428.3 1455.5,427.8C1456.4,427.4 1457.3,426.9 1458.3,426.5C1459.2,426.1 1460.1,425.6 1461.0,425.2C1461.9,424.8 1462.8,424.4 1463.7,424.0C1464.6,423.6 1465.6,423.2 1466.5,422.8C1467.4,422.4 1468.3,422.0 1469.2,421.6C1470.2,421.2 1471.1,420.8 1472.0,420.4C1472.9,420.1 1473.9,419.7 1474.8,419.3C1475.7,419.0 1476.7,418.6 1477.6,418.3C1478.5,417.9 1479.5,417.6 1480.4,417.3C1481.4,416.9 1482.3,416.6 1483.2,416.3C1484.2,416.0 1485.1,415.7 1486.1,415.4C1487.0,415.1 1488.0,414.8 1488.9,414.5C1489.9,414.2 1490.9,413.9 1491.8,413.6C1492.8,413.4 1493.7,413.1 1494.7,412.9C1495.7,412.6 1496.6,412.4 1497.6,412.1C1498.6,411.9 1499.5,411.6 1500.5,411.4C1501.5,411.2 1502.4,411.0 1503.4,410.8C1504.4,410.6 1505.3,410.4 1506.3,410.2C1507.3,410.0 1508.3,409.8 1509.2,409.6C1510.2,409.4 1511.2,409.3 1512.2,409.1C1513.2,408.9 1514.1,408.8 1515.1,408.6C1516.1,408.5 1517.1,408.4 1518.1,408.2C1519.1,408.1 1520.1,408.0 1521.0,407.9C1522.0,407.7 1523.0,407.6 1524.0,407.5C1525.0,407.4 1526.0,407.3 1527.0,407.2C1528.0,407.2 1529.0,407.1 1529.9,407.0C1530.9,406.9 1531.9,406.9 1532.9,406.8C1533.9,406.8 1534.9,406.7 1535.9,406.7C1536.9,406.7 1537.9,406.6 1538.9,406.6C1539.9,406.6 1540.9,406.6 1541.9,406.6C1542.9,406.6 1543.9,406.6 1544.8,406.6C1545.8,406.6 1546.8,406.6 1547.8,406.6C1548.8,406.6 1549.8,406.7 1550.8,406.7C1551.8,406.8 1552.8,406.8 1553.8,406.9C1554.8,406.9 1555.8,407.0 1556.8,407.0C1557.8,407.1 1558.8,407.2 1559.8,407.3C1560.8,407.4 1561.7,407.5 1562.7,407.6C1563.7,407.7 1564.7,407.8 1565.7,407.9C1566.7,408.0 1567.7,408.1 1568.7,408.3C1569.7,408.4 1570.7,408.6 1571.6,408.7C1572.6,408.9 1573.6,409.0 1574.6,409.2C1575.6,409.4 1576.6,409.5 1577.5,409.7C1578.5,409.9 1579.5,410.1 1580.5,410.3C1581.5,410.5 1582.5,410.7 1583.4,410.9C1584.4,411.1 1585.4,411.3 1586.4,411.6C1587.3,411.8 1588.3,412.0 1589.3,412.3C1590.2,412.5 1591.2,412.8 1592.2,413.0C1593.2,413.3 1594.1,413.6 1595.1,413.8C1596.1,414.1 1597.0,414.4 1598.0,414.7C1598.9,415.0 1599.9,415.3 1600.9,415.6C1601.8,415.9 1602.8,416.2 1603.7,416.5C1604.7,416.9 1605.6,417.2 1606.6,417.5C1607.5,417.9 1608.5,418.2 1609.4,418.6C1610.4,418.9 1611.3,419.3 1612.2,419.7C1613.2,420.0 1614.1,420.4 1615.1,420.8C1616.0,421.2 1616.9,421.6 1617.9,422.0C1618.8,422.4 1619.7,422.8 1620.6,423.2C1621.6,423.6 1622.5,424.1 1623.4,424.5C1624.3,424.9 1625.2,425.4 1626.1,425.8C1627.0,426.2 1628.0,426.7 1628.9,427.2C1629.8,427.6 1630.7,428.1 1631.6,428.6C1632.5,429.0 1633.4,429.5 1634.2,430.0C1635.1,430.5 1636.0,431.0 1636.9,431.5C1637.8,432.0 1638.7,432.5 1639.5,433.0C1640.4,433.5 1641.3,434.0 1642.2,434.5C1643.0,435.1 1643.9,435.6 1644.7,436.1C1645.6,436.7 1646.4,437.2 1647.3,437.8C1648.1,438.3 1649.0,438.9 1649.8,439.4C1650.7,440.0 1651.5,440.6 1652.3,441.1C1653.2,441.7 1654.0,442.3 1654.8,442.9C1655.6,443.4 1656.5,444.0 1657.3,444.6C1658.1,445.2 1658.9,445.8 1659.7,446.4C1660.5,447.0 1661.3,447.6 1662.1,448.2C1662.9,448.9 1663.6,449.5 1664.4,450.1C1665.2,450.7 1666.0,451.3 1666.8,452.0C1667.5,452.6 1668.3,453.3 1669.1,453.9C1669.8,454.5 1670.6,455.2 1671.3,455.8C1672.1,456.5 1672.9,457.1 1673.6,457.8C1674.4,458.5 1675.1,459.1 1675.8,459.8C1676.6,460.4 1677.3,461.1 1678.1,461.8C1678.8,462.5 1679.5,463.1 1680.3,463.8C1681.0,464.5 1681.7,465.2 1682.4,465.9C1683.1,466.5 1683.9,467.2 1684.6,467.9C1685.3,468.6 1686.0,469.3 1686.7,470.0C1687.4,470.7 1688.1,471.4 1688.8,472.1C1689.6,472.8 1690.3,473.5 1691.0,474.2C1691.7,474.9 1692.4,475.6 1693.1,476.4C1693.7,477.1 1694.4,477.8 1695.1,478.5C1695.8,479.2 1696.5,479.9 1697.2,480.6C1697.9,481.4 1698.6,482.1 1699.3,482.8C1700.0,483.5 1700.6,484.2 1701.3,485.0C1702.0,485.7 1702.7,486.4 1703.4,487.1C1704.0,487.9 1704.7,488.6 1705.4,489.3C1706.1,490.1 1706.8,490.8 1707.4,491.5C1708.1,492.3 1708.8,493.0 1709.5,493.7C1710.1,494.4 1710.8,495.2 1711.5,495.9C1712.2,496.7 1712.8,497.4 1713.5,498.1C1714.2,498.9 1714.8,499.6 1715.5,500.3C1716.2,501.1 1716.8,501.8 1717.5,502.6C1718.2,503.3 1718.8,504.0 1719.5,504.8C1720.2,505.5 1720.8,506.3 1721.5,507.0C1722.1,507.8 1722.8,508.5 1723.5,509.2C1724.1,510.0 1724.8,510.7 1725.4,511.5C1726.1,512.2 1726.8,513.0 1727.4,513.7C1728.1,514.5 1728.7,515.2 1729.4,516.0C1730.0,516.7 1730.7,517.5 1731.3,518.2C1732.0,519.0 1732.6,519.7 1733.3,520.5C1733.9,521.3 1734.6,522.0 1735.2,522.8C1735.9,523.5 1736.5,524.3 1737.2,525.0C1737.8,525.8 1738.5,526.6 1739.1,527.3C1739.8,528.1 1740.4,528.8 1741.0,529.6C1741.7,530.4 1742.3,531.1 1743.0,531.9C1743.6,532.6 1744.3,533.4 1744.9,534.2C1745.5,534.9 1746.2,535.7 1746.8,536.5C1747.5,537.2 1748.1,538.0 1748.7,538.8C1749.4,539.5 1750.0,540.3 1750.7,541.1C1751.3,541.8 1751.9,542.6 1752.6,543.4C1753.2,544.1 1753.8,544.9 1754.5,545.7C1755.1,546.4 1755.7,547.2 1756.4,548.0C1757.0,548.8 1757.6,549.5 1758.3,550.3C1758.9,551.1 1759.5,551.8 1760.1,552.6C1760.8,553.4 1761.4,554.2 1762.0,554.9C1762.7,555.7 1763.3,556.5 1763.9,557.3C1764.6,558.0 1765.2,558.8 1765.8,559.6C1766.4,560.4 1767.1,561.2 1767.7,561.9C1768.3,562.7 1768.9,563.5 1769.6,564.3C1770.2,565.0 1770.8,565.8 1771.4,566.6C1772.1,567.4 1772.7,568.2 1773.3,568.9C1773.9,569.7 1774.6,570.5 1775.2,571.3C1775.8,572.1 1776.4,572.9 1777.0,573.6C1777.7,574.4 1778.3,575.2 1778.9,576.0C1779.5,576.8 1780.1,577.5 1780.8,578.3C1781.4,579.1 1782.0,579.9 1782.6,580.7C1783.2,581.5 1783.9,582.3 1784.5,583.0C1785.1,583.8 1785.7,584.6 1786.3,585.4C1786.9,586.2 1787.6,587.0 1788.2,587.8C1788.8,588.5 1789.4,589.3 1790.0,590.1C1790.7,590.9 1791.3,591.7 1791.9,592.5C1792.5,593.3 1793.1,594.1 1793.7,594.8C1794.3,595.6 1795.0,596.4 1795.6,597.2C1796.2,598.0 1796.8,598.8 1797.4,599.6C1798.0,600.4 1798.7,601.2 1799.3,601.9C1799.9,602.7 1800.5,603.5 1801.1,604.3C1801.7,605.1 1802.3,605.9 1803.0,606.7C1803.6,607.5 1804.2,608.3 1804.8,609.1C1805.4,609.8 1806.0,610.6 1806.6,611.4C1807.3,612.2 1807.9,613.0 1808.5,613.8C1809.1,614.6 1809.7,615.4 1810.3,616.2C1810.9,617.0 1811.5,617.8 1812.2,618.6C1812.8,619.3 1813.4,620.1 1814.0,620.9C1814.6,621.7 1815.2,622.5 1815.8,623.3C1816.5,624.1 1817.1,624.9 1817.7,625.7C1818.3,626.5 1818.9,627.3 1819.5,628.1C1820.1,628.8 1820.7,629.6 1821.4,630.4C1822.0,631.2 1822.6,632.0 1823.2,632.8C1823.8,633.6 1824.4,634.4 1825.0,635.2C1825.7,636.0 1826.3,636.8 1826.9,637.6C1827.5,638.3 1828.1,639.1 1828.7,639.9C1829.3,640.7 1830.0,641.5 1830.6,642.3C1831.2,643.1 1831.8,643.9 1832.4,644.7C1833.0,645.5 1833.6,646.3 1834.3,647.1C1834.9,647.8 1835.5,648.6 1836.1,649.4C1836.7,650.2 1837.3,651.0 1838.0,651.8C1838.6,652.6 1839.2,653.4 1839.8,654.2C1840.4,655.0 1841.0,655.7 1841.7,656.5C1842.3,657.3 1842.9,658.1 1843.5,658.9C1844.1,659.7 1844.8,660.5 1845.4,661.3C1846.0,662.1 1846.6,662.8 1847.2,663.6C1847.8,664.4 1848.5,665.2 1849.1,666.0C1849.7,666.8 1850.3,667.6 1851.0,668.4C1851.6,669.2 1852.2,669.9 1852.8,670.7C1853.4,671.5 1854.1,672.3 1854.7,673.1C1855.3,673.9 1855.9,674.7 1856.6,675.4C1857.2,676.2 1857.8,677.0 1858.4,677.8C1859.1,678.6 1859.7,679.4 1860.3,680.1C1860.9,680.9 1861.6,681.7 1862.2,682.5C1862.8,683.3 1863.4,684.1 1864.1,684.8C1864.7,685.6 1865.3,686.4 1865.9,687.2C1866.6,688.0 1867.2,688.8 1867.8,689.5C1868.5,690.3 1869.1,691.1 1869.7,691.9C1870.4,692.7 1871.0,693.4 1871.6,694.2C1872.3,695.0 1872.9,695.8 1873.5,696.6C1874.2,697.3 1874.8,698.1 1875.4,698.9C1876.1,699.7 1876.7,700.4 1877.3,701.2C1878.0,702.0 1878.6,702.8 1879.2,703.5C1879.9,704.3 1880.5,705.1 1881.2,705.9C1881.8,706.6 1882.4,707.4 1883.1,708.2C1883.7,709.0 1884.4,709.7 1885.0,710.5C1885.6,711.3 1886.3,712.0 1886.9,712.8C1887.6,713.6 1888.2,714.4 1888.8,715.1C1889.5,715.9 1890.1,716.7 1890.8,717.4C1891.4,718.2 1892.1,719.0 1892.7,719.7C1893.4,720.5 1894.0,721.3 1894.7,722.0C1895.3,722.8 1896.0,723.6 1896.6,724.3C1897.2,725.1 1897.9,725.9 1898.5,726.6C1899.2,727.4 1899.9,728.1 1900.5,728.9C1901.2,729.7 1901.8,730.4 1902.5,731.2C1903.1,732.0 1903.8,732.7 1904.4,733.5C1905.1,734.2 1905.7,735.0 1906.4,735.8C1907.0,736.5 1907.7,737.3 1908.4,738.0C1909.0,738.8 1909.7,739.5 1910.3,740.3C1911.0,741.0 1911.7,741.8 1912.3,742.6C1913.0,743.3 1913.6,744.1 1914.3,744.8C1915.0,745.6 1915.6,746.3 1916.3,747.1C1916.9,747.8 1917.6,748.6 1918.3,749.3C1918.9,750.1 1919.6,750.8 1920.3,751.6C1920.9,752.3 1921.6,753.1 1922.3,753.8C1922.9,754.6 1923.6,755.3 1924.3,756.1C1925.0,756.8 1925.6,757.5 1926.3,758.3C1927.0,759.0 1927.6,759.8 1928.3,760.5C1929.0,761.3 1929.7,762.0 1930.3,762.7C1931.0,763.5 1931.7,764.2 1932.4,765.0C1933.0,765.7 1933.7,766.4 1934.4,767.2C1935.1,767.9 1935.8,768.6 1936.4,769.4C1937.1,770.1 1937.8,770.9 1938.5,771.6C1939.2,772.3 1939.8,773.1 1940.5,773.8C1941.2,774.5 1941.9,775.2 1942.6,776.0C1943.3,776.7 1943.9,777.4 1944.6,778.2C1945.3,778.9 1946.0,779.6 1946.7,780.4C1947.4,781.1 1948.1,781.8 1948.8,782.5C1949.4,783.3 1950.1,784.0 1950.8,784.7C1951.5,785.4 1952.2,786.1 1952.9,786.9C1953.6,787.6 1954.3,788.3 1955.0,789.0C1955.7,789.7 1956.4,790.5 1957.1,791.2C1957.8,791.9 1958.5,792.6 1959.2,793.3C1959.9,794.0 1960.6,794.8 1961.3,795.5C1962.0,796.2 1962.7,796.9 1963.4,797.6C1964.1,798.3 1964.8,799.0 1965.5,799.7C1966.2,800.5 1966.9,801.2 1967.6,801.9C1968.3,802.6 1969.0,803.3 1969.7,804.0C1970.4,804.7 1971.1,805.4 1971.9,806.1C1972.6,806.8 1973.3,807.5 1974.0,808.2C1974.7,808.9 1975.4,809.6 1976.1,810.3C1976.8,811.0 1977.6,811.7 1978.3,812.4C1979.0,813.1 1979.7,813.8 1980.4,814.5C1981.2,815.2 1981.9,815.9 1982.6,816.6C1983.3,817.3 1984.0,818.0 1984.8,818.6C1985.5,819.3 1986.2,820.0 1986.9,820.7C1987.7,821.4 1988.4,822.1 1989.1,822.8C1989.8,823.5 1990.6,824.1 1991.3,824.8C1992.0,825.5 1992.7,826.2 1993.5,826.9C1994.2,827.6 1994.9,828.2 1995.7,828.9C1996.4,829.6 1997.1,830.3 1997.9,831.0C1998.6,831.6 1999.3,832.3 2000.1,833.0C2000.8,833.7 2001.6,834.3 2002.3,835.0C2003.0,835.7 2003.8,836.3 2004.5,837.0C2005.3,837.7 2006.0,838.3 2006.7,839.0C2007.5,839.7 2008.2,840.3 2009.0,841.0C2009.7,841.7 2010.5,842.3 2011.2,843.0C2012.0,843.7 2012.7,844.3 2013.5,845.0C2014.2,845.6 2015.0,846.3 2015.7,847.0C2016.5,847.6 2017.2,848.3 2018.0,848.9C2018.7,849.6 2019.5,850.2 2020.2,850.9C2021.0,851.5 2021.8,852.2 2022.5,852.8C2023.3,853.5 2024.0,854.1 2024.8,854.8C2025.6,855.4 2026.3,856.1 2027.1,856.7C2027.9,857.4 2028.6,858.0 2029.4,858.6C2030.1,859.3 2030.9,859.9 2031.7,860.6C2032.5,861.2 2033.2,861.8 2034.0,862.5C2034.8,863.1 2035.5,863.7 2036.3,864.4C2037.1,865.0 2037.9,865.6 2038.6,866.3C2039.4,866.9 2040.2,867.5 2041.0,868.2C2041.7,868.8 2042.5,869.4 2043.3,870.0C2044.1,870.7 2044.9,871.3 2045.6,871.9C2046.4,872.5 2047.2,873.2 2048.0,873.8C2048.8,874.4 2049.5,875.0 2050.3,875.6C2051.1,876.3 2051.9,876.9 2052.7,877.5C2053.5,878.1 2054.3,878.7 2055.1,879.3C2055.9,880.0 2056.6,880.6 2057.4,881.2C2058.2,881.8 2059.0,882.4 2059.8,883.0C2060.6,883.6 2061.4,884.2 2062.2,884.8C2063.0,885.4 2063.8,886.0 2064.6,886.6C2065.4,887.3 2066.2,887.9 2067.0,888.5C2067.8,889.1 2068.6,889.7 2069.4,890.3C2070.2,890.9 2071.0,891.5 2071.8,892.1C2072.6,892.6 2073.4,893.2 2074.2,893.8C2075.0,894.4 2075.8,895.0 2076.6,895.6C2077.4,896.2 2078.2,896.8 2079.0,897.4C2079.8,898.0 2080.7,898.6 2081.5,899.2C2082.3,899.7 2083.1,900.3 2083.9,900.9C2084.7,901.5 2085.5,902.1 2086.3,902.7C2087.2,903.3 2088.0,903.8 2088.8,904.4C2089.6,905.0 2090.4,905.6 2091.2,906.2C2092.0,906.7 2092.9,907.3 2093.7,907.9C2094.5,908.5 2095.3,909.1 2096.1,909.6C2097.0,910.2 2097.8,910.8 2098.6,911.3C2099.4,911.9 2100.3,912.5 2101.1,913.1C2101.9,913.6 2102.7,914.2 2103.5,914.8C2104.4,915.3 2105.2,915.9 2106.0,916.5C2106.9,917.0 2107.7,917.6 2108.5,918.2C2109.3,918.7 2110.2,919.3 2111.0,919.9C2111.8,920.4 2112.7,921.0 2113.5,921.6C2114.3,922.1 2115.1,922.7 2116.0,923.2C2116.8,923.8 2117.6,924.3 2118.5,924.9C2119.3,925.5 2120.1,926.0 2121.0,926.6C2121.8,927.1 2122.6,927.7 2123.5,928.2C2124.3,928.8 2125.2,929.3 2126.0,929.9C2126.8,930.4 2127.7,931.0 2128.5,931.5C2129.3,932.1 2130.2,932.6 2131.0,933.2C2131.9,933.7 2132.7,934.3 2133.5,934.8C2134.4,935.4 2135.2,935.9 2136.1,936.5C2136.9,937.0 2137.8,937.5 2138.6,938.1C2139.4,938.6 2140.3,939.2 2141.1,939.7C2142.0,940.2 2142.8,940.8 2143.7,941.3C2144.5,941.9 2145.4,942.4 2146.2,942.9C2147.1,943.5 2147.9,944.0 2148.8,944.5C2149.6,945.1 2150.4,945.6 2151.3,946.1C2152.1,946.7 2153.0,947.2 2153.8,947.7C2154.7,948.3 2155.5,948.8 2156.4,949.3C2157.3,949.9 2158.1,950.4 2159.0,950.9C2159.8,951.5 2160.7,952.0 2161.5,952.5C2162.4,953.0 2163.2,953.6 2164.1,954.1C2164.9,954.6 2165.8,955.1 2166.6,955.7C2167.5,956.2 2168.3,956.7 2169.2,957.2C2170.1,957.7 2170.9,958.3 2171.8,958.8C2172.6,959.3 2173.5,959.8 2174.3,960.3C2175.2,960.9 2176.1,961.4 2176.9,961.9C2177.8,962.4 2178.6,962.9 2179.5,963.4C2180.3,964.0 2181.2,964.5 2182.1,965.0C2182.9,965.5 2183.8,966.0 2184.6,966.5C2185.5,967.0 2186.4,967.6 2187.2,968.1C2188.1,968.6 2189.0,969.1 2189.8,969.6C2190.7,970.1 2191.5,970.6 2192.4,971.1C2193.3,971.6 2194.1,972.1 2195.0,972.7C2195.9,973.2 2196.7,973.7 2197.6,974.2C2198.4,974.7 2199.3,975.2 2200.2,975.7C2201.0,976.2 2201.9,976.7 2202.8,977.2C2203.6,977.7 2204.5,978.2 2205.4,978.7C2206.2,979.2 2207.1,979.7 2208.0,980.2C2208.8,980.7 2209.7,981.2 2210.6,981.7C2211.4,982.2 2212.3,982.7 2213.2,983.2C2214.0,983.7 2214.9,984.2 2215.8,984.7C2216.6,985.2 2217.5,985.7 2218.4,986.2C2219.2,986.7 2220.1,987.2 2221.0,987.7C2221.8,988.2 2222.7,988.7 2223.6,989.1C2224.4,989.6 2225.3,990.1 2226.2,990.6C2227.0,991.1 2227.9,991.6 2228.8,992.1C2229.7,992.6 2231.0,993.3 2231.4,993.6" stroke="#008000" stroke-width="9.5"/>
</g>
<g id="frame">
<path d="M578.3,87.5 H2231.6" stroke="#727272" stroke-width="2.6"/>
<path d="M2231.6,86.3 V1311" stroke="#4e4e4e" stroke-width="2.9"/>
<path d="M578.3,85.8 V1313.8" stroke="#000" stroke-width="4.6"/>
<path d="M576,1311.4 H2234.2" stroke="#000" stroke-width="4.8"/>
<path d="M552,88 H578" stroke="#000" stroke-width="4.2"/>
<path d="M552,463.4 H578" stroke="#000" stroke-width="4.2"/>
<path d="M552,840.2 H578" stroke="#000" stroke-width="4.2"/>
<path d="M552,1217.2 H578" stroke="#000" stroke-width="4.2"/>
<path d="M785,1311 V1335" stroke="#000" stroke-width="5"/>
<path d="M1405,1311 V1335" stroke="#000" stroke-width="5"/>
<path d="M2024.8,1311 V1335" stroke="#000" stroke-width="5"/>
</g>
<g id="ticklabels">
<text class="b" transform="translate(194.68,113.20) scale(1.0543,1)" font-size="88.86">120,000</text>
<text class="b" transform="translate(247.90,489.20) scale(1.0346,1)" font-size="90.29">80,000</text>
<text class="b" transform="translate(246.39,865.90) scale(1.0352,1)" font-size="90.71">40,000</text>
<text class="b" transform="translate(481.52,1243.70) scale(1.0638,1)" font-size="88.86">0</text>
<text class="b" transform="translate(707.66,1420.10) scale(1.0419,1)" font-size="89.86">300</text>
<text class="b" transform="translate(1326.30,1420.10) scale(1.0499,1)" font-size="89.86">600</text>
<text class="b" transform="translate(1946.70,1420.10) scale(1.0499,1)" font-size="89.86">900</text>
</g>
<text transform="translate(1046.32,1544.60) scale(1.0507,1)" font-size="90.43">Wavelength (nm)</text>
<g id="ylabel">
<text transform="translate(127.60,840.90) rotate(-90) scale(0.9774,1)" x="-3.42" font-size="85.47">σ</text>
<text transform="translate(152.50,789.80) rotate(-90) scale(0.8320,1)" x="-2.82" font-size="70.62">ext</text>
<text transform="translate(126.00,682.80) rotate(-90) scale(0.9029,1)" x="-5.68" font-size="94.62">(nm</text>
<text transform="translate(88.00,538.20) rotate(-90) scale(0.9231,1)" x="-3.36" font-size="67.14">2</text>
<text transform="translate(126.00,502.20) rotate(-90) scale(0.8136,1)" x="-0.47" font-size="94.62">)</text>
</g>
<text transform="translate(1090.45,131.20) scale(1.0917,1)" font-size="52.57" fill="#3f6b24">470</text>
<text transform="translate(1230.47,650.40) scale(1.0372,1)" font-size="53.71" fill="#7a14ee">533</text>
<text transform="translate(1201.58,773.20) scale(1.0657,1)" font-size="52.71" fill="#ff00ff">492</text>
<text transform="translate(1119.07,899.20) scale(1.0796,1)" font-size="52.29" fill="#1a3672">458</text>
<text transform="translate(1068.68,1030.80) scale(1.0575,1)" font-size="53.14" fill="#0a0aff">436</text>
<text transform="translate(1013.46,1157.20) scale(1.0745,1)" font-size="53.00" fill="#ff0a0a">418</text>
<text transform="translate(954.67,1277.20) scale(1.0585,1)" font-size="53.43" fill="#0a0a0a">412</text>
<g id="legend">
<path class="c" d="M1848.7,122.0 H1974.7" stroke="#000000" stroke-width="9.5"/>
<text transform="translate(1988.90,137.80) scale(1.0651,1)" font-size="52.75">R=7 nm</text>
<path class="c" d="M1848.7,186.1 H1974.7" stroke="#ff0000" stroke-width="9.5"/>
<text transform="translate(1988.92,201.90) scale(1.0624,1)" font-size="52.75">R=12 nm</text>
<path class="c" d="M1848.7,250.2 H1974.7" stroke="#0000ff" stroke-width="9.5"/>
<text transform="translate(1988.92,266.00) scale(1.0624,1)" font-size="52.75">R=22 nm</text>
<path class="c" d="M1848.7,314.3 H1974.7" stroke="#000080" stroke-width="9.5"/>
<text transform="translate(1988.92,330.10) scale(1.0624,1)" font-size="52.75">R=30 nm</text>
<path class="c" d="M1848.7,378.4 H1974.7" stroke="#ff00ff" stroke-width="9.5"/>
<text transform="translate(1988.92,394.20) scale(1.0624,1)" font-size="52.75">R=40 nm</text>
<path class="c" d="M1848.7,442.5 H1974.7" stroke="#8000ff" stroke-width="9.5"/>
<text transform="translate(1988.92,458.30) scale(1.0624,1)" font-size="52.75">R=50 nm</text>
<path class="c" d="M1848.7,506.6 H1974.7" stroke="#008000" stroke-width="9.5"/>
<text transform="translate(1988.92,522.40) scale(1.0624,1)" font-size="52.75">R=75 nm</text>
</g>
</svg></body></html>
